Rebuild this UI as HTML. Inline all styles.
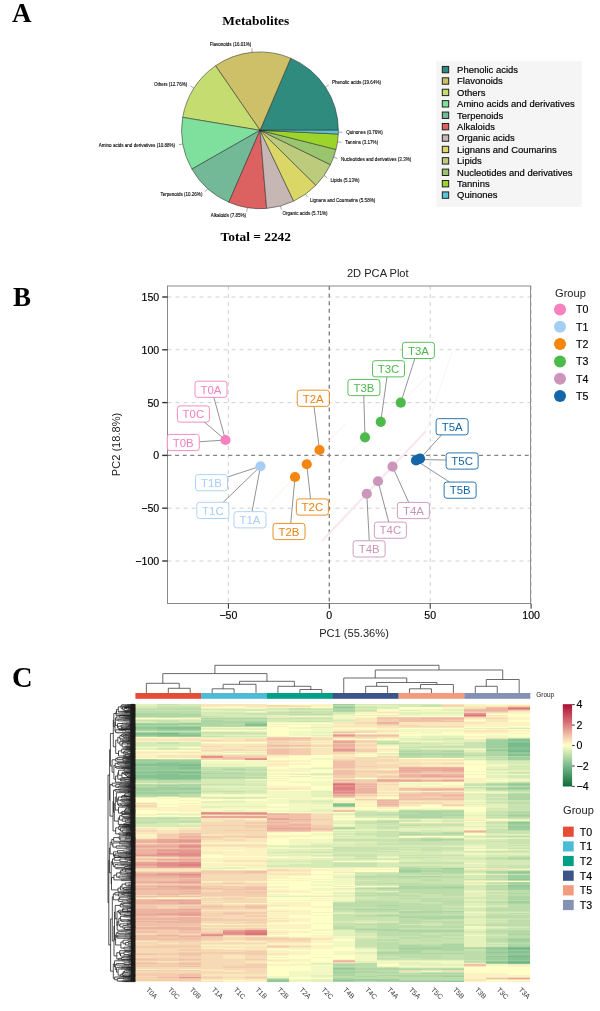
<!DOCTYPE html>
<html lang="en"><head><meta charset="utf-8"><title>Metabolites figure</title>
<style>
html,body{margin:0;padding:0;background:#fff}
svg{display:block}
text{font-family:"Liberation Sans",sans-serif}
.pl{font-family:"Liberation Serif",serif;font-weight:bold;font-size:27px;fill:#000}
.tt{font-family:"Liberation Serif",serif;font-weight:bold;font-size:13.4px;fill:#000}
.pie{font-size:4.55px;fill:#000;stroke:#000;stroke-width:0.1px}
.lg{font-size:9.45px;fill:#000;stroke:#000;stroke-width:0.18px}
.ax{font-size:10.6px;fill:#000;stroke:#000;stroke-width:0.15px}
.at{font-size:11.1px;fill:#222}
.lb{font-size:11.4px;text-anchor:middle}
.cl{font-size:6.3px;fill:#555}
</style></head><body>
<svg width="600" height="1011" viewBox="0 0 600 1011">
<rect width="600" height="1011" fill="#fff"/>
<text class="pl" x="12" y="21.8">A</text>
<text class="pl" x="13" y="305.8">B</text>
<text class="pl" x="12" y="686.7" style="font-size:28.5px">C</text>
<g id="pie">
<text class="tt" x="255.8" y="25" text-anchor="middle">Metabolites</text>
<path d="M260 130.3L338.40 130.30A78.4 78.4 0 0 0 290.73 58.17Z" fill="#2E8B7E" stroke="#222" stroke-width="0.5" stroke-linejoin="round"/>
<path d="M325.41 87.07L328.68 84.91" stroke="#222" stroke-width="0.4"/>
<text class="pie" x="331.95" y="84.25" text-anchor="start">Phenolic acids (19.64%)</text>
<path d="M260 130.3L290.73 58.17A78.4 78.4 0 0 0 215.53 65.74Z" fill="#CDC068" stroke="#222" stroke-width="0.5" stroke-linejoin="round"/>
<path d="M252.16 52.29L251.76 48.39" stroke="#222" stroke-width="0.4"/>
<text class="pie" x="251.37" y="45.99" text-anchor="end">Flavonoids (16.01%)</text>
<path d="M260 130.3L215.53 65.74A78.4 78.4 0 0 0 182.68 117.35Z" fill="#C5DC70" stroke="#222" stroke-width="0.5" stroke-linejoin="round"/>
<path d="M193.86 88.21L190.55 86.10" stroke="#222" stroke-width="0.4"/>
<text class="pie" x="187.24" y="85.50" text-anchor="end">Others (12.76%)</text>
<path d="M260 130.3L182.68 117.35A78.4 78.4 0 0 0 191.87 169.10Z" fill="#7FDF9C" stroke="#222" stroke-width="0.5" stroke-linejoin="round"/>
<path d="M182.81 144.02L178.95 144.71" stroke="#222" stroke-width="0.4"/>
<text class="pie" x="175.09" y="146.89" text-anchor="end">Amino acids and derivatives (10.88%)</text>
<path d="M260 130.3L191.87 169.10A78.4 78.4 0 0 0 228.86 202.25Z" fill="#73B897" stroke="#222" stroke-width="0.5" stroke-linejoin="round"/>
<path d="M207.67 188.68L205.06 191.60" stroke="#222" stroke-width="0.4"/>
<text class="pie" x="202.44" y="196.02" text-anchor="end">Terpenoids (10.26%)</text>
<path d="M260 130.3L228.86 202.25A78.4 78.4 0 0 0 266.64 208.42Z" fill="#DC6262" stroke="#222" stroke-width="0.5" stroke-linejoin="round"/>
<path d="M247.37 207.68L246.74 211.54" stroke="#222" stroke-width="0.4"/>
<text class="pie" x="246.11" y="216.91" text-anchor="end">Alkaloids (7.85%)</text>
<path d="M260 130.3L266.64 208.42A78.4 78.4 0 0 0 293.65 201.11Z" fill="#C6B6B4" stroke="#222" stroke-width="0.5" stroke-linejoin="round"/>
<path d="M280.47 205.98L281.50 209.76" stroke="#222" stroke-width="0.4"/>
<text class="pie" x="282.52" y="215.05" text-anchor="start">Organic acids (5.71%)</text>
<path d="M260 130.3L293.65 201.11A78.4 78.4 0 0 0 315.92 185.25Z" fill="#DBD766" stroke="#222" stroke-width="0.5" stroke-linejoin="round"/>
<path d="M305.48 194.16L307.76 197.35" stroke="#222" stroke-width="0.4"/>
<text class="pie" x="310.03" y="202.04" text-anchor="start">Lignans and Coumarins (5.58%)</text>
<path d="M260 130.3L315.92 185.25A78.4 78.4 0 0 0 330.45 164.70Z" fill="#BCCB7C" stroke="#222" stroke-width="0.5" stroke-linejoin="round"/>
<path d="M324.02 175.56L327.22 177.82" stroke="#222" stroke-width="0.4"/>
<text class="pie" x="330.42" y="181.59" text-anchor="start">Lipids (5.13%)</text>
<path d="M260 130.3L330.45 164.70A78.4 78.4 0 0 0 336.02 149.46Z" fill="#98C56E" stroke="#222" stroke-width="0.5" stroke-linejoin="round"/>
<path d="M333.63 157.23L337.31 158.57" stroke="#222" stroke-width="0.4"/>
<text class="pie" x="340.99" y="161.42" text-anchor="start">Nucleotides and derivatives (3.3%)</text>
<path d="M260 130.3L336.02 149.46A78.4 78.4 0 0 0 338.31 134.04Z" fill="#9DD42B" stroke="#222" stroke-width="0.5" stroke-linejoin="round"/>
<path d="M337.55 141.81L341.43 142.39" stroke="#222" stroke-width="0.4"/>
<text class="pie" x="345.31" y="144.46" text-anchor="start">Tannins (3.17%)</text>
<path d="M260 130.3L338.31 134.04A78.4 78.4 0 0 0 338.40 130.30Z" fill="#5BC4D8" stroke="#222" stroke-width="0.5" stroke-linejoin="round"/>
<path d="M338.38 132.17L342.30 132.27" stroke="#222" stroke-width="0.4"/>
<text class="pie" x="346.22" y="133.86" text-anchor="start">Quinones (0.76%)</text>
<text class="tt" x="255.8" y="241" text-anchor="middle">Total = 2242</text>
<rect x="436.2" y="61.2" width="145.8" height="145.8" fill="#f5f5f5"/>
<rect x="442.3" y="66.40" width="6.4" height="6.4" fill="#2E8B7E" stroke="#1a1a1a" stroke-width="0.95"/>
<text class="lg" x="457.1" y="72.90">Phenolic acids</text>
<rect x="442.3" y="77.81" width="6.4" height="6.4" fill="#CDC068" stroke="#1a1a1a" stroke-width="0.95"/>
<text class="lg" x="457.1" y="84.31">Flavonoids</text>
<rect x="442.3" y="89.22" width="6.4" height="6.4" fill="#C5DC70" stroke="#1a1a1a" stroke-width="0.95"/>
<text class="lg" x="457.1" y="95.72">Others</text>
<rect x="442.3" y="100.63" width="6.4" height="6.4" fill="#7FDF9C" stroke="#1a1a1a" stroke-width="0.95"/>
<text class="lg" x="457.1" y="107.13">Amino acids and derivatives</text>
<rect x="442.3" y="112.04" width="6.4" height="6.4" fill="#73B897" stroke="#1a1a1a" stroke-width="0.95"/>
<text class="lg" x="457.1" y="118.54">Terpenoids</text>
<rect x="442.3" y="123.45" width="6.4" height="6.4" fill="#DC6262" stroke="#1a1a1a" stroke-width="0.95"/>
<text class="lg" x="457.1" y="129.95">Alkaloids</text>
<rect x="442.3" y="134.86" width="6.4" height="6.4" fill="#C6B6B4" stroke="#1a1a1a" stroke-width="0.95"/>
<text class="lg" x="457.1" y="141.36">Organic acids</text>
<rect x="442.3" y="146.27" width="6.4" height="6.4" fill="#DBD766" stroke="#1a1a1a" stroke-width="0.95"/>
<text class="lg" x="457.1" y="152.77">Lignans and Coumarins</text>
<rect x="442.3" y="157.68" width="6.4" height="6.4" fill="#BCCB7C" stroke="#1a1a1a" stroke-width="0.95"/>
<text class="lg" x="457.1" y="164.18">Lipids</text>
<rect x="442.3" y="169.09" width="6.4" height="6.4" fill="#98C56E" stroke="#1a1a1a" stroke-width="0.95"/>
<text class="lg" x="457.1" y="175.59">Nucleotides and derivatives</text>
<rect x="442.3" y="180.50" width="6.4" height="6.4" fill="#9DD42B" stroke="#1a1a1a" stroke-width="0.95"/>
<text class="lg" x="457.1" y="187.00">Tannins</text>
<rect x="442.3" y="191.91" width="6.4" height="6.4" fill="#5BC4D8" stroke="#1a1a1a" stroke-width="0.95"/>
<text class="lg" x="457.1" y="198.41">Quinones</text>
</g>
<g id="pca">
<text class="at" x="377.8" y="277" text-anchor="middle" fill="#111">2D PCA Plot</text>
<rect x="167.5" y="286" width="363.1" height="317.5" fill="#fff"/>
<path d="M228.4 286V603.5" stroke="#cbcbcb" stroke-width="0.9" stroke-dasharray="4 4" fill="none"/>
<path d="M430.2 286V603.5" stroke="#cbcbcb" stroke-width="0.9" stroke-dasharray="4 4" fill="none"/>
<path d="M531.1 286V603.5" stroke="#cbcbcb" stroke-width="0.9" stroke-dasharray="4 4" fill="none"/>
<path d="M167.5 561.0H530.6" stroke="#cbcbcb" stroke-width="0.9" stroke-dasharray="4 4" fill="none"/>
<path d="M167.5 508.2H530.6" stroke="#cbcbcb" stroke-width="0.9" stroke-dasharray="4 4" fill="none"/>
<path d="M167.5 402.6H530.6" stroke="#cbcbcb" stroke-width="0.9" stroke-dasharray="4 4" fill="none"/>
<path d="M167.5 349.8H530.6" stroke="#cbcbcb" stroke-width="0.9" stroke-dasharray="4 4" fill="none"/>
<path d="M167.5 297.0H530.6" stroke="#cbcbcb" stroke-width="0.9" stroke-dasharray="4 4" fill="none"/>
<path d="M329.3 286V603.5M167.5 455.4H530.6" stroke="#858585" stroke-width="1.4" stroke-dasharray="4 3.6" fill="none"/>
<path d="M322 541L426 431" stroke="#fae6ee" stroke-width="2" fill="none"/>
<path d="M426 431L452 352" stroke="#fcf1f5" stroke-width="0.9" fill="none"/>
<path d="M340 463L428 376" stroke="#eef7ec" stroke-width="1" fill="none"/>
<path d="M270 503L345 424" stroke="#fdf1e2" stroke-width="1" fill="none"/>
<rect x="167.5" y="286" width="363.1" height="317.5" fill="none" stroke="#7d7d7d" stroke-width="0.9"/>
<path d="M228.4 603.5v5.2" stroke="#111" stroke-width="0.9"/>
<text class="ax" x="228.4" y="619.4" text-anchor="middle">−50</text>
<path d="M329.3 603.5v5.2" stroke="#111" stroke-width="0.9"/>
<text class="ax" x="329.3" y="619.4" text-anchor="middle">0</text>
<path d="M430.2 603.5v5.2" stroke="#111" stroke-width="0.9"/>
<text class="ax" x="430.2" y="619.4" text-anchor="middle">50</text>
<path d="M531.1 603.5v5.2" stroke="#111" stroke-width="0.9"/>
<text class="ax" x="531.1" y="619.4" text-anchor="middle">100</text>
<path d="M167.5 561.0h-5.3" stroke="#333" stroke-width="1.4"/>
<text class="ax" x="159.2" y="565.0" text-anchor="end">−100</text>
<path d="M167.5 508.2h-5.3" stroke="#333" stroke-width="1.4"/>
<text class="ax" x="159.2" y="512.2" text-anchor="end">−50</text>
<path d="M167.5 455.4h-5.3" stroke="#333" stroke-width="1.4"/>
<text class="ax" x="159.2" y="459.4" text-anchor="end">0</text>
<path d="M167.5 402.6h-5.3" stroke="#333" stroke-width="1.4"/>
<text class="ax" x="159.2" y="406.6" text-anchor="end">50</text>
<path d="M167.5 349.8h-5.3" stroke="#333" stroke-width="1.4"/>
<text class="ax" x="159.2" y="353.8" text-anchor="end">100</text>
<path d="M167.5 297.0h-5.3" stroke="#333" stroke-width="1.4"/>
<text class="ax" x="159.2" y="301.0" text-anchor="end">150</text>
<text class="at" x="354" y="637" text-anchor="middle">PC1 (55.36%)</text>
<text class="at" transform="translate(120.3 444.5) rotate(-90)" text-anchor="middle">PC2 (18.8%)</text>
<path d="M213.75 397L225.5 440" stroke="#777" stroke-width="0.8" fill="none"/>
<path d="M203.75 421.5L225.5 440" stroke="#777" stroke-width="0.8" fill="none"/>
<path d="M199.5 441.75L225.5 440" stroke="#777" stroke-width="0.8" fill="none"/>
<path d="M227.5 477L260.5 466.25" stroke="#777" stroke-width="0.8" fill="none"/>
<path d="M223 502.5L260.5 466.25" stroke="#777" stroke-width="0.8" fill="none"/>
<path d="M252 511.75L260.5 466.25" stroke="#777" stroke-width="0.8" fill="none"/>
<path d="M314 406.25L319.5 450" stroke="#777" stroke-width="0.8" fill="none"/>
<path d="M310.5 498.75L306.75 464.25" stroke="#777" stroke-width="0.8" fill="none"/>
<path d="M290.75 523.25L295 477" stroke="#777" stroke-width="0.8" fill="none"/>
<path d="M415 358L400.75 402.7" stroke="#777" stroke-width="0.8" fill="none"/>
<path d="M387 376.5L380.75 421.8" stroke="#777" stroke-width="0.8" fill="none"/>
<path d="M363.75 395.3L365 437.3" stroke="#777" stroke-width="0.8" fill="none"/>
<path d="M408.75 502.5L392.5 466.6" stroke="#777" stroke-width="0.8" fill="none"/>
<path d="M388.75 522L378 481.25" stroke="#777" stroke-width="0.8" fill="none"/>
<path d="M369.25 540.75L366.75 493.75" stroke="#777" stroke-width="0.8" fill="none"/>
<path d="M442 434.5L420 458.6" stroke="#777" stroke-width="0.8" fill="none"/>
<path d="M446.25 460L418 459.5" stroke="#777" stroke-width="0.8" fill="none"/>
<path d="M449.5 482L416 460.4" stroke="#777" stroke-width="0.8" fill="none"/>
<circle cx="225.5" cy="440" r="5.1" fill="#F781BF"/>
<circle cx="260.5" cy="466.25" r="5.1" fill="#A6CEF5"/>
<circle cx="319.5" cy="450" r="5.1" fill="#F5860F"/>
<circle cx="306.75" cy="464.25" r="5.1" fill="#F5860F"/>
<circle cx="295" cy="477" r="5.1" fill="#F5860F"/>
<circle cx="400.75" cy="402.7" r="5.1" fill="#4CBB4C"/>
<circle cx="380.75" cy="421.8" r="5.1" fill="#4CBB4C"/>
<circle cx="365" cy="437.3" r="5.1" fill="#4CBB4C"/>
<circle cx="392.5" cy="466.6" r="5.1" fill="#CC96BA"/>
<circle cx="378" cy="481.25" r="5.1" fill="#CC96BA"/>
<circle cx="366.75" cy="493.75" r="5.1" fill="#CC96BA"/>
<circle cx="420" cy="458.6" r="5.1" fill="#1566A8"/>
<circle cx="418" cy="459.5" r="5.1" fill="#1566A8"/>
<circle cx="416" cy="460.4" r="5.1" fill="#1566A8"/>
<rect x="195.00" y="381.17" width="32" height="16.2" rx="2.6" fill="#fff" stroke="#F27FBC" stroke-width="0.9"/>
<text class="lb" x="211.00" y="393.57" fill="#F27FBC">T0A</text>
<rect x="177.38" y="405.92" width="32" height="16.2" rx="2.6" fill="#fff" stroke="#F27FBC" stroke-width="0.9"/>
<text class="lb" x="193.38" y="418.32" fill="#F27FBC">T0C</text>
<rect x="167.25" y="434.42" width="32" height="16.2" rx="2.6" fill="#fff" stroke="#F27FBC" stroke-width="0.9"/>
<text class="lb" x="183.25" y="446.82" fill="#F27FBC">T0B</text>
<rect x="195.50" y="474.55" width="32" height="16.2" rx="2.6" fill="#fff" stroke="#A6CEF5" stroke-width="0.9"/>
<text class="lb" x="211.50" y="486.95" fill="#A6CEF5">T1B</text>
<rect x="196.88" y="502.30" width="32" height="16.2" rx="2.6" fill="#fff" stroke="#A6CEF5" stroke-width="0.9"/>
<text class="lb" x="212.88" y="514.70" fill="#A6CEF5">T1C</text>
<rect x="234.00" y="511.67" width="32" height="16.2" rx="2.6" fill="#fff" stroke="#A6CEF5" stroke-width="0.9"/>
<text class="lb" x="250.00" y="524.07" fill="#A6CEF5">T1A</text>
<rect x="297.25" y="390.17" width="32" height="16.2" rx="2.6" fill="#fff" stroke="#E8850F" stroke-width="0.9"/>
<text class="lb" x="313.25" y="402.57" fill="#E8850F">T2A</text>
<rect x="296.38" y="498.92" width="32" height="16.2" rx="2.6" fill="#fff" stroke="#E8850F" stroke-width="0.9"/>
<text class="lb" x="312.38" y="511.32" fill="#E8850F">T2C</text>
<rect x="273.00" y="523.42" width="32" height="16.2" rx="2.6" fill="#fff" stroke="#E8850F" stroke-width="0.9"/>
<text class="lb" x="289.00" y="535.82" fill="#E8850F">T2B</text>
<rect x="402.38" y="342.30" width="32" height="16.2" rx="2.6" fill="#fff" stroke="#4CB84C" stroke-width="0.9"/>
<text class="lb" x="418.38" y="354.70" fill="#4CB84C">T3A</text>
<rect x="372.50" y="360.67" width="32" height="16.2" rx="2.6" fill="#fff" stroke="#4CB84C" stroke-width="0.9"/>
<text class="lb" x="388.50" y="373.07" fill="#4CB84C">T3C</text>
<rect x="347.90" y="379.45" width="32" height="16.2" rx="2.6" fill="#fff" stroke="#4CB84C" stroke-width="0.9"/>
<text class="lb" x="363.90" y="391.85" fill="#4CB84C">T3B</text>
<rect x="397.38" y="502.42" width="32" height="16.2" rx="2.6" fill="#fff" stroke="#C993B7" stroke-width="0.9"/>
<text class="lb" x="413.38" y="514.82" fill="#C993B7">T4A</text>
<rect x="374.38" y="522.05" width="32" height="16.2" rx="2.6" fill="#fff" stroke="#C993B7" stroke-width="0.9"/>
<text class="lb" x="390.38" y="534.45" fill="#C993B7">T4C</text>
<rect x="353.12" y="540.80" width="32" height="16.2" rx="2.6" fill="#fff" stroke="#C993B7" stroke-width="0.9"/>
<text class="lb" x="369.12" y="553.20" fill="#C993B7">T4B</text>
<rect x="436.12" y="418.67" width="32" height="16.2" rx="2.6" fill="#fff" stroke="#1566A8" stroke-width="0.9"/>
<text class="lb" x="452.12" y="431.07" fill="#1566A8">T5A</text>
<rect x="446.12" y="452.92" width="32" height="16.2" rx="2.6" fill="#fff" stroke="#1566A8" stroke-width="0.9"/>
<text class="lb" x="462.12" y="465.32" fill="#1566A8">T5C</text>
<rect x="444.12" y="482.05" width="32" height="16.2" rx="2.6" fill="#fff" stroke="#1566A8" stroke-width="0.9"/>
<text class="lb" x="460.12" y="494.45" fill="#1566A8">T5B</text>
<text class="at" x="555" y="296.6" fill="#111">Group</text>
<circle cx="560" cy="309.4" r="6" fill="#F781BF"/>
<text class="ax" x="576" y="313.2" fill="#111">T0</text>
<circle cx="560" cy="326.7" r="6" fill="#A6CEF5"/>
<text class="ax" x="576" y="330.5" fill="#111">T1</text>
<circle cx="560" cy="344.1" r="6" fill="#F5860F"/>
<text class="ax" x="576" y="347.9" fill="#111">T2</text>
<circle cx="560" cy="361.4" r="6" fill="#4CBB4C"/>
<text class="ax" x="576" y="365.2" fill="#111">T3</text>
<circle cx="560" cy="378.7" r="6" fill="#CC96BA"/>
<text class="ax" x="576" y="382.5" fill="#111">T4</text>
<circle cx="560" cy="396.0" r="6" fill="#1566A8"/>
<text class="ax" x="576" y="399.8" fill="#111">T5</text>
</g>
<g id="heatmap">
<rect x="135.4" y="704" width="394.7" height="277.7" fill="#eef0c0"/>
<g shape-rendering="crispEdges">
<path fill="#6db284" d="M508.2 948h21.9v1h-21.9zM508.2 962h21.9v1h-21.9z"/>
<path fill="#78ba8c" d="M157.3 733h21.9v1h-21.9zM508.2 743h21.9v1h-21.9zM508.2 744h21.9v1h-21.9zM508.2 745h21.9v1h-21.9zM508.2 746h21.9v1h-21.9zM508.2 750h21.9v1h-21.9zM508.2 751h21.9v1h-21.9zM179.3 765h21.9v1h-21.9zM179.3 772h21.9v1h-21.9zM508.2 956h21.9v1h-21.9zM508.2 961h21.9v1h-21.9z"/>
<path fill="#86c192" d="M245.1 724h21.9v1h-21.9zM245.1 725h21.9v1h-21.9zM157.3 727h43.9v1h-43.9zM157.3 728h43.9v1h-43.9zM135.4 733h21.9v1h-21.9zM135.4 734h43.9v1h-43.9zM157.3 735h43.9v1h-43.9zM508.2 739h21.9v1h-21.9zM508.2 740h21.9v1h-21.9zM508.2 742h21.9v1h-21.9zM508.2 747h21.9v1h-21.9zM508.2 748h21.9v1h-21.9zM508.2 749h21.9v1h-21.9zM508.2 754h21.9v1h-21.9zM508.2 755h21.9v1h-21.9zM157.3 763h21.9v1h-21.9zM135.4 764h65.8v1h-65.8zM135.4 765h43.9v1h-43.9zM179.3 767h21.9v1h-21.9zM179.3 768h21.9v1h-21.9zM157.3 771h21.9v1h-21.9zM135.4 772h43.9v1h-43.9zM157.3 774h21.9v1h-21.9zM135.4 775h65.8v1h-65.8zM135.4 776h65.8v1h-65.8zM135.4 777h65.8v1h-65.8zM157.3 778h43.9v1h-43.9zM332.8 804h21.9v1h-21.9zM332.8 805h21.9v1h-21.9zM508.2 947h21.9v1h-21.9zM508.2 949h21.9v1h-21.9zM508.2 951h21.9v1h-21.9zM508.2 952h21.9v1h-21.9zM508.2 955h21.9v1h-21.9zM508.2 957h21.9v1h-21.9zM508.2 958h21.9v1h-21.9zM508.2 959h21.9v1h-21.9zM486.3 962h21.9v1h-21.9zM508.2 963h21.9v1h-21.9z"/>
<path fill="#93c898" d="M332.8 707h21.9v1h-21.9zM245.1 723h21.9v1h-21.9zM135.4 724h43.9v1h-43.9zM135.4 727h21.9v1h-21.9zM135.4 728h21.9v1h-21.9zM157.3 729h43.9v1h-43.9zM179.3 733h21.9v1h-21.9zM179.3 734h21.9v1h-21.9zM135.4 735h21.9v1h-21.9zM508.2 741h21.9v1h-21.9zM486.3 750h21.9v1h-21.9zM508.2 752h21.9v1h-21.9zM508.2 753h21.9v1h-21.9zM157.3 762h43.9v1h-43.9zM135.4 763h21.9v1h-21.9zM179.3 763h21.9v1h-21.9zM157.3 766h43.9v1h-43.9zM135.4 767h43.9v1h-43.9zM135.4 768h43.9v1h-43.9zM135.4 769h65.8v1h-65.8zM135.4 771h21.9v1h-21.9zM179.3 771h21.9v1h-21.9zM135.4 773h65.8v1h-65.8zM135.4 774h21.9v1h-21.9zM179.3 774h21.9v1h-21.9zM135.4 778h21.9v1h-21.9zM157.3 779h43.9v1h-43.9zM508.2 784h21.9v1h-21.9zM179.3 788h21.9v1h-21.9zM508.2 788h21.9v1h-21.9zM508.2 822h21.9v1h-21.9zM508.2 823h21.9v1h-21.9zM508.2 826h21.9v1h-21.9zM508.2 872h21.9v1h-21.9zM508.2 879h21.9v1h-21.9zM508.2 885h21.9v1h-21.9zM508.2 886h21.9v1h-21.9zM486.3 948h21.9v1h-21.9zM508.2 950h21.9v1h-21.9zM486.3 952h21.9v1h-21.9zM508.2 953h21.9v1h-21.9zM508.2 954h21.9v1h-21.9zM486.3 956h21.9v1h-21.9zM508.2 960h21.9v1h-21.9zM486.3 961h21.9v1h-21.9zM332.8 968h21.9v1h-21.9zM267.0 980h21.9v1h-21.9zM332.8 980h21.9v1h-21.9zM267.0 981h21.9v1h-21.9zM442.4 981h21.9v1h-21.9z"/>
<path fill="#a0cf9e" d="M332.8 704h21.9v1h-21.9zM245.1 722h21.9v1h-21.9zM179.3 723h21.9v1h-21.9zM179.3 724h21.9v1h-21.9zM135.4 726h65.8v1h-65.8zM135.4 729h21.9v1h-21.9zM157.3 730h43.9v1h-43.9zM135.4 732h43.9v1h-43.9zM157.3 736h43.9v1h-43.9zM486.3 740h21.9v1h-21.9zM486.3 741h21.9v1h-21.9zM486.3 742h21.9v1h-21.9zM486.3 743h21.9v1h-21.9zM486.3 744h21.9v1h-21.9zM486.3 745h21.9v1h-21.9zM486.3 746h21.9v1h-21.9zM486.3 747h21.9v1h-21.9zM486.3 749h21.9v1h-21.9zM508.2 757h21.9v1h-21.9zM508.2 758h21.9v1h-21.9zM508.2 759h21.9v1h-21.9zM135.4 760h65.8v1h-65.8zM135.4 761h65.8v1h-65.8zM135.4 762h21.9v1h-21.9zM135.4 766h21.9v1h-21.9zM135.4 770h65.8v1h-65.8zM135.4 779h21.9v1h-21.9zM508.2 783h21.9v1h-21.9zM157.3 785h21.9v1h-21.9zM508.2 785h21.9v1h-21.9zM157.3 787h21.9v1h-21.9zM508.2 787h21.9v1h-21.9zM135.4 788h43.9v1h-43.9zM135.4 789h65.8v1h-65.8zM135.4 790h21.9v1h-21.9zM135.4 792h65.8v1h-65.8zM135.4 793h43.9v1h-43.9zM332.8 803h21.9v1h-21.9zM332.8 806h21.9v1h-21.9zM508.2 815h21.9v1h-21.9zM508.2 824h21.9v1h-21.9zM508.2 827h21.9v1h-21.9zM508.2 828h21.9v1h-21.9zM508.2 829h21.9v1h-21.9zM442.4 868h21.9v1h-21.9zM398.6 870h21.9v1h-21.9zM398.6 871h21.9v1h-21.9zM508.2 871h21.9v1h-21.9zM508.2 873h21.9v1h-21.9zM508.2 875h21.9v1h-21.9zM508.2 876h21.9v1h-21.9zM508.2 877h21.9v1h-21.9zM508.2 878h21.9v1h-21.9zM508.2 883h21.9v1h-21.9zM442.4 887h21.9v1h-21.9zM508.2 887h21.9v1h-21.9zM508.2 888h21.9v1h-21.9zM508.2 889h21.9v1h-21.9zM508.2 901h21.9v1h-21.9zM508.2 902h21.9v1h-21.9zM508.2 939h21.9v1h-21.9zM508.2 940h21.9v1h-21.9zM508.2 946h21.9v1h-21.9zM486.3 947h21.9v1h-21.9zM398.6 948h43.9v1h-43.9zM486.3 949h21.9v1h-21.9zM486.3 950h21.9v1h-21.9zM486.3 951h21.9v1h-21.9zM486.3 953h21.9v1h-21.9zM486.3 954h21.9v1h-21.9zM486.3 957h21.9v1h-21.9zM486.3 958h21.9v1h-21.9zM486.3 959h21.9v1h-21.9zM486.3 963h21.9v1h-21.9zM332.8 969h21.9v1h-21.9zM332.8 972h21.9v1h-21.9zM442.4 976h21.9v1h-21.9zM267.0 979h21.9v1h-21.9zM332.8 979h65.8v1h-65.8zM354.7 980h43.9v1h-43.9zM398.6 981h43.9v1h-43.9z"/>
<path fill="#aed6a4" d="M332.8 706h21.9v1h-21.9zM332.8 708h21.9v1h-21.9zM332.8 709h21.9v1h-21.9zM332.8 710h21.9v1h-21.9zM332.8 711h21.9v1h-21.9zM135.4 713h43.9v1h-43.9zM135.4 714h65.8v1h-65.8zM135.4 715h65.8v1h-65.8zM135.4 716h65.8v1h-65.8zM201.2 718h65.8v1h-65.8zM201.2 720h21.9v1h-21.9zM201.2 721h65.8v1h-65.8zM201.2 722h43.9v1h-43.9zM135.4 723h43.9v1h-43.9zM201.2 723h43.9v1h-43.9zM201.2 724h21.9v1h-21.9zM135.4 725h43.9v1h-43.9zM201.2 725h43.9v1h-43.9zM135.4 730h21.9v1h-21.9zM179.3 732h21.9v1h-21.9zM135.4 736h21.9v1h-21.9zM486.3 739h21.9v1h-21.9zM486.3 748h21.9v1h-21.9zM398.6 751h21.9v1h-21.9zM442.4 751h21.9v1h-21.9zM486.3 751h21.9v1h-21.9zM486.3 752h21.9v1h-21.9zM398.6 753h65.8v1h-65.8zM486.3 753h21.9v1h-21.9zM398.6 754h65.8v1h-65.8zM486.3 754h21.9v1h-21.9zM398.6 755h21.9v1h-21.9zM442.4 755h21.9v1h-21.9zM486.3 755h21.9v1h-21.9zM508.2 756h21.9v1h-21.9zM135.4 759h21.9v1h-21.9zM223.1 769h21.9v1h-21.9zM201.2 773h43.9v1h-43.9zM201.2 777h43.9v1h-43.9zM179.3 784h21.9v1h-21.9zM486.3 784h21.9v1h-21.9zM135.4 785h21.9v1h-21.9zM179.3 785h21.9v1h-21.9zM157.3 786h43.9v1h-43.9zM135.4 787h21.9v1h-21.9zM179.3 787h21.9v1h-21.9zM486.3 788h21.9v1h-21.9zM486.3 789h43.9v1h-43.9zM157.3 790h43.9v1h-43.9zM135.4 791h65.8v1h-65.8zM179.3 793h21.9v1h-21.9zM135.4 794h43.9v1h-43.9zM508.2 794h21.9v1h-21.9zM135.4 795h43.9v1h-43.9zM508.2 795h21.9v1h-21.9zM508.2 796h21.9v1h-21.9zM508.2 797h21.9v1h-21.9zM508.2 798h21.9v1h-21.9zM508.2 799h21.9v1h-21.9zM398.6 811h65.8v1h-65.8zM398.6 812h65.8v1h-65.8zM508.2 812h21.9v1h-21.9zM420.5 813h21.9v1h-21.9zM398.6 814h65.8v1h-65.8zM508.2 814h21.9v1h-21.9zM398.6 815h65.8v1h-65.8zM398.6 816h43.9v1h-43.9zM508.2 816h21.9v1h-21.9zM398.6 817h43.9v1h-43.9zM508.2 825h21.9v1h-21.9zM332.8 828h21.9v1h-21.9zM442.4 833h21.9v1h-21.9zM398.6 834h21.9v1h-21.9zM420.5 839h43.9v1h-43.9zM420.5 840h21.9v1h-21.9zM508.2 858h21.9v1h-21.9zM398.6 868h43.9v1h-43.9zM398.6 869h21.9v1h-21.9zM442.4 869h21.9v1h-21.9zM420.5 870h43.9v1h-43.9zM420.5 871h43.9v1h-43.9zM486.3 871h21.9v1h-21.9zM398.6 872h21.9v1h-21.9zM442.4 872h21.9v1h-21.9zM486.3 872h21.9v1h-21.9zM398.6 876h43.9v1h-43.9zM508.2 882h21.9v1h-21.9zM508.2 884h21.9v1h-21.9zM398.6 886h65.8v1h-65.8zM398.6 887h43.9v1h-43.9zM376.6 888h87.7v1h-87.7zM508.2 893h21.9v1h-21.9zM508.2 896h21.9v1h-21.9zM508.2 897h21.9v1h-21.9zM508.2 898h21.9v1h-21.9zM508.2 899h21.9v1h-21.9zM508.2 903h21.9v1h-21.9zM376.6 905h21.9v1h-21.9zM354.7 909h43.9v1h-43.9zM398.6 911h65.8v1h-65.8zM398.6 912h43.9v1h-43.9zM376.6 915h21.9v1h-21.9zM398.6 916h65.8v1h-65.8zM398.6 917h65.8v1h-65.8zM420.5 918h43.9v1h-43.9zM354.7 929h43.9v1h-43.9zM376.6 930h87.7v1h-87.7zM398.6 931h65.8v1h-65.8zM508.2 931h21.9v1h-21.9zM508.2 933h21.9v1h-21.9zM508.2 934h21.9v1h-21.9zM508.2 938h21.9v1h-21.9zM508.2 941h21.9v1h-21.9zM508.2 942h21.9v1h-21.9zM442.4 944h21.9v1h-21.9zM508.2 944h21.9v1h-21.9zM398.6 945h21.9v1h-21.9zM442.4 945h21.9v1h-21.9zM508.2 945h21.9v1h-21.9zM398.6 946h65.8v1h-65.8zM398.6 947h65.8v1h-65.8zM442.4 948h43.9v1h-43.9zM398.6 949h65.8v1h-65.8zM398.6 950h21.9v1h-21.9zM442.4 950h21.9v1h-21.9zM398.6 951h21.9v1h-21.9zM376.6 952h43.9v1h-43.9zM376.6 953h87.7v1h-87.7zM486.3 955h21.9v1h-21.9zM486.3 960h21.9v1h-21.9zM332.8 964h21.9v1h-21.9zM332.8 965h21.9v1h-21.9zM332.8 967h21.9v1h-21.9zM354.7 968h43.9v1h-43.9zM354.7 969h65.8v1h-65.8zM442.4 969h21.9v1h-21.9zM332.8 970h21.9v1h-21.9zM332.8 971h43.9v1h-43.9zM354.7 972h43.9v1h-43.9zM332.8 973h21.9v1h-21.9zM420.5 973h43.9v1h-43.9zM332.8 974h21.9v1h-21.9zM332.8 975h21.9v1h-21.9zM376.6 975h87.7v1h-87.7zM354.7 976h21.9v1h-21.9zM398.6 976h43.9v1h-43.9zM332.8 978h21.9v1h-21.9zM398.6 980h65.8v1h-65.8zM332.8 981h21.9v1h-21.9zM376.6 981h21.9v1h-21.9z"/>
<path fill="#bcdcaa" d="M332.8 705h21.9v1h-21.9zM157.3 708h43.9v1h-43.9zM135.4 709h65.8v1h-65.8zM135.4 711h65.8v1h-65.8zM135.4 712h65.8v1h-65.8zM288.9 712h21.9v1h-21.9zM179.3 713h21.9v1h-21.9zM288.9 714h43.9v1h-43.9zM201.2 719h65.8v1h-65.8zM223.1 720h43.9v1h-43.9zM223.1 724h21.9v1h-21.9zM179.3 725h21.9v1h-21.9zM201.2 726h65.8v1h-65.8zM508.2 738h21.9v1h-21.9zM376.6 743h21.9v1h-21.9zM398.6 750h65.8v1h-65.8zM420.5 751h21.9v1h-21.9zM398.6 752h65.8v1h-65.8zM420.5 755h21.9v1h-21.9zM464.4 755h21.9v1h-21.9zM398.6 756h65.8v1h-65.8zM398.6 757h21.9v1h-21.9zM442.4 757h21.9v1h-21.9zM486.3 757h21.9v1h-21.9zM157.3 759h43.9v1h-43.9zM486.3 759h21.9v1h-21.9zM223.1 768h21.9v1h-21.9zM201.2 769h21.9v1h-21.9zM245.1 769h21.9v1h-21.9zM223.1 770h21.9v1h-21.9zM201.2 771h21.9v1h-21.9zM201.2 772h43.9v1h-43.9zM245.1 773h21.9v1h-21.9zM201.2 774h65.8v1h-65.8zM201.2 775h65.8v1h-65.8zM201.2 776h43.9v1h-43.9zM245.1 777h21.9v1h-21.9zM201.2 778h65.8v1h-65.8zM135.4 780h65.8v1h-65.8zM157.3 781h43.9v1h-43.9zM157.3 782h21.9v1h-21.9zM486.3 783h21.9v1h-21.9zM135.4 784h43.9v1h-43.9zM486.3 785h21.9v1h-21.9zM135.4 786h21.9v1h-21.9zM508.2 786h21.9v1h-21.9zM486.3 787h21.9v1h-21.9zM508.2 790h21.9v1h-21.9zM508.2 793h21.9v1h-21.9zM179.3 794h21.9v1h-21.9zM179.3 795h21.9v1h-21.9zM135.4 796h21.9v1h-21.9zM179.3 796h21.9v1h-21.9zM508.2 802h21.9v1h-21.9zM508.2 803h21.9v1h-21.9zM398.6 810h65.8v1h-65.8zM508.2 811h21.9v1h-21.9zM398.6 813h21.9v1h-21.9zM442.4 813h21.9v1h-21.9zM508.2 813h21.9v1h-21.9zM376.6 814h21.9v1h-21.9zM486.3 815h21.9v1h-21.9zM442.4 816h21.9v1h-21.9zM442.4 817h21.9v1h-21.9zM508.2 817h21.9v1h-21.9zM157.3 818h21.9v1h-21.9zM179.3 821h21.9v1h-21.9zM376.6 821h21.9v1h-21.9zM508.2 821h21.9v1h-21.9zM135.4 822h21.9v1h-21.9zM376.6 822h21.9v1h-21.9zM398.6 825h21.9v1h-21.9zM332.8 827h21.9v1h-21.9zM508.2 830h21.9v1h-21.9zM398.6 832h21.9v1h-21.9zM442.4 832h21.9v1h-21.9zM398.6 833h43.9v1h-43.9zM420.5 834h43.9v1h-43.9zM508.2 836h21.9v1h-21.9zM420.5 838h21.9v1h-21.9zM398.6 839h21.9v1h-21.9zM398.6 840h21.9v1h-21.9zM442.4 840h21.9v1h-21.9zM508.2 857h21.9v1h-21.9zM486.3 858h21.9v1h-21.9zM508.2 859h21.9v1h-21.9zM398.6 867h21.9v1h-21.9zM420.5 869h21.9v1h-21.9zM420.5 872h21.9v1h-21.9zM398.6 873h65.8v1h-65.8zM486.3 873h21.9v1h-21.9zM420.5 874h21.9v1h-21.9zM376.6 875h21.9v1h-21.9zM486.3 875h21.9v1h-21.9zM354.7 876h43.9v1h-43.9zM442.4 876h21.9v1h-21.9zM486.3 876h21.9v1h-21.9zM354.7 877h109.7v1h-109.7zM486.3 877h21.9v1h-21.9zM398.6 878h21.9v1h-21.9zM420.5 879h21.9v1h-21.9zM486.3 879h21.9v1h-21.9zM420.5 880h21.9v1h-21.9zM508.2 880h21.9v1h-21.9zM376.6 883h43.9v1h-43.9zM398.6 884h65.8v1h-65.8zM398.6 885h65.8v1h-65.8zM486.3 885h21.9v1h-21.9zM486.3 886h21.9v1h-21.9zM486.3 887h21.9v1h-21.9zM354.7 888h21.9v1h-21.9zM486.3 888h21.9v1h-21.9zM376.6 889h87.7v1h-87.7zM486.3 889h21.9v1h-21.9zM398.6 890h65.8v1h-65.8zM508.2 890h21.9v1h-21.9zM398.6 891h65.8v1h-65.8zM508.2 891h21.9v1h-21.9zM398.6 892h65.8v1h-65.8zM508.2 892h21.9v1h-21.9zM354.7 893h43.9v1h-43.9zM420.5 893h43.9v1h-43.9zM376.6 894h21.9v1h-21.9zM442.4 894h21.9v1h-21.9zM508.2 894h21.9v1h-21.9zM354.7 895h65.8v1h-65.8zM442.4 895h21.9v1h-21.9zM508.2 895h21.9v1h-21.9zM398.6 896h21.9v1h-21.9zM398.6 898h65.8v1h-65.8zM420.5 899h21.9v1h-21.9zM420.5 900h43.9v1h-43.9zM508.2 900h21.9v1h-21.9zM354.7 901h43.9v1h-43.9zM420.5 901h43.9v1h-43.9zM486.3 901h21.9v1h-21.9zM354.7 902h43.9v1h-43.9zM442.4 902h21.9v1h-21.9zM486.3 902h21.9v1h-21.9zM332.8 903h87.7v1h-87.7zM442.4 903h21.9v1h-21.9zM332.8 904h131.6v1h-131.6zM508.2 904h21.9v1h-21.9zM332.8 905h43.9v1h-43.9zM398.6 905h43.9v1h-43.9zM508.2 905h21.9v1h-21.9zM332.8 906h109.7v1h-109.7zM508.2 906h21.9v1h-21.9zM376.6 907h65.8v1h-65.8zM508.2 907h21.9v1h-21.9zM332.8 908h131.6v1h-131.6zM486.3 908h43.9v1h-43.9zM332.8 909h21.9v1h-21.9zM398.6 909h43.9v1h-43.9zM486.3 909h43.9v1h-43.9zM354.7 910h43.9v1h-43.9zM420.5 910h21.9v1h-21.9zM486.3 910h43.9v1h-43.9zM354.7 911h43.9v1h-43.9zM442.4 912h21.9v1h-21.9zM398.6 913h65.8v1h-65.8zM508.2 913h21.9v1h-21.9zM376.6 914h65.8v1h-65.8zM354.7 915h21.9v1h-21.9zM398.6 915h65.8v1h-65.8zM486.3 915h43.9v1h-43.9zM354.7 916h43.9v1h-43.9zM486.3 916h43.9v1h-43.9zM486.3 917h43.9v1h-43.9zM398.6 918h21.9v1h-21.9zM398.6 919h43.9v1h-43.9zM398.6 920h21.9v1h-21.9zM508.2 920h21.9v1h-21.9zM398.6 921h65.8v1h-65.8zM508.2 921h21.9v1h-21.9zM398.6 922h21.9v1h-21.9zM442.4 922h21.9v1h-21.9zM508.2 922h21.9v1h-21.9zM376.6 923h43.9v1h-43.9zM442.4 923h21.9v1h-21.9zM508.2 923h21.9v1h-21.9zM354.7 924h43.9v1h-43.9zM486.3 924h43.9v1h-43.9zM376.6 925h43.9v1h-43.9zM442.4 925h21.9v1h-21.9zM486.3 925h43.9v1h-43.9zM332.8 926h21.9v1h-21.9zM376.6 926h87.7v1h-87.7zM332.8 927h21.9v1h-21.9zM376.6 927h87.7v1h-87.7zM332.8 928h65.8v1h-65.8zM398.6 929h65.8v1h-65.8zM354.7 930h21.9v1h-21.9zM486.3 930h43.9v1h-43.9zM376.6 931h21.9v1h-21.9zM486.3 931h21.9v1h-21.9zM376.6 932h87.7v1h-87.7zM486.3 932h43.9v1h-43.9zM376.6 933h43.9v1h-43.9zM376.6 934h43.9v1h-43.9zM442.4 934h21.9v1h-21.9zM376.6 935h87.7v1h-87.7zM508.2 935h21.9v1h-21.9zM420.5 936h21.9v1h-21.9zM508.2 936h21.9v1h-21.9zM398.6 937h43.9v1h-43.9zM508.2 937h21.9v1h-21.9zM398.6 938h21.9v1h-21.9zM442.4 938h21.9v1h-21.9zM486.3 938h21.9v1h-21.9zM376.6 939h21.9v1h-21.9zM486.3 939h21.9v1h-21.9zM376.6 940h21.9v1h-21.9zM420.5 940h21.9v1h-21.9zM486.3 940h21.9v1h-21.9zM486.3 941h21.9v1h-21.9zM376.6 942h21.9v1h-21.9zM376.6 943h21.9v1h-21.9zM442.4 943h21.9v1h-21.9zM508.2 943h21.9v1h-21.9zM376.6 944h65.8v1h-65.8zM376.6 945h21.9v1h-21.9zM420.5 945h21.9v1h-21.9zM376.6 946h21.9v1h-21.9zM376.6 947h21.9v1h-21.9zM464.4 947h21.9v1h-21.9zM376.6 948h21.9v1h-21.9zM420.5 950h21.9v1h-21.9zM376.6 951h21.9v1h-21.9zM420.5 951h65.8v1h-65.8zM420.5 952h65.8v1h-65.8zM464.4 953h21.9v1h-21.9zM376.6 954h109.7v1h-109.7zM376.6 955h65.8v1h-65.8zM464.4 955h21.9v1h-21.9zM398.6 956h87.7v1h-87.7zM398.6 957h43.9v1h-43.9zM464.4 957h21.9v1h-21.9zM376.6 958h21.9v1h-21.9zM420.5 958h65.8v1h-65.8zM464.4 959h21.9v1h-21.9zM464.4 961h21.9v1h-21.9zM354.7 963h21.9v1h-21.9zM354.7 964h21.9v1h-21.9zM354.7 965h21.9v1h-21.9zM332.8 966h43.9v1h-43.9zM354.7 967h21.9v1h-21.9zM398.6 968h65.8v1h-65.8zM420.5 969h21.9v1h-21.9zM354.7 970h43.9v1h-43.9zM376.6 971h21.9v1h-21.9zM354.7 973h65.8v1h-65.8zM354.7 974h109.7v1h-109.7zM354.7 975h21.9v1h-21.9zM332.8 976h21.9v1h-21.9zM376.6 976h21.9v1h-21.9zM332.8 977h131.6v1h-131.6zM354.7 978h109.7v1h-109.7zM398.6 979h65.8v1h-65.8zM354.7 981h21.9v1h-21.9z"/>
<path fill="#c9e3b0" d="M157.3 704h21.9v1h-21.9zM420.5 705h21.9v1h-21.9zM157.3 706h43.9v1h-43.9zM420.5 706h21.9v1h-21.9zM157.3 707h43.9v1h-43.9zM354.7 707h21.9v1h-21.9zM135.4 708h21.9v1h-21.9zM288.9 708h21.9v1h-21.9zM288.9 709h43.9v1h-43.9zM135.4 710h65.8v1h-65.8zM354.7 710h21.9v1h-21.9zM288.9 711h43.9v1h-43.9zM267.0 712h21.9v1h-21.9zM310.8 712h21.9v1h-21.9zM223.1 713h109.7v1h-109.7zM245.1 714h43.9v1h-43.9zM201.2 716h21.9v1h-21.9zM157.3 717h21.9v1h-21.9zM201.2 717h65.8v1h-65.8zM267.0 718h65.8v1h-65.8zM135.4 720h43.9v1h-43.9zM157.3 721h21.9v1h-21.9zM288.9 721h43.9v1h-43.9zM157.3 722h43.9v1h-43.9zM157.3 731h43.9v1h-43.9zM201.2 732h43.9v1h-43.9zM201.2 733h65.8v1h-65.8zM201.2 736h21.9v1h-21.9zM376.6 741h21.9v1h-21.9zM157.3 742h21.9v1h-21.9zM376.6 742h21.9v1h-21.9zM464.4 742h21.9v1h-21.9zM157.3 743h21.9v1h-21.9zM398.6 743h21.9v1h-21.9zM464.4 743h21.9v1h-21.9zM464.4 744h21.9v1h-21.9zM464.4 745h21.9v1h-21.9zM420.5 746h65.8v1h-65.8zM398.6 747h87.7v1h-87.7zM398.6 749h21.9v1h-21.9zM464.4 753h21.9v1h-21.9zM464.4 754h21.9v1h-21.9zM486.3 756h21.9v1h-21.9zM420.5 757h21.9v1h-21.9zM486.3 758h21.9v1h-21.9zM508.2 760h21.9v1h-21.9zM201.2 767h65.8v1h-65.8zM201.2 768h21.9v1h-21.9zM245.1 768h21.9v1h-21.9zM201.2 770h21.9v1h-21.9zM245.1 770h21.9v1h-21.9zM223.1 771h43.9v1h-43.9zM245.1 772h21.9v1h-21.9zM508.2 772h21.9v1h-21.9zM245.1 776h21.9v1h-21.9zM135.4 781h21.9v1h-21.9zM135.4 782h21.9v1h-21.9zM179.3 782h21.9v1h-21.9zM508.2 782h21.9v1h-21.9zM201.2 784h43.9v1h-43.9zM464.4 784h21.9v1h-21.9zM464.4 785h21.9v1h-21.9zM464.4 787h21.9v1h-21.9zM486.3 790h21.9v1h-21.9zM201.2 791h43.9v1h-43.9zM508.2 791h21.9v1h-21.9zM486.3 794h21.9v1h-21.9zM486.3 795h21.9v1h-21.9zM157.3 796h21.9v1h-21.9zM486.3 796h21.9v1h-21.9zM486.3 798h21.9v1h-21.9zM486.3 799h21.9v1h-21.9zM508.2 800h21.9v1h-21.9zM508.2 801h21.9v1h-21.9zM486.3 802h21.9v1h-21.9zM508.2 804h21.9v1h-21.9zM508.2 805h21.9v1h-21.9zM508.2 806h21.9v1h-21.9zM508.2 807h21.9v1h-21.9zM508.2 808h21.9v1h-21.9zM508.2 809h21.9v1h-21.9zM508.2 810h21.9v1h-21.9zM486.3 811h21.9v1h-21.9zM354.7 812h43.9v1h-43.9zM486.3 812h21.9v1h-21.9zM354.7 813h43.9v1h-43.9zM486.3 813h21.9v1h-21.9zM354.7 814h21.9v1h-21.9zM486.3 814h21.9v1h-21.9zM354.7 815h43.9v1h-43.9zM486.3 816h21.9v1h-21.9zM135.4 817h65.8v1h-65.8zM486.3 817h21.9v1h-21.9zM135.4 818h21.9v1h-21.9zM179.3 818h21.9v1h-21.9zM398.6 818h65.8v1h-65.8zM508.2 818h21.9v1h-21.9zM135.4 819h43.9v1h-43.9zM135.4 820h65.8v1h-65.8zM376.6 820h43.9v1h-43.9zM135.4 821h43.9v1h-43.9zM354.7 821h21.9v1h-21.9zM157.3 822h43.9v1h-43.9zM354.7 822h21.9v1h-21.9zM486.3 822h21.9v1h-21.9zM135.4 823h21.9v1h-21.9zM354.7 823h43.9v1h-43.9zM486.3 823h21.9v1h-21.9zM376.6 824h87.7v1h-87.7zM420.5 825h43.9v1h-43.9zM376.6 826h21.9v1h-21.9zM486.3 826h21.9v1h-21.9zM376.6 827h21.9v1h-21.9zM376.6 828h21.9v1h-21.9zM486.3 829h21.9v1h-21.9zM486.3 830h21.9v1h-21.9zM376.6 831h21.9v1h-21.9zM486.3 831h43.9v1h-43.9zM376.6 832h21.9v1h-21.9zM420.5 832h21.9v1h-21.9zM486.3 832h43.9v1h-43.9zM354.7 833h43.9v1h-43.9zM508.2 833h21.9v1h-21.9zM354.7 834h43.9v1h-43.9zM376.6 835h87.7v1h-87.7zM376.6 836h21.9v1h-21.9zM486.3 836h21.9v1h-21.9zM398.6 838h21.9v1h-21.9zM442.4 838h21.9v1h-21.9zM332.8 839h65.8v1h-65.8zM508.2 839h21.9v1h-21.9zM332.8 840h65.8v1h-65.8zM508.2 840h21.9v1h-21.9zM376.6 841h87.7v1h-87.7zM486.3 841h43.9v1h-43.9zM398.6 842h65.8v1h-65.8zM508.2 842h21.9v1h-21.9zM376.6 843h87.7v1h-87.7zM508.2 843h21.9v1h-21.9zM376.6 844h87.7v1h-87.7zM508.2 845h21.9v1h-21.9zM332.8 847h131.6v1h-131.6zM332.8 848h65.8v1h-65.8zM420.5 848h43.9v1h-43.9zM508.2 848h21.9v1h-21.9zM332.8 849h131.6v1h-131.6zM332.8 850h43.9v1h-43.9zM420.5 850h21.9v1h-21.9zM332.8 851h65.8v1h-65.8zM486.3 851h43.9v1h-43.9zM310.8 852h21.9v1h-21.9zM332.8 854h43.9v1h-43.9zM332.8 855h43.9v1h-43.9zM398.6 855h65.8v1h-65.8zM354.7 856h21.9v1h-21.9zM508.2 856h21.9v1h-21.9zM398.6 857h43.9v1h-43.9zM486.3 857h21.9v1h-21.9zM354.7 858h21.9v1h-21.9zM486.3 859h21.9v1h-21.9zM398.6 862h65.8v1h-65.8zM332.8 863h43.9v1h-43.9zM398.6 863h65.8v1h-65.8zM332.8 864h43.9v1h-43.9zM332.8 865h43.9v1h-43.9zM486.3 865h43.9v1h-43.9zM332.8 866h43.9v1h-43.9zM398.6 866h43.9v1h-43.9zM508.2 866h21.9v1h-21.9zM420.5 867h43.9v1h-43.9zM486.3 867h43.9v1h-43.9zM508.2 870h21.9v1h-21.9zM464.4 871h21.9v1h-21.9zM354.7 873h43.9v1h-43.9zM376.6 874h43.9v1h-43.9zM442.4 874h21.9v1h-21.9zM508.2 874h21.9v1h-21.9zM354.7 875h21.9v1h-21.9zM398.6 875h65.8v1h-65.8zM354.7 878h43.9v1h-43.9zM420.5 878h43.9v1h-43.9zM486.3 878h21.9v1h-21.9zM354.7 879h65.8v1h-65.8zM442.4 879h43.9v1h-43.9zM376.6 880h43.9v1h-43.9zM442.4 880h21.9v1h-21.9zM354.7 881h109.7v1h-109.7zM354.7 882h109.7v1h-109.7zM486.3 882h21.9v1h-21.9zM354.7 883h21.9v1h-21.9zM420.5 883h43.9v1h-43.9zM486.3 883h21.9v1h-21.9zM354.7 884h43.9v1h-43.9zM376.6 887h21.9v1h-21.9zM354.7 889h21.9v1h-21.9zM376.6 890h21.9v1h-21.9zM486.3 890h21.9v1h-21.9zM354.7 892h43.9v1h-43.9zM486.3 892h21.9v1h-21.9zM398.6 893h21.9v1h-21.9zM486.3 893h21.9v1h-21.9zM354.7 894h21.9v1h-21.9zM398.6 894h43.9v1h-43.9zM420.5 895h21.9v1h-21.9zM486.3 895h21.9v1h-21.9zM354.7 896h43.9v1h-43.9zM420.5 896h43.9v1h-43.9zM486.3 896h21.9v1h-21.9zM376.6 897h87.7v1h-87.7zM486.3 897h21.9v1h-21.9zM376.6 898h21.9v1h-21.9zM486.3 898h21.9v1h-21.9zM354.7 899h65.8v1h-65.8zM442.4 899h21.9v1h-21.9zM486.3 899h21.9v1h-21.9zM354.7 900h65.8v1h-65.8zM398.6 901h21.9v1h-21.9zM332.8 902h21.9v1h-21.9zM398.6 902h43.9v1h-43.9zM420.5 903h21.9v1h-21.9zM486.3 903h21.9v1h-21.9zM486.3 904h21.9v1h-21.9zM442.4 905h21.9v1h-21.9zM442.4 906h21.9v1h-21.9zM332.8 907h43.9v1h-43.9zM442.4 907h21.9v1h-21.9zM486.3 907h21.9v1h-21.9zM442.4 909h21.9v1h-21.9zM332.8 910h21.9v1h-21.9zM398.6 910h21.9v1h-21.9zM442.4 910h21.9v1h-21.9zM332.8 911h21.9v1h-21.9zM486.3 911h43.9v1h-43.9zM354.7 912h43.9v1h-43.9zM486.3 913h21.9v1h-21.9zM332.8 914h43.9v1h-43.9zM442.4 914h21.9v1h-21.9zM486.3 914h43.9v1h-43.9zM332.8 915h21.9v1h-21.9zM332.8 916h21.9v1h-21.9zM332.8 917h65.8v1h-65.8zM332.8 918h65.8v1h-65.8zM486.3 918h43.9v1h-43.9zM332.8 919h65.8v1h-65.8zM442.4 919h21.9v1h-21.9zM508.2 919h21.9v1h-21.9zM332.8 920h21.9v1h-21.9zM376.6 920h21.9v1h-21.9zM420.5 920h43.9v1h-43.9zM486.3 920h21.9v1h-21.9zM420.5 922h21.9v1h-21.9zM486.3 922h21.9v1h-21.9zM332.8 923h43.9v1h-43.9zM420.5 923h21.9v1h-21.9zM486.3 923h21.9v1h-21.9zM332.8 924h21.9v1h-21.9zM442.4 924h21.9v1h-21.9zM332.8 925h43.9v1h-43.9zM420.5 925h21.9v1h-21.9zM354.7 926h21.9v1h-21.9zM508.2 926h21.9v1h-21.9zM354.7 927h21.9v1h-21.9zM398.6 928h65.8v1h-65.8zM508.2 928h21.9v1h-21.9zM332.8 929h21.9v1h-21.9zM486.3 929h43.9v1h-43.9zM354.7 931h21.9v1h-21.9zM354.7 932h21.9v1h-21.9zM420.5 933h43.9v1h-43.9zM486.3 933h21.9v1h-21.9zM420.5 934h21.9v1h-21.9zM486.3 934h21.9v1h-21.9zM376.6 936h43.9v1h-43.9zM442.4 936h21.9v1h-21.9zM486.3 936h21.9v1h-21.9zM376.6 937h21.9v1h-21.9zM442.4 937h21.9v1h-21.9zM486.3 937h21.9v1h-21.9zM376.6 938h21.9v1h-21.9zM420.5 938h21.9v1h-21.9zM354.7 939h21.9v1h-21.9zM398.6 939h65.8v1h-65.8zM354.7 940h21.9v1h-21.9zM398.6 940h21.9v1h-21.9zM442.4 940h21.9v1h-21.9zM354.7 941h109.7v1h-109.7zM354.7 942h21.9v1h-21.9zM398.6 942h65.8v1h-65.8zM486.3 942h21.9v1h-21.9zM354.7 943h21.9v1h-21.9zM398.6 943h43.9v1h-43.9zM354.7 944h21.9v1h-21.9zM486.3 944h21.9v1h-21.9zM354.7 945h21.9v1h-21.9zM354.7 946h21.9v1h-21.9zM486.3 946h21.9v1h-21.9zM376.6 949h21.9v1h-21.9zM464.4 949h21.9v1h-21.9zM376.6 950h21.9v1h-21.9zM464.4 950h21.9v1h-21.9zM442.4 955h21.9v1h-21.9zM376.6 956h21.9v1h-21.9zM376.6 957h21.9v1h-21.9zM442.4 957h21.9v1h-21.9zM398.6 958h21.9v1h-21.9zM376.6 959h87.7v1h-87.7zM464.4 960h21.9v1h-21.9zM464.4 962h21.9v1h-21.9zM332.8 963h21.9v1h-21.9zM376.6 967h21.9v1h-21.9zM420.5 972h43.9v1h-43.9zM267.0 978h21.9v1h-21.9z"/>
<path fill="#d6eab6" d="M179.3 704h21.9v1h-21.9zM354.7 704h87.7v1h-87.7zM157.3 705h43.9v1h-43.9zM398.6 705h21.9v1h-21.9zM135.4 706h21.9v1h-21.9zM354.7 706h21.9v1h-21.9zM398.6 706h21.9v1h-21.9zM135.4 707h21.9v1h-21.9zM376.6 707h21.9v1h-21.9zM267.0 708h21.9v1h-21.9zM310.8 708h21.9v1h-21.9zM354.7 708h21.9v1h-21.9zM201.2 709h87.7v1h-87.7zM354.7 709h21.9v1h-21.9zM223.1 710h43.9v1h-43.9zM288.9 710h43.9v1h-43.9zM267.0 711h21.9v1h-21.9zM354.7 711h21.9v1h-21.9zM201.2 712h43.9v1h-43.9zM332.8 712h21.9v1h-21.9zM201.2 713h21.9v1h-21.9zM332.8 713h21.9v1h-21.9zM201.2 714h43.9v1h-43.9zM201.2 715h65.8v1h-65.8zM288.9 715h43.9v1h-43.9zM223.1 716h43.9v1h-43.9zM135.4 717h21.9v1h-21.9zM179.3 717h21.9v1h-21.9zM288.9 717h43.9v1h-43.9zM267.0 719h65.8v1h-65.8zM179.3 720h21.9v1h-21.9zM267.0 720h87.7v1h-87.7zM135.4 721h21.9v1h-21.9zM179.3 721h21.9v1h-21.9zM267.0 721h21.9v1h-21.9zM135.4 722h21.9v1h-21.9zM508.2 728h21.9v1h-21.9zM135.4 731h21.9v1h-21.9zM245.1 732h21.9v1h-21.9zM201.2 734h65.8v1h-65.8zM201.2 735h21.9v1h-21.9zM223.1 736h43.9v1h-43.9zM442.4 738h21.9v1h-21.9zM486.3 738h21.9v1h-21.9zM420.5 739h43.9v1h-43.9zM135.4 742h21.9v1h-21.9zM179.3 742h21.9v1h-21.9zM398.6 742h21.9v1h-21.9zM135.4 743h21.9v1h-21.9zM179.3 743h21.9v1h-21.9zM420.5 743h43.9v1h-43.9zM135.4 744h65.8v1h-65.8zM376.6 744h65.8v1h-65.8zM135.4 745h65.8v1h-65.8zM398.6 745h65.8v1h-65.8zM398.6 746h21.9v1h-21.9zM157.3 748h21.9v1h-21.9zM398.6 748h21.9v1h-21.9zM157.3 749h21.9v1h-21.9zM420.5 749h43.9v1h-43.9zM464.4 752h21.9v1h-21.9zM464.4 756h21.9v1h-21.9zM464.4 757h21.9v1h-21.9zM464.4 759h21.9v1h-21.9zM486.3 760h21.9v1h-21.9zM508.2 761h21.9v1h-21.9zM508.2 762h21.9v1h-21.9zM508.2 763h21.9v1h-21.9zM508.2 765h21.9v1h-21.9zM508.2 766h21.9v1h-21.9zM508.2 767h21.9v1h-21.9zM508.2 768h21.9v1h-21.9zM486.3 769h43.9v1h-43.9zM508.2 773h21.9v1h-21.9zM310.8 774h21.9v1h-21.9zM508.2 775h21.9v1h-21.9zM508.2 776h21.9v1h-21.9zM508.2 777h21.9v1h-21.9zM201.2 779h43.9v1h-43.9zM201.2 780h43.9v1h-43.9zM201.2 781h65.8v1h-65.8zM201.2 782h43.9v1h-43.9zM157.3 783h109.7v1h-109.7zM464.4 783h21.9v1h-21.9zM245.1 784h21.9v1h-21.9zM201.2 785h65.8v1h-65.8zM486.3 786h21.9v1h-21.9zM201.2 788h65.8v1h-65.8zM464.4 788h21.9v1h-21.9zM201.2 789h21.9v1h-21.9zM201.2 790h65.8v1h-65.8zM245.1 791h21.9v1h-21.9zM201.2 792h65.8v1h-65.8zM508.2 792h21.9v1h-21.9zM223.1 793h21.9v1h-21.9zM201.2 797h65.8v1h-65.8zM486.3 797h21.9v1h-21.9zM223.1 798h21.9v1h-21.9zM486.3 800h21.9v1h-21.9zM310.8 801h21.9v1h-21.9zM486.3 801h21.9v1h-21.9zM486.3 803h21.9v1h-21.9zM486.3 808h21.9v1h-21.9zM486.3 809h21.9v1h-21.9zM486.3 810h21.9v1h-21.9zM354.7 811h21.9v1h-21.9zM354.7 816h43.9v1h-43.9zM354.7 817h43.9v1h-43.9zM486.3 818h21.9v1h-21.9zM179.3 819h21.9v1h-21.9zM442.4 820h21.9v1h-21.9zM398.6 821h21.9v1h-21.9zM442.4 821h21.9v1h-21.9zM486.3 821h21.9v1h-21.9zM157.3 823h21.9v1h-21.9zM398.6 823h65.8v1h-65.8zM135.4 824h43.9v1h-43.9zM354.7 824h21.9v1h-21.9zM486.3 824h21.9v1h-21.9zM135.4 825h65.8v1h-65.8zM354.7 825h43.9v1h-43.9zM486.3 825h21.9v1h-21.9zM135.4 826h65.8v1h-65.8zM354.7 826h21.9v1h-21.9zM398.6 826h65.8v1h-65.8zM354.7 827h21.9v1h-21.9zM398.6 827h43.9v1h-43.9zM486.3 827h21.9v1h-21.9zM354.7 828h21.9v1h-21.9zM486.3 828h21.9v1h-21.9zM332.8 829h21.9v1h-21.9zM376.6 829h21.9v1h-21.9zM420.5 830h21.9v1h-21.9zM332.8 831h43.9v1h-43.9zM398.6 831h65.8v1h-65.8zM354.7 832h21.9v1h-21.9zM332.8 833h21.9v1h-21.9zM486.3 833h21.9v1h-21.9zM332.8 834h21.9v1h-21.9zM354.7 835h21.9v1h-21.9zM486.3 835h43.9v1h-43.9zM332.8 836h43.9v1h-43.9zM464.4 836h21.9v1h-21.9zM376.6 837h21.9v1h-21.9zM486.3 837h43.9v1h-43.9zM332.8 838h65.8v1h-65.8zM486.3 839h21.9v1h-21.9zM464.4 840h43.9v1h-43.9zM332.8 841h43.9v1h-43.9zM464.4 841h21.9v1h-21.9zM376.6 842h21.9v1h-21.9zM464.4 842h43.9v1h-43.9zM354.7 843h21.9v1h-21.9zM464.4 843h43.9v1h-43.9zM332.8 844h43.9v1h-43.9zM486.3 844h43.9v1h-43.9zM310.8 845h21.9v1h-21.9zM354.7 845h109.7v1h-109.7zM486.3 845h21.9v1h-21.9zM288.9 846h153.5v1h-153.5zM486.3 846h43.9v1h-43.9zM486.3 847h43.9v1h-43.9zM398.6 848h21.9v1h-21.9zM486.3 848h21.9v1h-21.9zM310.8 849h21.9v1h-21.9zM376.6 850h43.9v1h-43.9zM442.4 850h21.9v1h-21.9zM508.2 850h21.9v1h-21.9zM288.9 851h43.9v1h-43.9zM398.6 851h87.7v1h-87.7zM267.0 852h43.9v1h-43.9zM332.8 852h109.7v1h-109.7zM486.3 852h43.9v1h-43.9zM332.8 853h109.7v1h-109.7zM376.6 854h87.7v1h-87.7zM310.8 855h21.9v1h-21.9zM376.6 855h21.9v1h-21.9zM486.3 855h43.9v1h-43.9zM332.8 856h21.9v1h-21.9zM398.6 856h65.8v1h-65.8zM486.3 856h21.9v1h-21.9zM354.7 857h21.9v1h-21.9zM442.4 857h43.9v1h-43.9zM332.8 858h21.9v1h-21.9zM376.6 858h109.7v1h-109.7zM332.8 859h153.5v1h-153.5zM310.8 860h21.9v1h-21.9zM420.5 860h21.9v1h-21.9zM486.3 860h43.9v1h-43.9zM267.0 861h65.8v1h-65.8zM398.6 861h65.8v1h-65.8zM486.3 861h43.9v1h-43.9zM310.8 862h65.8v1h-65.8zM486.3 862h43.9v1h-43.9zM310.8 863h21.9v1h-21.9zM376.6 863h21.9v1h-21.9zM486.3 863h43.9v1h-43.9zM288.9 864h43.9v1h-43.9zM376.6 864h87.7v1h-87.7zM486.3 864h43.9v1h-43.9zM267.0 865h65.8v1h-65.8zM376.6 865h87.7v1h-87.7zM267.0 866h65.8v1h-65.8zM376.6 866h21.9v1h-21.9zM442.4 866h21.9v1h-21.9zM486.3 866h21.9v1h-21.9zM310.8 867h21.9v1h-21.9zM464.4 867h21.9v1h-21.9zM508.2 868h21.9v1h-21.9zM464.4 870h43.9v1h-43.9zM354.7 872h43.9v1h-43.9zM464.4 872h21.9v1h-21.9zM354.7 874h21.9v1h-21.9zM464.4 875h21.9v1h-21.9zM464.4 876h21.9v1h-21.9zM464.4 877h21.9v1h-21.9zM464.4 878h21.9v1h-21.9zM354.7 880h21.9v1h-21.9zM486.3 880h21.9v1h-21.9zM486.3 884h21.9v1h-21.9zM354.7 885h43.9v1h-43.9zM464.4 885h21.9v1h-21.9zM464.4 886h21.9v1h-21.9zM354.7 887h21.9v1h-21.9zM464.4 887h21.9v1h-21.9zM464.4 888h21.9v1h-21.9zM464.4 889h21.9v1h-21.9zM354.7 890h21.9v1h-21.9zM354.7 891h21.9v1h-21.9zM486.3 891h21.9v1h-21.9zM486.3 894h21.9v1h-21.9zM354.7 897h21.9v1h-21.9zM464.4 897h21.9v1h-21.9zM354.7 898h21.9v1h-21.9zM464.4 898h21.9v1h-21.9zM486.3 900h21.9v1h-21.9zM464.4 901h21.9v1h-21.9zM464.4 902h21.9v1h-21.9zM486.3 905h21.9v1h-21.9zM486.3 906h21.9v1h-21.9zM464.4 908h21.9v1h-21.9zM464.4 909h21.9v1h-21.9zM464.4 910h21.9v1h-21.9zM332.8 912h21.9v1h-21.9zM486.3 912h43.9v1h-43.9zM354.7 913h43.9v1h-43.9zM464.4 916h21.9v1h-21.9zM464.4 917h21.9v1h-21.9zM486.3 919h21.9v1h-21.9zM354.7 920h21.9v1h-21.9zM332.8 921h65.8v1h-65.8zM486.3 921h21.9v1h-21.9zM332.8 922h21.9v1h-21.9zM376.6 922h21.9v1h-21.9zM398.6 924h43.9v1h-43.9zM464.4 924h21.9v1h-21.9zM464.4 925h21.9v1h-21.9zM486.3 926h21.9v1h-21.9zM508.2 927h21.9v1h-21.9zM486.3 928h21.9v1h-21.9zM464.4 931h21.9v1h-21.9zM464.4 932h21.9v1h-21.9zM354.7 933h21.9v1h-21.9zM354.7 934h21.9v1h-21.9zM354.7 935h21.9v1h-21.9zM486.3 935h21.9v1h-21.9zM354.7 937h21.9v1h-21.9zM354.7 938h21.9v1h-21.9zM486.3 943h21.9v1h-21.9zM486.3 945h21.9v1h-21.9zM354.7 947h21.9v1h-21.9zM398.6 970h65.8v1h-65.8zM398.6 972h21.9v1h-21.9z"/>
<path fill="#e4f1bc" d="M135.4 704h21.9v1h-21.9zM135.4 705h21.9v1h-21.9zM354.7 705h43.9v1h-43.9zM376.6 706h21.9v1h-21.9zM201.2 708h43.9v1h-43.9zM376.6 708h21.9v1h-21.9zM442.4 709h21.9v1h-21.9zM201.2 710h21.9v1h-21.9zM267.0 710h21.9v1h-21.9zM398.6 710h21.9v1h-21.9zM442.4 710h21.9v1h-21.9zM201.2 711h43.9v1h-43.9zM245.1 712h21.9v1h-21.9zM398.6 712h65.8v1h-65.8zM398.6 713h65.8v1h-65.8zM332.8 714h21.9v1h-21.9zM398.6 714h21.9v1h-21.9zM267.0 715h21.9v1h-21.9zM354.7 715h43.9v1h-43.9zM267.0 717h21.9v1h-21.9zM135.4 719h65.8v1h-65.8zM332.8 719h21.9v1h-21.9zM332.8 721h21.9v1h-21.9zM310.8 727h21.9v1h-21.9zM201.2 728h65.8v1h-65.8zM464.4 728h43.9v1h-43.9zM201.2 729h65.8v1h-65.8zM201.2 731h65.8v1h-65.8zM310.8 732h21.9v1h-21.9zM223.1 735h43.9v1h-43.9zM310.8 735h21.9v1h-21.9zM420.5 736h43.9v1h-43.9zM201.2 737h65.8v1h-65.8zM420.5 737h43.9v1h-43.9zM398.6 738h43.9v1h-43.9zM398.6 739h21.9v1h-21.9zM464.4 739h21.9v1h-21.9zM376.6 740h109.7v1h-109.7zM442.4 741h43.9v1h-43.9zM420.5 742h43.9v1h-43.9zM442.4 744h21.9v1h-21.9zM135.4 746h65.8v1h-65.8zM157.3 747h21.9v1h-21.9zM135.4 748h21.9v1h-21.9zM179.3 748h21.9v1h-21.9zM420.5 748h65.8v1h-65.8zM135.4 749h21.9v1h-21.9zM179.3 749h21.9v1h-21.9zM464.4 750h21.9v1h-21.9zM464.4 751h21.9v1h-21.9zM223.1 752h43.9v1h-43.9zM376.6 753h21.9v1h-21.9zM376.6 754h21.9v1h-21.9zM464.4 758h21.9v1h-21.9zM486.3 761h21.9v1h-21.9zM486.3 762h21.9v1h-21.9zM486.3 763h21.9v1h-21.9zM201.2 764h43.9v1h-43.9zM508.2 764h21.9v1h-21.9zM201.2 766h65.8v1h-65.8zM486.3 767h21.9v1h-21.9zM310.8 768h21.9v1h-21.9zM486.3 768h21.9v1h-21.9zM486.3 770h43.9v1h-43.9zM508.2 771h21.9v1h-21.9zM486.3 772h21.9v1h-21.9zM310.8 773h21.9v1h-21.9zM486.3 773h21.9v1h-21.9zM288.9 774h21.9v1h-21.9zM486.3 775h21.9v1h-21.9zM486.3 776h21.9v1h-21.9zM486.3 777h21.9v1h-21.9zM508.2 778h21.9v1h-21.9zM245.1 780h21.9v1h-21.9zM508.2 781h21.9v1h-21.9zM245.1 782h21.9v1h-21.9zM486.3 782h21.9v1h-21.9zM135.4 783h21.9v1h-21.9zM201.2 786h65.8v1h-65.8zM464.4 786h21.9v1h-21.9zM201.2 787h65.8v1h-65.8zM223.1 789h43.9v1h-43.9zM464.4 789h21.9v1h-21.9zM464.4 790h21.9v1h-21.9zM310.8 791h21.9v1h-21.9zM486.3 791h21.9v1h-21.9zM310.8 792h21.9v1h-21.9zM201.2 793h21.9v1h-21.9zM245.1 793h21.9v1h-21.9zM310.8 793h21.9v1h-21.9zM464.4 793h43.9v1h-43.9zM310.8 794h21.9v1h-21.9zM464.4 794h21.9v1h-21.9zM310.8 795h21.9v1h-21.9zM464.4 795h21.9v1h-21.9zM310.8 796h21.9v1h-21.9zM464.4 796h21.9v1h-21.9zM135.4 797h21.9v1h-21.9zM179.3 797h21.9v1h-21.9zM464.4 797h21.9v1h-21.9zM201.2 798h21.9v1h-21.9zM245.1 798h21.9v1h-21.9zM464.4 798h21.9v1h-21.9zM464.4 799h21.9v1h-21.9zM288.9 800h43.9v1h-43.9zM201.2 801h43.9v1h-43.9zM288.9 801h21.9v1h-21.9zM201.2 802h43.9v1h-43.9zM288.9 802h43.9v1h-43.9zM464.4 802h21.9v1h-21.9zM310.8 803h21.9v1h-21.9zM464.4 804h43.9v1h-43.9zM486.3 805h21.9v1h-21.9zM201.2 806h65.8v1h-65.8zM486.3 806h21.9v1h-21.9zM201.2 807h21.9v1h-21.9zM332.8 807h21.9v1h-21.9zM486.3 807h21.9v1h-21.9zM310.8 809h21.9v1h-21.9zM398.6 809h21.9v1h-21.9zM442.4 809h21.9v1h-21.9zM223.1 810h21.9v1h-21.9zM310.8 810h21.9v1h-21.9zM354.7 810h21.9v1h-21.9zM288.9 811h43.9v1h-43.9zM376.6 811h21.9v1h-21.9zM332.8 813h21.9v1h-21.9zM157.3 814h43.9v1h-43.9zM332.8 814h21.9v1h-21.9zM464.4 815h21.9v1h-21.9zM398.6 819h21.9v1h-21.9zM442.4 819h21.9v1h-21.9zM508.2 819h21.9v1h-21.9zM354.7 820h21.9v1h-21.9zM420.5 820h21.9v1h-21.9zM332.8 821h21.9v1h-21.9zM420.5 821h21.9v1h-21.9zM332.8 822h21.9v1h-21.9zM464.4 822h21.9v1h-21.9zM179.3 823h21.9v1h-21.9zM332.8 823h21.9v1h-21.9zM179.3 824h21.9v1h-21.9zM332.8 826h21.9v1h-21.9zM464.4 826h21.9v1h-21.9zM442.4 827h21.9v1h-21.9zM398.6 828h65.8v1h-65.8zM354.7 829h21.9v1h-21.9zM398.6 829h65.8v1h-65.8zM354.7 830h65.8v1h-65.8zM442.4 830h21.9v1h-21.9zM332.8 832h21.9v1h-21.9zM486.3 834h43.9v1h-43.9zM332.8 835h21.9v1h-21.9zM332.8 837h43.9v1h-43.9zM420.5 837h21.9v1h-21.9zM464.4 837h21.9v1h-21.9zM508.2 838h21.9v1h-21.9zM464.4 839h21.9v1h-21.9zM332.8 842h43.9v1h-43.9zM310.8 843h43.9v1h-43.9zM310.8 844h21.9v1h-21.9zM464.4 844h21.9v1h-21.9zM267.0 845h43.9v1h-43.9zM332.8 845h21.9v1h-21.9zM464.4 845h21.9v1h-21.9zM267.0 846h21.9v1h-21.9zM442.4 846h21.9v1h-21.9zM288.9 847h43.9v1h-43.9zM464.4 848h21.9v1h-21.9zM267.0 849h43.9v1h-43.9zM508.2 849h21.9v1h-21.9zM267.0 850h65.8v1h-65.8zM486.3 850h21.9v1h-21.9zM267.0 851h21.9v1h-21.9zM442.4 852h43.9v1h-43.9zM267.0 853h65.8v1h-65.8zM442.4 853h21.9v1h-21.9zM486.3 853h43.9v1h-43.9zM267.0 854h65.8v1h-65.8zM486.3 854h43.9v1h-43.9zM267.0 855h43.9v1h-43.9zM464.4 855h21.9v1h-21.9zM310.8 856h21.9v1h-21.9zM376.6 856h21.9v1h-21.9zM464.4 856h21.9v1h-21.9zM332.8 857h21.9v1h-21.9zM310.8 858h21.9v1h-21.9zM267.0 859h65.8v1h-65.8zM267.0 860h43.9v1h-43.9zM332.8 860h43.9v1h-43.9zM398.6 860h21.9v1h-21.9zM442.4 860h43.9v1h-43.9zM464.4 861h21.9v1h-21.9zM267.0 862h43.9v1h-43.9zM376.6 862h21.9v1h-21.9zM464.4 862h21.9v1h-21.9zM267.0 863h43.9v1h-43.9zM267.0 864h21.9v1h-21.9zM464.4 864h21.9v1h-21.9zM464.4 865h21.9v1h-21.9zM464.4 866h21.9v1h-21.9zM223.1 867h21.9v1h-21.9zM267.0 867h43.9v1h-43.9zM332.8 867h65.8v1h-65.8zM201.2 868h43.9v1h-43.9zM486.3 868h21.9v1h-21.9zM464.4 873h21.9v1h-21.9zM486.3 874h21.9v1h-21.9zM332.8 876h21.9v1h-21.9zM332.8 877h21.9v1h-21.9zM464.4 880h21.9v1h-21.9zM464.4 882h21.9v1h-21.9zM464.4 883h21.9v1h-21.9zM332.8 888h21.9v1h-21.9zM464.4 890h21.9v1h-21.9zM376.6 891h21.9v1h-21.9zM332.8 892h21.9v1h-21.9zM464.4 892h21.9v1h-21.9zM332.8 893h21.9v1h-21.9zM464.4 893h21.9v1h-21.9zM464.4 894h21.9v1h-21.9zM332.8 895h21.9v1h-21.9zM464.4 895h21.9v1h-21.9zM267.0 896h43.9v1h-43.9zM332.8 896h21.9v1h-21.9zM464.4 896h21.9v1h-21.9zM464.4 899h21.9v1h-21.9zM464.4 900h21.9v1h-21.9zM332.8 901h21.9v1h-21.9zM464.4 903h21.9v1h-21.9zM464.4 904h21.9v1h-21.9zM464.4 905h21.9v1h-21.9zM464.4 907h21.9v1h-21.9zM464.4 911h21.9v1h-21.9zM332.8 913h21.9v1h-21.9zM464.4 913h21.9v1h-21.9zM464.4 914h21.9v1h-21.9zM464.4 915h21.9v1h-21.9zM464.4 918h21.9v1h-21.9zM464.4 919h21.9v1h-21.9zM464.4 920h21.9v1h-21.9zM464.4 921h21.9v1h-21.9zM354.7 922h21.9v1h-21.9zM464.4 922h21.9v1h-21.9zM464.4 923h21.9v1h-21.9zM486.3 927h21.9v1h-21.9zM464.4 929h21.9v1h-21.9zM332.8 930h21.9v1h-21.9zM464.4 930h21.9v1h-21.9zM332.8 931h21.9v1h-21.9zM332.8 932h21.9v1h-21.9zM332.8 933h21.9v1h-21.9zM464.4 933h21.9v1h-21.9zM332.8 934h21.9v1h-21.9zM464.4 934h21.9v1h-21.9zM332.8 935h21.9v1h-21.9zM354.7 936h21.9v1h-21.9zM464.4 936h21.9v1h-21.9zM464.4 937h21.9v1h-21.9zM464.4 938h21.9v1h-21.9zM464.4 939h21.9v1h-21.9zM464.4 940h21.9v1h-21.9zM464.4 941h21.9v1h-21.9zM464.4 942h21.9v1h-21.9zM464.4 943h21.9v1h-21.9zM464.4 944h21.9v1h-21.9zM464.4 945h21.9v1h-21.9zM464.4 946h21.9v1h-21.9zM354.7 948h21.9v1h-21.9zM354.7 952h21.9v1h-21.9zM354.7 953h21.9v1h-21.9zM376.6 960h87.7v1h-87.7zM354.7 961h21.9v1h-21.9zM354.7 962h21.9v1h-21.9zM398.6 962h21.9v1h-21.9zM310.8 963h21.9v1h-21.9zM398.6 963h43.9v1h-43.9zM310.8 964h21.9v1h-21.9zM398.6 964h65.8v1h-65.8zM508.2 964h21.9v1h-21.9zM420.5 965h43.9v1h-43.9zM398.6 967h65.8v1h-65.8zM310.8 975h21.9v1h-21.9zM310.8 976h21.9v1h-21.9zM310.8 979h21.9v1h-21.9zM288.9 980h43.9v1h-43.9zM310.8 981h21.9v1h-21.9z"/>
<path fill="#f2f8c2" d="M310.8 704h21.9v1h-21.9zM464.4 704h21.9v1h-21.9zM245.1 708h21.9v1h-21.9zM442.4 708h21.9v1h-21.9zM376.6 709h65.8v1h-65.8zM420.5 710h21.9v1h-21.9zM245.1 711h21.9v1h-21.9zM398.6 711h65.8v1h-65.8zM508.2 713h21.9v1h-21.9zM420.5 714h43.9v1h-43.9zM398.6 715h65.8v1h-65.8zM332.8 716h21.9v1h-21.9zM332.8 717h21.9v1h-21.9zM332.8 718h21.9v1h-21.9zM267.0 722h65.8v1h-65.8zM267.0 724h65.8v1h-65.8zM310.8 725h21.9v1h-21.9zM310.8 726h21.9v1h-21.9zM201.2 727h65.8v1h-65.8zM288.9 727h21.9v1h-21.9zM508.2 727h21.9v1h-21.9zM288.9 728h43.9v1h-43.9zM310.8 729h21.9v1h-21.9zM398.6 729h65.8v1h-65.8zM310.8 730h21.9v1h-21.9zM398.6 730h65.8v1h-65.8zM288.9 731h43.9v1h-43.9zM398.6 731h65.8v1h-65.8zM288.9 732h21.9v1h-21.9zM420.5 732h21.9v1h-21.9zM288.9 733h43.9v1h-43.9zM376.6 733h65.8v1h-65.8zM288.9 734h43.9v1h-43.9zM288.9 735h21.9v1h-21.9zM420.5 735h43.9v1h-43.9zM486.3 735h21.9v1h-21.9zM310.8 736h21.9v1h-21.9zM398.6 736h21.9v1h-21.9zM398.6 737h21.9v1h-21.9zM508.2 737h21.9v1h-21.9zM135.4 741h65.8v1h-65.8zM398.6 741h43.9v1h-43.9zM376.6 745h21.9v1h-21.9zM135.4 747h21.9v1h-21.9zM464.4 749h21.9v1h-21.9zM201.2 752h21.9v1h-21.9zM354.7 755h21.9v1h-21.9zM310.8 758h21.9v1h-21.9zM310.8 759h21.9v1h-21.9zM464.4 760h21.9v1h-21.9zM201.2 761h65.8v1h-65.8zM201.2 762h65.8v1h-65.8zM201.2 763h65.8v1h-65.8zM245.1 764h21.9v1h-21.9zM486.3 764h21.9v1h-21.9zM201.2 765h65.8v1h-65.8zM486.3 765h21.9v1h-21.9zM486.3 766h21.9v1h-21.9zM310.8 767h21.9v1h-21.9zM288.9 768h21.9v1h-21.9zM267.0 769h65.8v1h-65.8zM486.3 771h21.9v1h-21.9zM267.0 773h43.9v1h-43.9zM267.0 774h21.9v1h-21.9zM486.3 774h43.9v1h-43.9zM310.8 775h21.9v1h-21.9zM310.8 777h21.9v1h-21.9zM267.0 778h21.9v1h-21.9zM310.8 778h21.9v1h-21.9zM486.3 778h21.9v1h-21.9zM245.1 779h21.9v1h-21.9zM486.3 779h43.9v1h-43.9zM508.2 780h21.9v1h-21.9zM288.9 781h43.9v1h-43.9zM486.3 781h21.9v1h-21.9zM288.9 782h43.9v1h-43.9zM464.4 782h21.9v1h-21.9zM310.8 783h21.9v1h-21.9zM398.6 783h43.9v1h-43.9zM310.8 784h21.9v1h-21.9zM398.6 784h43.9v1h-43.9zM310.8 785h21.9v1h-21.9zM310.8 790h21.9v1h-21.9zM267.0 791h43.9v1h-43.9zM464.4 791h21.9v1h-21.9zM267.0 792h43.9v1h-43.9zM486.3 792h21.9v1h-21.9zM267.0 793h43.9v1h-43.9zM201.2 794h109.7v1h-109.7zM267.0 795h43.9v1h-43.9zM201.2 796h109.7v1h-109.7zM267.0 797h65.8v1h-65.8zM267.0 799h65.8v1h-65.8zM223.1 800h21.9v1h-21.9zM267.0 800h21.9v1h-21.9zM464.4 800h21.9v1h-21.9zM245.1 801h43.9v1h-43.9zM464.4 801h21.9v1h-21.9zM245.1 802h43.9v1h-43.9zM332.8 802h21.9v1h-21.9zM201.2 803h109.7v1h-109.7zM464.4 803h21.9v1h-21.9zM157.3 804h21.9v1h-21.9zM201.2 804h65.8v1h-65.8zM288.9 804h43.9v1h-43.9zM201.2 805h65.8v1h-65.8zM288.9 805h43.9v1h-43.9zM464.4 805h21.9v1h-21.9zM267.0 806h65.8v1h-65.8zM464.4 806h21.9v1h-21.9zM223.1 807h109.7v1h-109.7zM201.2 808h65.8v1h-65.8zM288.9 808h43.9v1h-43.9zM288.9 809h21.9v1h-21.9zM420.5 809h21.9v1h-21.9zM201.2 810h21.9v1h-21.9zM245.1 810h65.8v1h-65.8zM376.6 810h21.9v1h-21.9zM267.0 811h21.9v1h-21.9zM310.8 812h21.9v1h-21.9zM464.4 812h21.9v1h-21.9zM157.3 813h43.9v1h-43.9zM464.4 813h21.9v1h-21.9zM135.4 814h21.9v1h-21.9zM464.4 814h21.9v1h-21.9zM332.8 815h21.9v1h-21.9zM157.3 816h21.9v1h-21.9zM464.4 816h21.9v1h-21.9zM332.8 817h21.9v1h-21.9zM464.4 817h21.9v1h-21.9zM376.6 818h21.9v1h-21.9zM464.4 818h21.9v1h-21.9zM376.6 819h21.9v1h-21.9zM420.5 819h21.9v1h-21.9zM332.8 820h21.9v1h-21.9zM508.2 820h21.9v1h-21.9zM464.4 823h21.9v1h-21.9zM332.8 824h21.9v1h-21.9zM464.4 824h21.9v1h-21.9zM332.8 825h21.9v1h-21.9zM464.4 825h21.9v1h-21.9zM464.4 827h21.9v1h-21.9zM464.4 828h21.9v1h-21.9zM332.8 830h21.9v1h-21.9zM310.8 833h21.9v1h-21.9zM310.8 834h21.9v1h-21.9zM310.8 835h21.9v1h-21.9zM464.4 835h21.9v1h-21.9zM398.6 837h21.9v1h-21.9zM442.4 837h21.9v1h-21.9zM464.4 838h43.9v1h-43.9zM288.9 839h43.9v1h-43.9zM288.9 840h43.9v1h-43.9zM288.9 841h43.9v1h-43.9zM288.9 842h43.9v1h-43.9zM288.9 843h21.9v1h-21.9zM288.9 844h21.9v1h-21.9zM464.4 846h21.9v1h-21.9zM267.0 847h21.9v1h-21.9zM464.4 847h21.9v1h-21.9zM267.0 848h65.8v1h-65.8zM486.3 849h21.9v1h-21.9zM464.4 850h21.9v1h-21.9zM464.4 853h21.9v1h-21.9zM464.4 854h21.9v1h-21.9zM267.0 856h43.9v1h-43.9zM376.6 857h21.9v1h-21.9zM267.0 858h43.9v1h-43.9zM376.6 860h21.9v1h-21.9zM464.4 863h21.9v1h-21.9zM201.2 867h21.9v1h-21.9zM245.1 867h21.9v1h-21.9zM245.1 868h21.9v1h-21.9zM332.8 868h21.9v1h-21.9zM464.4 868h21.9v1h-21.9zM201.2 869h21.9v1h-21.9zM332.8 869h21.9v1h-21.9zM332.8 870h21.9v1h-21.9zM332.8 874h21.9v1h-21.9zM464.4 874h21.9v1h-21.9zM332.8 875h21.9v1h-21.9zM332.8 878h21.9v1h-21.9zM310.8 879h43.9v1h-43.9zM332.8 880h21.9v1h-21.9zM310.8 881h43.9v1h-43.9zM310.8 882h43.9v1h-43.9zM332.8 883h21.9v1h-21.9zM310.8 884h43.9v1h-43.9zM464.4 884h21.9v1h-21.9zM310.8 885h21.9v1h-21.9zM376.6 886h21.9v1h-21.9zM310.8 888h21.9v1h-21.9zM310.8 889h43.9v1h-43.9zM310.8 890h43.9v1h-43.9zM464.4 891h21.9v1h-21.9zM310.8 893h21.9v1h-21.9zM332.8 894h21.9v1h-21.9zM267.0 895h43.9v1h-43.9zM332.8 897h21.9v1h-21.9zM310.8 898h43.9v1h-43.9zM332.8 899h21.9v1h-21.9zM267.0 900h43.9v1h-43.9zM332.8 900h21.9v1h-21.9zM464.4 906h21.9v1h-21.9zM310.8 912h21.9v1h-21.9zM464.4 912h21.9v1h-21.9zM310.8 915h21.9v1h-21.9zM310.8 923h21.9v1h-21.9zM464.4 926h21.9v1h-21.9zM464.4 927h21.9v1h-21.9zM464.4 928h21.9v1h-21.9zM310.8 929h21.9v1h-21.9zM310.8 930h21.9v1h-21.9zM310.8 933h21.9v1h-21.9zM464.4 935h21.9v1h-21.9zM332.8 936h21.9v1h-21.9zM332.8 937h21.9v1h-21.9zM332.8 938h21.9v1h-21.9zM332.8 941h21.9v1h-21.9zM332.8 942h21.9v1h-21.9zM332.8 943h21.9v1h-21.9zM332.8 944h21.9v1h-21.9zM332.8 945h21.9v1h-21.9zM332.8 946h21.9v1h-21.9zM267.0 948h43.9v1h-43.9zM288.9 949h21.9v1h-21.9zM354.7 949h21.9v1h-21.9zM354.7 950h21.9v1h-21.9zM332.8 951h43.9v1h-43.9zM332.8 952h21.9v1h-21.9zM332.8 953h21.9v1h-21.9zM332.8 954h43.9v1h-43.9zM354.7 955h21.9v1h-21.9zM354.7 956h21.9v1h-21.9zM267.0 957h21.9v1h-21.9zM354.7 957h21.9v1h-21.9zM354.7 958h21.9v1h-21.9zM354.7 959h21.9v1h-21.9zM354.7 960h21.9v1h-21.9zM376.6 961h87.7v1h-87.7zM310.8 962h21.9v1h-21.9zM376.6 962h21.9v1h-21.9zM420.5 962h43.9v1h-43.9zM288.9 963h21.9v1h-21.9zM376.6 963h21.9v1h-21.9zM442.4 963h21.9v1h-21.9zM267.0 964h43.9v1h-43.9zM486.3 964h21.9v1h-21.9zM398.6 965h21.9v1h-21.9zM310.8 966h21.9v1h-21.9zM376.6 966h87.7v1h-87.7zM310.8 967h21.9v1h-21.9zM310.8 968h21.9v1h-21.9zM310.8 969h21.9v1h-21.9zM310.8 970h21.9v1h-21.9zM288.9 971h43.9v1h-43.9zM288.9 972h43.9v1h-43.9zM288.9 973h43.9v1h-43.9zM288.9 974h43.9v1h-43.9zM288.9 975h21.9v1h-21.9zM267.0 976h43.9v1h-43.9zM267.0 977h21.9v1h-21.9zM310.8 977h21.9v1h-21.9zM288.9 979h21.9v1h-21.9zM288.9 981h21.9v1h-21.9z"/>
<path fill="#ffffc8" d="M267.0 704h43.9v1h-43.9zM486.3 704h43.9v1h-43.9zM201.2 707h43.9v1h-43.9zM310.8 707h21.9v1h-21.9zM398.6 707h43.9v1h-43.9zM398.6 708h43.9v1h-43.9zM376.6 710h21.9v1h-21.9zM354.7 714h43.9v1h-43.9zM486.3 714h43.9v1h-43.9zM508.2 715h21.9v1h-21.9zM354.7 716h21.9v1h-21.9zM398.6 716h65.8v1h-65.8zM508.2 716h21.9v1h-21.9zM135.4 718h43.9v1h-43.9zM464.4 720h21.9v1h-21.9zM508.2 720h21.9v1h-21.9zM508.2 721h21.9v1h-21.9zM267.0 723h65.8v1h-65.8zM267.0 725h43.9v1h-43.9zM288.9 726h21.9v1h-21.9zM508.2 726h21.9v1h-21.9zM267.0 727h21.9v1h-21.9zM464.4 727h43.9v1h-43.9zM267.0 728h21.9v1h-21.9zM332.8 728h43.9v1h-43.9zM398.6 728h65.8v1h-65.8zM267.0 729h43.9v1h-43.9zM464.4 729h21.9v1h-21.9zM508.2 729h21.9v1h-21.9zM201.2 730h109.7v1h-109.7zM267.0 731h21.9v1h-21.9zM267.0 732h21.9v1h-21.9zM398.6 732h21.9v1h-21.9zM442.4 732h21.9v1h-21.9zM508.2 732h21.9v1h-21.9zM267.0 733h21.9v1h-21.9zM354.7 733h21.9v1h-21.9zM442.4 733h21.9v1h-21.9zM267.0 734h21.9v1h-21.9zM398.6 734h131.6v1h-131.6zM267.0 735h21.9v1h-21.9zM398.6 735h21.9v1h-21.9zM464.4 735h21.9v1h-21.9zM508.2 735h21.9v1h-21.9zM288.9 736h21.9v1h-21.9zM508.2 736h21.9v1h-21.9zM135.4 737h21.9v1h-21.9zM464.4 738h21.9v1h-21.9zM354.7 739h43.9v1h-43.9zM201.2 742h65.8v1h-65.8zM179.3 747h21.9v1h-21.9zM376.6 747h21.9v1h-21.9zM135.4 750h65.8v1h-65.8zM376.6 752h21.9v1h-21.9zM157.3 753h21.9v1h-21.9zM223.1 753h21.9v1h-21.9zM354.7 754h21.9v1h-21.9zM310.8 755h21.9v1h-21.9zM288.9 756h43.9v1h-43.9zM354.7 756h21.9v1h-21.9zM288.9 757h43.9v1h-43.9zM135.4 758h65.8v1h-65.8zM267.0 758h43.9v1h-43.9zM398.6 758h65.8v1h-65.8zM267.0 759h43.9v1h-43.9zM201.2 760h43.9v1h-43.9zM310.8 760h21.9v1h-21.9zM310.8 761h21.9v1h-21.9zM464.4 761h21.9v1h-21.9zM288.9 762h43.9v1h-43.9zM464.4 762h21.9v1h-21.9zM310.8 763h21.9v1h-21.9zM464.4 763h21.9v1h-21.9zM310.8 764h21.9v1h-21.9zM288.9 765h43.9v1h-43.9zM464.4 765h21.9v1h-21.9zM288.9 766h43.9v1h-43.9zM464.4 766h21.9v1h-21.9zM267.0 767h43.9v1h-43.9zM464.4 767h21.9v1h-21.9zM267.0 768h21.9v1h-21.9zM464.4 768h21.9v1h-21.9zM464.4 769h21.9v1h-21.9zM310.8 770h21.9v1h-21.9zM464.4 770h21.9v1h-21.9zM310.8 771h21.9v1h-21.9zM267.0 772h65.8v1h-65.8zM464.4 772h21.9v1h-21.9zM464.4 773h21.9v1h-21.9zM267.0 775h43.9v1h-43.9zM464.4 775h21.9v1h-21.9zM310.8 776h21.9v1h-21.9zM464.4 776h21.9v1h-21.9zM267.0 777h43.9v1h-43.9zM464.4 777h21.9v1h-21.9zM288.9 778h21.9v1h-21.9zM354.7 778h21.9v1h-21.9zM267.0 779h65.8v1h-65.8zM288.9 780h43.9v1h-43.9zM486.3 780h21.9v1h-21.9zM267.0 781h21.9v1h-21.9zM267.0 782h21.9v1h-21.9zM398.6 782h65.8v1h-65.8zM267.0 783h43.9v1h-43.9zM442.4 783h21.9v1h-21.9zM267.0 784h43.9v1h-43.9zM442.4 784h21.9v1h-21.9zM267.0 785h43.9v1h-43.9zM420.5 785h21.9v1h-21.9zM310.8 786h21.9v1h-21.9zM310.8 787h21.9v1h-21.9zM310.8 788h21.9v1h-21.9zM310.8 789h21.9v1h-21.9zM267.0 790h43.9v1h-43.9zM464.4 792h21.9v1h-21.9zM201.2 795h65.8v1h-65.8zM157.3 797h21.9v1h-21.9zM376.6 797h21.9v1h-21.9zM135.4 798h21.9v1h-21.9zM179.3 798h21.9v1h-21.9zM267.0 798h21.9v1h-21.9zM310.8 798h43.9v1h-43.9zM376.6 798h21.9v1h-21.9zM135.4 799h131.6v1h-131.6zM332.8 799h21.9v1h-21.9zM135.4 800h43.9v1h-43.9zM201.2 800h21.9v1h-21.9zM245.1 800h21.9v1h-21.9zM135.4 801h65.8v1h-65.8zM157.3 802h43.9v1h-43.9zM157.3 803h21.9v1h-21.9zM179.3 804h21.9v1h-21.9zM267.0 804h21.9v1h-21.9zM354.7 804h21.9v1h-21.9zM157.3 805h21.9v1h-21.9zM267.0 805h21.9v1h-21.9zM420.5 805h21.9v1h-21.9zM157.3 806h21.9v1h-21.9zM420.5 806h21.9v1h-21.9zM354.7 807h21.9v1h-21.9zM398.6 807h87.7v1h-87.7zM267.0 808h21.9v1h-21.9zM354.7 808h21.9v1h-21.9zM398.6 808h21.9v1h-21.9zM442.4 808h43.9v1h-43.9zM201.2 809h87.7v1h-87.7zM354.7 809h43.9v1h-43.9zM464.4 809h21.9v1h-21.9zM135.4 810h21.9v1h-21.9zM464.4 810h21.9v1h-21.9zM135.4 811h43.9v1h-43.9zM464.4 811h21.9v1h-21.9zM135.4 812h65.8v1h-65.8zM267.0 812h43.9v1h-43.9zM332.8 812h21.9v1h-21.9zM135.4 813h21.9v1h-21.9zM157.3 815h21.9v1h-21.9zM135.4 816h21.9v1h-21.9zM179.3 816h21.9v1h-21.9zM332.8 816h21.9v1h-21.9zM332.8 818h43.9v1h-43.9zM332.8 819h43.9v1h-43.9zM486.3 819h21.9v1h-21.9zM464.4 821h21.9v1h-21.9zM464.4 829h21.9v1h-21.9zM288.9 832h43.9v1h-43.9zM267.0 833h43.9v1h-43.9zM464.4 833h21.9v1h-21.9zM267.0 834h43.9v1h-43.9zM464.4 834h21.9v1h-21.9zM310.8 836h21.9v1h-21.9zM398.6 836h65.8v1h-65.8zM288.9 837h43.9v1h-43.9zM267.0 838h65.8v1h-65.8zM267.0 839h21.9v1h-21.9zM267.0 840h21.9v1h-21.9zM267.0 841h21.9v1h-21.9zM267.0 842h21.9v1h-21.9zM267.0 843h21.9v1h-21.9zM267.0 844h21.9v1h-21.9zM464.4 849h21.9v1h-21.9zM223.1 850h21.9v1h-21.9zM201.2 855h21.9v1h-21.9zM201.2 856h65.8v1h-65.8zM201.2 857h21.9v1h-21.9zM267.0 857h21.9v1h-21.9zM310.8 857h21.9v1h-21.9zM332.8 861h65.8v1h-65.8zM201.2 862h21.9v1h-21.9zM223.1 866h21.9v1h-21.9zM310.8 868h21.9v1h-21.9zM354.7 868h43.9v1h-43.9zM223.1 869h43.9v1h-43.9zM354.7 870h43.9v1h-43.9zM310.8 871h21.9v1h-21.9zM354.7 871h43.9v1h-43.9zM310.8 872h21.9v1h-21.9zM310.8 873h43.9v1h-43.9zM310.8 875h21.9v1h-21.9zM288.9 876h43.9v1h-43.9zM288.9 877h43.9v1h-43.9zM310.8 878h21.9v1h-21.9zM267.0 879h43.9v1h-43.9zM310.8 880h21.9v1h-21.9zM267.0 881h43.9v1h-43.9zM486.3 881h43.9v1h-43.9zM267.0 882h43.9v1h-43.9zM288.9 883h43.9v1h-43.9zM267.0 884h43.9v1h-43.9zM267.0 885h43.9v1h-43.9zM332.8 885h21.9v1h-21.9zM288.9 886h43.9v1h-43.9zM354.7 886h21.9v1h-21.9zM288.9 887h65.8v1h-65.8zM267.0 888h43.9v1h-43.9zM288.9 889h21.9v1h-21.9zM310.8 891h43.9v1h-43.9zM310.8 892h21.9v1h-21.9zM267.0 893h43.9v1h-43.9zM288.9 894h43.9v1h-43.9zM267.0 897h65.8v1h-65.8zM157.3 898h21.9v1h-21.9zM267.0 898h43.9v1h-43.9zM267.0 899h65.8v1h-65.8zM267.0 901h65.8v1h-65.8zM310.8 902h21.9v1h-21.9zM310.8 903h21.9v1h-21.9zM310.8 904h21.9v1h-21.9zM310.8 905h21.9v1h-21.9zM267.0 907h43.9v1h-43.9zM267.0 908h65.8v1h-65.8zM288.9 909h43.9v1h-43.9zM310.8 910h21.9v1h-21.9zM310.8 911h21.9v1h-21.9zM310.8 913h21.9v1h-21.9zM310.8 914h21.9v1h-21.9zM288.9 915h21.9v1h-21.9zM288.9 916h43.9v1h-43.9zM288.9 917h43.9v1h-43.9zM310.8 918h21.9v1h-21.9zM310.8 919h21.9v1h-21.9zM310.8 920h21.9v1h-21.9zM310.8 921h21.9v1h-21.9zM288.9 922h43.9v1h-43.9zM267.0 923h43.9v1h-43.9zM310.8 924h21.9v1h-21.9zM310.8 925h21.9v1h-21.9zM310.8 926h21.9v1h-21.9zM310.8 927h21.9v1h-21.9zM310.8 928h21.9v1h-21.9zM267.0 929h43.9v1h-43.9zM288.9 930h21.9v1h-21.9zM310.8 931h21.9v1h-21.9zM310.8 932h21.9v1h-21.9zM288.9 933h21.9v1h-21.9zM288.9 934h43.9v1h-43.9zM267.0 935h43.9v1h-43.9zM288.9 936h21.9v1h-21.9zM332.8 939h21.9v1h-21.9zM332.8 940h21.9v1h-21.9zM310.8 943h21.9v1h-21.9zM310.8 944h21.9v1h-21.9zM332.8 947h21.9v1h-21.9zM332.8 948h21.9v1h-21.9zM267.0 949h21.9v1h-21.9zM310.8 949h43.9v1h-43.9zM288.9 950h65.8v1h-65.8zM310.8 951h21.9v1h-21.9zM310.8 952h21.9v1h-21.9zM310.8 953h21.9v1h-21.9zM310.8 954h21.9v1h-21.9zM288.9 955h65.8v1h-65.8zM267.0 956h87.7v1h-87.7zM288.9 957h21.9v1h-21.9zM332.8 957h21.9v1h-21.9zM267.0 958h87.7v1h-87.7zM310.8 959h21.9v1h-21.9zM310.8 960h21.9v1h-21.9zM310.8 961h21.9v1h-21.9zM267.0 962h43.9v1h-43.9zM267.0 963h21.9v1h-21.9zM376.6 964h21.9v1h-21.9zM310.8 965h21.9v1h-21.9zM376.6 965h21.9v1h-21.9zM267.0 966h43.9v1h-43.9zM486.3 966h21.9v1h-21.9zM267.0 967h43.9v1h-43.9zM464.4 967h65.8v1h-65.8zM267.0 968h43.9v1h-43.9zM464.4 968h65.8v1h-65.8zM267.0 969h43.9v1h-43.9zM464.4 969h65.8v1h-65.8zM267.0 970h43.9v1h-43.9zM464.4 970h65.8v1h-65.8zM267.0 971h21.9v1h-21.9zM464.4 971h65.8v1h-65.8zM267.0 972h21.9v1h-21.9zM464.4 972h65.8v1h-65.8zM267.0 973h21.9v1h-21.9zM508.2 973h21.9v1h-21.9zM267.0 974h21.9v1h-21.9zM508.2 974h21.9v1h-21.9zM267.0 975h21.9v1h-21.9zM288.9 977h21.9v1h-21.9zM288.9 978h43.9v1h-43.9zM223.1 980h21.9v1h-21.9zM486.3 980h43.9v1h-43.9zM486.3 981h21.9v1h-21.9z"/>
<path fill="#fcf2c2" d="M310.8 705h21.9v1h-21.9zM464.4 705h43.9v1h-43.9zM223.1 706h21.9v1h-21.9zM310.8 706h21.9v1h-21.9zM245.1 707h65.8v1h-65.8zM442.4 707h21.9v1h-21.9zM376.6 711h21.9v1h-21.9zM354.7 712h21.9v1h-21.9zM508.2 712h21.9v1h-21.9zM354.7 713h43.9v1h-43.9zM486.3 713h21.9v1h-21.9zM332.8 715h21.9v1h-21.9zM288.9 716h43.9v1h-43.9zM376.6 716h21.9v1h-21.9zM486.3 716h21.9v1h-21.9zM354.7 717h21.9v1h-21.9zM508.2 717h21.9v1h-21.9zM179.3 718h21.9v1h-21.9zM508.2 718h21.9v1h-21.9zM464.4 719h21.9v1h-21.9zM508.2 719h21.9v1h-21.9zM464.4 721h21.9v1h-21.9zM486.3 722h43.9v1h-43.9zM486.3 723h43.9v1h-43.9zM332.8 724h21.9v1h-21.9zM464.4 724h65.8v1h-65.8zM464.4 725h65.8v1h-65.8zM267.0 726h21.9v1h-21.9zM464.4 726h43.9v1h-43.9zM332.8 727h43.9v1h-43.9zM376.6 728h21.9v1h-21.9zM332.8 729h65.8v1h-65.8zM486.3 729h21.9v1h-21.9zM332.8 730h21.9v1h-21.9zM508.2 730h21.9v1h-21.9zM508.2 731h21.9v1h-21.9zM376.6 732h21.9v1h-21.9zM464.4 732h43.9v1h-43.9zM464.4 733h65.8v1h-65.8zM267.0 736h21.9v1h-21.9zM464.4 736h43.9v1h-43.9zM157.3 737h43.9v1h-43.9zM464.4 737h43.9v1h-43.9zM157.3 738h21.9v1h-21.9zM201.2 738h21.9v1h-21.9zM332.8 738h21.9v1h-21.9zM376.6 738h21.9v1h-21.9zM332.8 739h21.9v1h-21.9zM310.8 741h21.9v1h-21.9zM201.2 743h65.8v1h-65.8zM310.8 743h21.9v1h-21.9zM376.6 746h21.9v1h-21.9zM310.8 747h21.9v1h-21.9zM376.6 748h21.9v1h-21.9zM376.6 750h21.9v1h-21.9zM135.4 751h65.8v1h-65.8zM223.1 751h43.9v1h-43.9zM376.6 751h21.9v1h-21.9zM135.4 753h21.9v1h-21.9zM179.3 753h43.9v1h-43.9zM245.1 753h21.9v1h-21.9zM354.7 753h21.9v1h-21.9zM135.4 754h65.8v1h-65.8zM135.4 755h21.9v1h-21.9zM288.9 755h21.9v1h-21.9zM332.8 755h21.9v1h-21.9zM376.6 755h21.9v1h-21.9zM135.4 756h21.9v1h-21.9zM267.0 756h21.9v1h-21.9zM135.4 757h21.9v1h-21.9zM267.0 757h21.9v1h-21.9zM245.1 760h65.8v1h-65.8zM288.9 761h21.9v1h-21.9zM420.5 761h43.9v1h-43.9zM267.0 762h21.9v1h-21.9zM267.0 763h43.9v1h-43.9zM288.9 764h21.9v1h-21.9zM464.4 764h21.9v1h-21.9zM267.0 765h21.9v1h-21.9zM420.5 765h43.9v1h-43.9zM267.0 766h21.9v1h-21.9zM376.6 769h21.9v1h-21.9zM267.0 770h43.9v1h-43.9zM267.0 771h43.9v1h-43.9zM464.4 771h21.9v1h-21.9zM464.4 774h21.9v1h-21.9zM267.0 776h21.9v1h-21.9zM464.4 778h21.9v1h-21.9zM464.4 779h21.9v1h-21.9zM267.0 780h21.9v1h-21.9zM464.4 780h21.9v1h-21.9zM464.4 781h21.9v1h-21.9zM398.6 785h21.9v1h-21.9zM442.4 785h21.9v1h-21.9zM267.0 786h43.9v1h-43.9zM398.6 786h65.8v1h-65.8zM267.0 787h43.9v1h-43.9zM288.9 789h21.9v1h-21.9zM376.6 791h65.8v1h-65.8zM376.6 794h21.9v1h-21.9zM376.6 796h21.9v1h-21.9zM157.3 798h21.9v1h-21.9zM288.9 798h21.9v1h-21.9zM354.7 798h21.9v1h-21.9zM179.3 800h21.9v1h-21.9zM332.8 800h21.9v1h-21.9zM332.8 801h43.9v1h-43.9zM135.4 802h21.9v1h-21.9zM354.7 802h21.9v1h-21.9zM179.3 803h21.9v1h-21.9zM354.7 803h21.9v1h-21.9zM420.5 804h21.9v1h-21.9zM179.3 805h21.9v1h-21.9zM354.7 805h21.9v1h-21.9zM179.3 806h21.9v1h-21.9zM354.7 806h21.9v1h-21.9zM398.6 806h21.9v1h-21.9zM442.4 806h21.9v1h-21.9zM157.3 807h43.9v1h-43.9zM376.6 807h21.9v1h-21.9zM135.4 808h65.8v1h-65.8zM332.8 808h21.9v1h-21.9zM376.6 808h21.9v1h-21.9zM420.5 808h21.9v1h-21.9zM135.4 809h65.8v1h-65.8zM332.8 809h21.9v1h-21.9zM157.3 810h43.9v1h-43.9zM179.3 811h87.7v1h-87.7zM135.4 815h21.9v1h-21.9zM179.3 815h21.9v1h-21.9zM245.1 819h21.9v1h-21.9zM464.4 819h21.9v1h-21.9zM486.3 820h21.9v1h-21.9zM398.6 822h43.9v1h-43.9zM135.4 827h65.8v1h-65.8zM157.3 828h21.9v1h-21.9zM157.3 829h21.9v1h-21.9zM267.0 832h21.9v1h-21.9zM135.4 834h21.9v1h-21.9zM135.4 835h21.9v1h-21.9zM267.0 835h43.9v1h-43.9zM135.4 836h21.9v1h-21.9zM267.0 836h43.9v1h-43.9zM135.4 837h21.9v1h-21.9zM267.0 837h21.9v1h-21.9zM201.2 842h65.8v1h-65.8zM201.2 843h65.8v1h-65.8zM201.2 847h43.9v1h-43.9zM201.2 848h65.8v1h-65.8zM201.2 849h65.8v1h-65.8zM201.2 850h21.9v1h-21.9zM245.1 850h21.9v1h-21.9zM201.2 851h65.8v1h-65.8zM223.1 852h43.9v1h-43.9zM201.2 853h65.8v1h-65.8zM201.2 854h65.8v1h-65.8zM223.1 855h43.9v1h-43.9zM223.1 857h43.9v1h-43.9zM288.9 857h21.9v1h-21.9zM201.2 858h65.8v1h-65.8zM201.2 859h65.8v1h-65.8zM201.2 860h21.9v1h-21.9zM201.2 861h21.9v1h-21.9zM223.1 862h43.9v1h-43.9zM201.2 863h65.8v1h-65.8zM201.2 864h65.8v1h-65.8zM201.2 865h21.9v1h-21.9zM201.2 866h21.9v1h-21.9zM245.1 866h21.9v1h-21.9zM267.0 868h43.9v1h-43.9zM310.8 869h21.9v1h-21.9zM354.7 869h43.9v1h-43.9zM508.2 869h21.9v1h-21.9zM310.8 870h21.9v1h-21.9zM332.8 871h21.9v1h-21.9zM267.0 872h43.9v1h-43.9zM310.8 874h21.9v1h-21.9zM267.0 875h43.9v1h-43.9zM267.0 876h21.9v1h-21.9zM267.0 877h21.9v1h-21.9zM267.0 878h43.9v1h-43.9zM267.0 880h43.9v1h-43.9zM201.2 881h21.9v1h-21.9zM245.1 881h21.9v1h-21.9zM464.4 881h21.9v1h-21.9zM267.0 883h21.9v1h-21.9zM267.0 886h21.9v1h-21.9zM267.0 887h21.9v1h-21.9zM267.0 889h21.9v1h-21.9zM267.0 890h43.9v1h-43.9zM288.9 891h21.9v1h-21.9zM267.0 892h43.9v1h-43.9zM267.0 894h21.9v1h-21.9zM310.8 895h21.9v1h-21.9zM135.4 898h21.9v1h-21.9zM179.3 898h21.9v1h-21.9zM310.8 900h21.9v1h-21.9zM267.0 902h43.9v1h-43.9zM223.1 903h87.7v1h-87.7zM267.0 904h43.9v1h-43.9zM288.9 905h21.9v1h-21.9zM267.0 906h65.8v1h-65.8zM310.8 907h21.9v1h-21.9zM267.0 909h21.9v1h-21.9zM267.0 910h43.9v1h-43.9zM288.9 911h21.9v1h-21.9zM267.0 912h43.9v1h-43.9zM267.0 913h43.9v1h-43.9zM267.0 914h43.9v1h-43.9zM267.0 915h21.9v1h-21.9zM267.0 916h21.9v1h-21.9zM267.0 917h21.9v1h-21.9zM288.9 918h21.9v1h-21.9zM267.0 919h43.9v1h-43.9zM288.9 920h21.9v1h-21.9zM288.9 921h21.9v1h-21.9zM267.0 922h21.9v1h-21.9zM201.2 924h43.9v1h-43.9zM267.0 924h43.9v1h-43.9zM267.0 925h43.9v1h-43.9zM267.0 926h43.9v1h-43.9zM267.0 927h43.9v1h-43.9zM267.0 928h43.9v1h-43.9zM267.0 930h21.9v1h-21.9zM267.0 931h43.9v1h-43.9zM288.9 932h21.9v1h-21.9zM267.0 933h21.9v1h-21.9zM267.0 934h21.9v1h-21.9zM310.8 935h21.9v1h-21.9zM267.0 936h21.9v1h-21.9zM310.8 936h21.9v1h-21.9zM310.8 937h21.9v1h-21.9zM310.8 940h21.9v1h-21.9zM223.1 941h43.9v1h-43.9zM310.8 941h21.9v1h-21.9zM310.8 942h21.9v1h-21.9zM267.0 943h43.9v1h-43.9zM267.0 944h43.9v1h-43.9zM201.2 945h65.8v1h-65.8zM310.8 945h21.9v1h-21.9zM310.8 946h21.9v1h-21.9zM310.8 947h21.9v1h-21.9zM201.2 948h43.9v1h-43.9zM310.8 948h21.9v1h-21.9zM267.0 950h21.9v1h-21.9zM267.0 951h43.9v1h-43.9zM267.0 952h43.9v1h-43.9zM288.9 953h21.9v1h-21.9zM288.9 954h21.9v1h-21.9zM267.0 955h21.9v1h-21.9zM310.8 957h21.9v1h-21.9zM267.0 959h43.9v1h-43.9zM332.8 959h21.9v1h-21.9zM288.9 960h21.9v1h-21.9zM267.0 961h43.9v1h-43.9zM267.0 965h43.9v1h-43.9zM486.3 965h43.9v1h-43.9zM508.2 966h21.9v1h-21.9zM135.4 969h21.9v1h-21.9zM179.3 969h21.9v1h-21.9zM420.5 971h21.9v1h-21.9zM464.4 973h43.9v1h-43.9zM464.4 974h43.9v1h-43.9zM464.4 975h65.8v1h-65.8zM464.4 976h65.8v1h-65.8zM464.4 977h21.9v1h-21.9zM464.4 978h21.9v1h-21.9zM201.2 980h21.9v1h-21.9zM245.1 980h21.9v1h-21.9zM135.4 981h43.9v1h-43.9zM223.1 981h43.9v1h-43.9zM464.4 981h21.9v1h-21.9zM508.2 981h21.9v1h-21.9z"/>
<path fill="#f9e6bb" d="M201.2 704h65.8v1h-65.8zM442.4 704h21.9v1h-21.9zM201.2 705h65.8v1h-65.8zM288.9 705h21.9v1h-21.9zM508.2 705h21.9v1h-21.9zM201.2 706h21.9v1h-21.9zM245.1 706h21.9v1h-21.9zM464.4 706h43.9v1h-43.9zM464.4 707h21.9v1h-21.9zM508.2 711h21.9v1h-21.9zM376.6 712h21.9v1h-21.9zM486.3 715h21.9v1h-21.9zM267.0 716h21.9v1h-21.9zM486.3 717h21.9v1h-21.9zM354.7 718h21.9v1h-21.9zM464.4 718h21.9v1h-21.9zM354.7 719h21.9v1h-21.9zM486.3 719h21.9v1h-21.9zM354.7 720h21.9v1h-21.9zM486.3 720h21.9v1h-21.9zM354.7 721h21.9v1h-21.9zM486.3 721h21.9v1h-21.9zM332.8 722h21.9v1h-21.9zM398.6 722h87.7v1h-87.7zM332.8 723h21.9v1h-21.9zM398.6 723h87.7v1h-87.7zM354.7 724h21.9v1h-21.9zM398.6 724h65.8v1h-65.8zM332.8 725h43.9v1h-43.9zM420.5 725h43.9v1h-43.9zM332.8 726h65.8v1h-65.8zM376.6 727h87.7v1h-87.7zM354.7 730h43.9v1h-43.9zM464.4 730h43.9v1h-43.9zM376.6 731h21.9v1h-21.9zM464.4 731h43.9v1h-43.9zM332.8 733h21.9v1h-21.9zM310.8 737h21.9v1h-21.9zM376.6 737h21.9v1h-21.9zM135.4 738h21.9v1h-21.9zM179.3 738h21.9v1h-21.9zM223.1 738h43.9v1h-43.9zM354.7 738h21.9v1h-21.9zM135.4 739h109.7v1h-109.7zM135.4 740h65.8v1h-65.8zM223.1 740h21.9v1h-21.9zM310.8 740h21.9v1h-21.9zM201.2 741h65.8v1h-65.8zM288.9 741h21.9v1h-21.9zM310.8 742h21.9v1h-21.9zM354.7 743h21.9v1h-21.9zM201.2 744h65.8v1h-65.8zM310.8 744h21.9v1h-21.9zM201.2 745h65.8v1h-65.8zM223.1 746h21.9v1h-21.9zM201.2 747h65.8v1h-65.8zM288.9 747h21.9v1h-21.9zM354.7 747h21.9v1h-21.9zM201.2 748h65.8v1h-65.8zM310.8 748h21.9v1h-21.9zM201.2 749h21.9v1h-21.9zM245.1 749h21.9v1h-21.9zM310.8 749h21.9v1h-21.9zM376.6 749h21.9v1h-21.9zM310.8 750h21.9v1h-21.9zM201.2 751h21.9v1h-21.9zM310.8 751h21.9v1h-21.9zM135.4 752h65.8v1h-65.8zM310.8 752h21.9v1h-21.9zM354.7 752h21.9v1h-21.9zM310.8 753h21.9v1h-21.9zM201.2 754h65.8v1h-65.8zM310.8 754h43.9v1h-43.9zM157.3 755h43.9v1h-43.9zM267.0 755h21.9v1h-21.9zM157.3 756h43.9v1h-43.9zM332.8 756h21.9v1h-21.9zM157.3 757h43.9v1h-43.9zM332.8 757h21.9v1h-21.9zM332.8 758h21.9v1h-21.9zM376.6 758h21.9v1h-21.9zM398.6 759h65.8v1h-65.8zM398.6 760h65.8v1h-65.8zM267.0 761h21.9v1h-21.9zM398.6 761h21.9v1h-21.9zM376.6 762h87.7v1h-87.7zM376.6 763h21.9v1h-21.9zM420.5 763h21.9v1h-21.9zM267.0 764h21.9v1h-21.9zM398.6 764h65.8v1h-65.8zM398.6 765h21.9v1h-21.9zM420.5 766h43.9v1h-43.9zM376.6 768h21.9v1h-21.9zM354.7 769h21.9v1h-21.9zM376.6 774h21.9v1h-21.9zM288.9 776h21.9v1h-21.9zM354.7 777h21.9v1h-21.9zM332.8 778h21.9v1h-21.9zM376.6 778h21.9v1h-21.9zM376.6 783h21.9v1h-21.9zM376.6 785h21.9v1h-21.9zM376.6 786h21.9v1h-21.9zM376.6 787h87.7v1h-87.7zM267.0 788h43.9v1h-43.9zM376.6 788h21.9v1h-21.9zM267.0 789h21.9v1h-21.9zM376.6 789h21.9v1h-21.9zM376.6 790h21.9v1h-21.9zM442.4 791h21.9v1h-21.9zM376.6 792h21.9v1h-21.9zM376.6 793h21.9v1h-21.9zM376.6 795h21.9v1h-21.9zM354.7 796h21.9v1h-21.9zM354.7 797h21.9v1h-21.9zM354.7 800h21.9v1h-21.9zM398.6 801h65.8v1h-65.8zM442.4 802h21.9v1h-21.9zM442.4 803h21.9v1h-21.9zM135.4 804h21.9v1h-21.9zM398.6 804h21.9v1h-21.9zM398.6 805h21.9v1h-21.9zM135.4 807h21.9v1h-21.9zM310.8 813h21.9v1h-21.9zM201.2 815h21.9v1h-21.9zM201.2 818h65.8v1h-65.8zM201.2 819h43.9v1h-43.9zM201.2 820h21.9v1h-21.9zM245.1 820h21.9v1h-21.9zM464.4 820h21.9v1h-21.9zM201.2 821h21.9v1h-21.9zM442.4 822h21.9v1h-21.9zM135.4 828h21.9v1h-21.9zM179.3 828h21.9v1h-21.9zM135.4 829h21.9v1h-21.9zM179.3 829h21.9v1h-21.9zM157.3 830h21.9v1h-21.9zM157.3 831h21.9v1h-21.9zM310.8 831h21.9v1h-21.9zM135.4 832h43.9v1h-43.9zM135.4 833h21.9v1h-21.9zM201.2 834h43.9v1h-43.9zM201.2 835h21.9v1h-21.9zM135.4 838h21.9v1h-21.9zM223.1 838h43.9v1h-43.9zM245.1 839h21.9v1h-21.9zM201.2 840h21.9v1h-21.9zM245.1 840h21.9v1h-21.9zM201.2 841h65.8v1h-65.8zM201.2 844h65.8v1h-65.8zM201.2 846h65.8v1h-65.8zM245.1 847h21.9v1h-21.9zM201.2 852h21.9v1h-21.9zM223.1 860h43.9v1h-43.9zM223.1 861h43.9v1h-43.9zM223.1 865h43.9v1h-43.9zM135.4 869h65.8v1h-65.8zM288.9 869h21.9v1h-21.9zM464.4 869h21.9v1h-21.9zM135.4 870h65.8v1h-65.8zM288.9 870h21.9v1h-21.9zM267.0 871h43.9v1h-43.9zM332.8 872h21.9v1h-21.9zM267.0 873h43.9v1h-43.9zM267.0 874h43.9v1h-43.9zM223.1 881h21.9v1h-21.9zM201.2 882h21.9v1h-21.9zM245.1 882h21.9v1h-21.9zM223.1 885h21.9v1h-21.9zM332.8 886h21.9v1h-21.9zM267.0 891h21.9v1h-21.9zM310.8 896h21.9v1h-21.9zM157.3 897h65.8v1h-65.8zM245.1 897h21.9v1h-21.9zM201.2 901h21.9v1h-21.9zM201.2 903h21.9v1h-21.9zM223.1 904h21.9v1h-21.9zM267.0 905h21.9v1h-21.9zM201.2 910h65.8v1h-65.8zM267.0 911h21.9v1h-21.9zM267.0 918h21.9v1h-21.9zM267.0 920h21.9v1h-21.9zM267.0 921h21.9v1h-21.9zM201.2 923h21.9v1h-21.9zM245.1 924h21.9v1h-21.9zM201.2 927h65.8v1h-65.8zM267.0 932h21.9v1h-21.9zM223.1 936h43.9v1h-43.9zM288.9 937h21.9v1h-21.9zM310.8 938h21.9v1h-21.9zM310.8 939h21.9v1h-21.9zM223.1 940h21.9v1h-21.9zM135.4 941h21.9v1h-21.9zM201.2 941h21.9v1h-21.9zM201.2 942h21.9v1h-21.9zM245.1 942h65.8v1h-65.8zM157.3 943h21.9v1h-21.9zM201.2 944h65.8v1h-65.8zM288.9 945h21.9v1h-21.9zM201.2 946h65.8v1h-65.8zM201.2 947h65.8v1h-65.8zM288.9 947h21.9v1h-21.9zM245.1 948h21.9v1h-21.9zM223.1 949h43.9v1h-43.9zM267.0 953h21.9v1h-21.9zM267.0 954h21.9v1h-21.9zM223.1 955h21.9v1h-21.9zM223.1 956h21.9v1h-21.9zM223.1 957h21.9v1h-21.9zM223.1 958h21.9v1h-21.9zM267.0 960h21.9v1h-21.9zM157.3 961h21.9v1h-21.9zM245.1 961h21.9v1h-21.9zM245.1 962h21.9v1h-21.9zM464.4 963h21.9v1h-21.9zM464.4 966h21.9v1h-21.9zM157.3 969h21.9v1h-21.9zM201.2 969h21.9v1h-21.9zM201.2 970h43.9v1h-43.9zM223.1 971h21.9v1h-21.9zM201.2 974h65.8v1h-65.8zM201.2 975h65.8v1h-65.8zM223.1 976h21.9v1h-21.9zM486.3 977h21.9v1h-21.9zM223.1 978h21.9v1h-21.9zM201.2 979h65.8v1h-65.8zM464.4 979h43.9v1h-43.9zM464.4 980h21.9v1h-21.9zM179.3 981h43.9v1h-43.9z"/>
<path fill="#f6d9b5" d="M267.0 705h21.9v1h-21.9zM267.0 706h43.9v1h-43.9zM442.4 706h21.9v1h-21.9zM464.4 708h21.9v1h-21.9zM486.3 712h21.9v1h-21.9zM464.4 717h21.9v1h-21.9zM486.3 718h21.9v1h-21.9zM354.7 722h21.9v1h-21.9zM354.7 723h21.9v1h-21.9zM376.6 725h43.9v1h-43.9zM398.6 726h65.8v1h-65.8zM332.8 731h43.9v1h-43.9zM354.7 732h21.9v1h-21.9zM354.7 734h43.9v1h-43.9zM332.8 737h43.9v1h-43.9zM310.8 738h21.9v1h-21.9zM245.1 739h21.9v1h-21.9zM310.8 739h21.9v1h-21.9zM201.2 740h21.9v1h-21.9zM245.1 740h21.9v1h-21.9zM354.7 740h21.9v1h-21.9zM267.0 741h21.9v1h-21.9zM288.9 742h21.9v1h-21.9zM354.7 742h21.9v1h-21.9zM267.0 743h43.9v1h-43.9zM288.9 744h21.9v1h-21.9zM354.7 744h21.9v1h-21.9zM310.8 745h21.9v1h-21.9zM354.7 745h21.9v1h-21.9zM201.2 746h21.9v1h-21.9zM245.1 746h21.9v1h-21.9zM310.8 746h21.9v1h-21.9zM354.7 746h21.9v1h-21.9zM267.0 747h21.9v1h-21.9zM354.7 748h21.9v1h-21.9zM223.1 749h21.9v1h-21.9zM201.2 750h65.8v1h-65.8zM332.8 752h21.9v1h-21.9zM332.8 753h21.9v1h-21.9zM223.1 755h43.9v1h-43.9zM376.6 756h21.9v1h-21.9zM354.7 757h43.9v1h-43.9zM354.7 758h21.9v1h-21.9zM201.2 759h21.9v1h-21.9zM332.8 759h65.8v1h-65.8zM354.7 760h43.9v1h-43.9zM354.7 761h43.9v1h-43.9zM354.7 762h21.9v1h-21.9zM354.7 763h21.9v1h-21.9zM398.6 763h21.9v1h-21.9zM442.4 763h21.9v1h-21.9zM354.7 764h43.9v1h-43.9zM354.7 765h43.9v1h-43.9zM376.6 766h43.9v1h-43.9zM354.7 767h43.9v1h-43.9zM354.7 768h21.9v1h-21.9zM332.8 769h21.9v1h-21.9zM354.7 770h43.9v1h-43.9zM354.7 772h21.9v1h-21.9zM354.7 773h43.9v1h-43.9zM354.7 774h21.9v1h-21.9zM354.7 775h43.9v1h-43.9zM354.7 776h21.9v1h-21.9zM398.6 778h65.8v1h-65.8zM354.7 779h21.9v1h-21.9zM376.6 782h21.9v1h-21.9zM376.6 784h21.9v1h-21.9zM398.6 792h21.9v1h-21.9zM354.7 794h21.9v1h-21.9zM398.6 800h65.8v1h-65.8zM398.6 802h43.9v1h-43.9zM135.4 803h21.9v1h-21.9zM398.6 803h43.9v1h-43.9zM442.4 804h21.9v1h-21.9zM135.4 805h21.9v1h-21.9zM135.4 806h21.9v1h-21.9zM310.8 814h21.9v1h-21.9zM223.1 815h43.9v1h-43.9zM310.8 815h21.9v1h-21.9zM310.8 816h21.9v1h-21.9zM310.8 817h21.9v1h-21.9zM310.8 818h21.9v1h-21.9zM223.1 820h21.9v1h-21.9zM310.8 820h21.9v1h-21.9zM223.1 821h43.9v1h-43.9zM310.8 821h21.9v1h-21.9zM201.2 822h43.9v1h-43.9zM310.8 822h21.9v1h-21.9zM201.2 823h43.9v1h-43.9zM310.8 823h21.9v1h-21.9zM201.2 824h65.8v1h-65.8zM310.8 824h21.9v1h-21.9zM201.2 826h43.9v1h-43.9zM201.2 827h43.9v1h-43.9zM201.2 828h65.8v1h-65.8zM201.2 829h65.8v1h-65.8zM135.4 830h21.9v1h-21.9zM179.3 830h43.9v1h-43.9zM135.4 831h21.9v1h-21.9zM179.3 831h87.7v1h-87.7zM179.3 832h87.7v1h-87.7zM157.3 833h21.9v1h-21.9zM201.2 833h65.8v1h-65.8zM245.1 834h21.9v1h-21.9zM223.1 835h43.9v1h-43.9zM223.1 837h21.9v1h-21.9zM201.2 838h21.9v1h-21.9zM201.2 839h43.9v1h-43.9zM223.1 840h21.9v1h-21.9zM135.4 843h21.9v1h-21.9zM201.2 845h65.8v1h-65.8zM135.4 857h43.9v1h-43.9zM135.4 860h21.9v1h-21.9zM135.4 868h65.8v1h-65.8zM267.0 869h21.9v1h-21.9zM486.3 869h21.9v1h-21.9zM201.2 870h87.7v1h-87.7zM135.4 871h65.8v1h-65.8zM201.2 874h65.8v1h-65.8zM201.2 875h65.8v1h-65.8zM201.2 876h65.8v1h-65.8zM201.2 877h65.8v1h-65.8zM201.2 878h65.8v1h-65.8zM201.2 879h65.8v1h-65.8zM201.2 880h65.8v1h-65.8zM223.1 882h21.9v1h-21.9zM201.2 883h21.9v1h-21.9zM245.1 883h21.9v1h-21.9zM135.4 884h21.9v1h-21.9zM201.2 884h65.8v1h-65.8zM201.2 885h21.9v1h-21.9zM245.1 885h21.9v1h-21.9zM201.2 890h21.9v1h-21.9zM201.2 891h21.9v1h-21.9zM135.4 895h21.9v1h-21.9zM179.3 895h21.9v1h-21.9zM201.2 896h43.9v1h-43.9zM135.4 897h21.9v1h-21.9zM223.1 897h21.9v1h-21.9zM201.2 898h21.9v1h-21.9zM245.1 898h21.9v1h-21.9zM201.2 899h65.8v1h-65.8zM201.2 900h65.8v1h-65.8zM223.1 901h43.9v1h-43.9zM201.2 902h65.8v1h-65.8zM201.2 904h21.9v1h-21.9zM245.1 904h21.9v1h-21.9zM157.3 905h43.9v1h-43.9zM223.1 905h21.9v1h-21.9zM157.3 907h21.9v1h-21.9zM223.1 908h21.9v1h-21.9zM201.2 909h65.8v1h-65.8zM201.2 911h65.8v1h-65.8zM201.2 912h21.9v1h-21.9zM201.2 914h21.9v1h-21.9zM245.1 914h21.9v1h-21.9zM223.1 915h21.9v1h-21.9zM201.2 916h43.9v1h-43.9zM201.2 917h65.8v1h-65.8zM223.1 918h43.9v1h-43.9zM201.2 921h65.8v1h-65.8zM201.2 922h43.9v1h-43.9zM223.1 923h43.9v1h-43.9zM201.2 925h65.8v1h-65.8zM201.2 926h65.8v1h-65.8zM201.2 928h43.9v1h-43.9zM201.2 929h21.9v1h-21.9zM201.2 930h21.9v1h-21.9zM201.2 931h21.9v1h-21.9zM135.4 933h21.9v1h-21.9zM135.4 934h21.9v1h-21.9zM179.3 934h21.9v1h-21.9zM223.1 937h21.9v1h-21.9zM267.0 937h21.9v1h-21.9zM223.1 938h21.9v1h-21.9zM288.9 938h21.9v1h-21.9zM223.1 939h21.9v1h-21.9zM135.4 940h21.9v1h-21.9zM201.2 940h21.9v1h-21.9zM245.1 940h65.8v1h-65.8zM157.3 941h21.9v1h-21.9zM267.0 941h43.9v1h-43.9zM135.4 942h65.8v1h-65.8zM223.1 942h21.9v1h-21.9zM135.4 943h21.9v1h-21.9zM179.3 943h87.7v1h-87.7zM135.4 944h65.8v1h-65.8zM135.4 945h21.9v1h-21.9zM267.0 945h21.9v1h-21.9zM288.9 946h21.9v1h-21.9zM267.0 947h21.9v1h-21.9zM135.4 948h65.8v1h-65.8zM135.4 949h43.9v1h-43.9zM201.2 949h21.9v1h-21.9zM135.4 950h43.9v1h-43.9zM201.2 950h65.8v1h-65.8zM135.4 951h109.7v1h-109.7zM135.4 952h43.9v1h-43.9zM201.2 954h43.9v1h-43.9zM135.4 955h43.9v1h-43.9zM201.2 955h21.9v1h-21.9zM245.1 955h21.9v1h-21.9zM135.4 956h43.9v1h-43.9zM201.2 956h21.9v1h-21.9zM245.1 956h21.9v1h-21.9zM135.4 957h87.7v1h-87.7zM245.1 957h21.9v1h-21.9zM201.2 958h21.9v1h-21.9zM245.1 958h21.9v1h-21.9zM201.2 959h43.9v1h-43.9zM201.2 960h65.8v1h-65.8zM135.4 961h21.9v1h-21.9zM179.3 961h65.8v1h-65.8zM157.3 962h21.9v1h-21.9zM201.2 962h43.9v1h-43.9zM332.8 962h21.9v1h-21.9zM201.2 963h65.8v1h-65.8zM201.2 964h43.9v1h-43.9zM201.2 965h43.9v1h-43.9zM201.2 966h21.9v1h-21.9zM135.4 967h87.7v1h-87.7zM135.4 968h131.6v1h-131.6zM223.1 969h43.9v1h-43.9zM245.1 970h21.9v1h-21.9zM135.4 971h87.7v1h-87.7zM245.1 971h21.9v1h-21.9zM398.6 971h21.9v1h-21.9zM442.4 971h21.9v1h-21.9zM135.4 972h131.6v1h-131.6zM201.2 973h65.8v1h-65.8zM135.4 976h21.9v1h-21.9zM201.2 976h21.9v1h-21.9zM245.1 976h21.9v1h-21.9zM223.1 977h21.9v1h-21.9zM508.2 977h21.9v1h-21.9zM135.4 978h21.9v1h-21.9zM201.2 978h21.9v1h-21.9zM245.1 978h21.9v1h-21.9zM508.2 979h21.9v1h-21.9z"/>
<path fill="#f3cdae" d="M442.4 705h21.9v1h-21.9zM508.2 706h21.9v1h-21.9zM508.2 710h21.9v1h-21.9zM464.4 712h21.9v1h-21.9zM376.6 717h87.7v1h-87.7zM376.6 719h21.9v1h-21.9zM376.6 720h21.9v1h-21.9zM442.4 720h21.9v1h-21.9zM376.6 721h21.9v1h-21.9zM376.6 724h21.9v1h-21.9zM354.7 736h43.9v1h-43.9zM267.0 737h43.9v1h-43.9zM288.9 739h21.9v1h-21.9zM267.0 740h43.9v1h-43.9zM354.7 741h21.9v1h-21.9zM267.0 742h21.9v1h-21.9zM267.0 744h21.9v1h-21.9zM288.9 746h21.9v1h-21.9zM267.0 748h43.9v1h-43.9zM288.9 749h21.9v1h-21.9zM354.7 749h21.9v1h-21.9zM288.9 750h21.9v1h-21.9zM354.7 750h21.9v1h-21.9zM288.9 751h21.9v1h-21.9zM354.7 751h21.9v1h-21.9zM288.9 752h21.9v1h-21.9zM288.9 753h21.9v1h-21.9zM267.0 754h43.9v1h-43.9zM201.2 755h21.9v1h-21.9zM223.1 756h43.9v1h-43.9zM245.1 757h21.9v1h-21.9zM201.2 758h21.9v1h-21.9zM223.1 759h21.9v1h-21.9zM332.8 760h21.9v1h-21.9zM354.7 766h21.9v1h-21.9zM332.8 768h21.9v1h-21.9zM354.7 771h43.9v1h-43.9zM376.6 772h21.9v1h-21.9zM398.6 773h65.8v1h-65.8zM332.8 775h21.9v1h-21.9zM332.8 776h21.9v1h-21.9zM376.6 776h21.9v1h-21.9zM332.8 777h21.9v1h-21.9zM376.6 777h21.9v1h-21.9zM332.8 779h21.9v1h-21.9zM420.5 779h21.9v1h-21.9zM354.7 780h21.9v1h-21.9zM332.8 781h43.9v1h-43.9zM354.7 782h21.9v1h-21.9zM398.6 790h21.9v1h-21.9zM442.4 790h21.9v1h-21.9zM420.5 792h43.9v1h-43.9zM398.6 793h21.9v1h-21.9zM442.4 793h21.9v1h-21.9zM354.7 795h21.9v1h-21.9zM420.5 796h21.9v1h-21.9zM332.8 797h21.9v1h-21.9zM398.6 797h65.8v1h-65.8zM354.7 799h43.9v1h-43.9zM442.4 805h21.9v1h-21.9zM376.6 806h21.9v1h-21.9zM288.9 813h21.9v1h-21.9zM310.8 819h21.9v1h-21.9zM245.1 822h21.9v1h-21.9zM288.9 822h21.9v1h-21.9zM245.1 823h21.9v1h-21.9zM201.2 825h65.8v1h-65.8zM310.8 825h21.9v1h-21.9zM245.1 826h21.9v1h-21.9zM310.8 826h21.9v1h-21.9zM245.1 827h21.9v1h-21.9zM310.8 827h21.9v1h-21.9zM223.1 830h43.9v1h-43.9zM310.8 830h21.9v1h-21.9zM464.4 830h21.9v1h-21.9zM267.0 831h43.9v1h-43.9zM464.4 832h21.9v1h-21.9zM157.3 834h21.9v1h-21.9zM157.3 835h21.9v1h-21.9zM157.3 836h21.9v1h-21.9zM201.2 836h65.8v1h-65.8zM157.3 837h21.9v1h-21.9zM201.2 837h21.9v1h-21.9zM245.1 837h21.9v1h-21.9zM157.3 838h21.9v1h-21.9zM157.3 843h43.9v1h-43.9zM135.4 858h43.9v1h-43.9zM135.4 861h21.9v1h-21.9zM201.2 871h43.9v1h-43.9zM201.2 872h43.9v1h-43.9zM201.2 873h65.8v1h-65.8zM223.1 883h21.9v1h-21.9zM157.3 884h43.9v1h-43.9zM201.2 886h65.8v1h-65.8zM201.2 887h43.9v1h-43.9zM223.1 888h21.9v1h-21.9zM201.2 889h21.9v1h-21.9zM223.1 890h43.9v1h-43.9zM223.1 891h43.9v1h-43.9zM201.2 892h43.9v1h-43.9zM201.2 893h65.8v1h-65.8zM201.2 894h65.8v1h-65.8zM157.3 895h21.9v1h-21.9zM201.2 895h65.8v1h-65.8zM245.1 896h21.9v1h-21.9zM223.1 898h21.9v1h-21.9zM135.4 905h21.9v1h-21.9zM201.2 905h21.9v1h-21.9zM245.1 905h21.9v1h-21.9zM157.3 906h21.9v1h-21.9zM223.1 906h21.9v1h-21.9zM135.4 907h21.9v1h-21.9zM179.3 907h65.8v1h-65.8zM157.3 908h21.9v1h-21.9zM201.2 908h21.9v1h-21.9zM245.1 908h21.9v1h-21.9zM223.1 912h43.9v1h-43.9zM201.2 913h21.9v1h-21.9zM245.1 913h21.9v1h-21.9zM223.1 914h21.9v1h-21.9zM201.2 915h21.9v1h-21.9zM245.1 915h21.9v1h-21.9zM157.3 916h43.9v1h-43.9zM245.1 916h21.9v1h-21.9zM201.2 918h21.9v1h-21.9zM201.2 919h65.8v1h-65.8zM201.2 920h65.8v1h-65.8zM245.1 922h21.9v1h-21.9zM135.4 926h21.9v1h-21.9zM179.3 926h21.9v1h-21.9zM245.1 928h21.9v1h-21.9zM223.1 929h21.9v1h-21.9zM135.4 930h43.9v1h-43.9zM157.3 931h21.9v1h-21.9zM157.3 932h21.9v1h-21.9zM201.2 932h21.9v1h-21.9zM157.3 933h43.9v1h-43.9zM157.3 934h21.9v1h-21.9zM223.1 935h21.9v1h-21.9zM157.3 937h21.9v1h-21.9zM201.2 937h21.9v1h-21.9zM245.1 937h21.9v1h-21.9zM201.2 938h21.9v1h-21.9zM245.1 938h43.9v1h-43.9zM201.2 939h21.9v1h-21.9zM245.1 939h65.8v1h-65.8zM157.3 940h43.9v1h-43.9zM179.3 941h21.9v1h-21.9zM157.3 945h43.9v1h-43.9zM135.4 946h65.8v1h-65.8zM267.0 946h21.9v1h-21.9zM135.4 947h65.8v1h-65.8zM179.3 949h21.9v1h-21.9zM179.3 950h21.9v1h-21.9zM245.1 951h21.9v1h-21.9zM179.3 952h87.7v1h-87.7zM135.4 953h43.9v1h-43.9zM201.2 953h65.8v1h-65.8zM157.3 954h21.9v1h-21.9zM245.1 954h21.9v1h-21.9zM179.3 955h21.9v1h-21.9zM179.3 956h21.9v1h-21.9zM135.4 958h65.8v1h-65.8zM157.3 959h21.9v1h-21.9zM245.1 959h21.9v1h-21.9zM135.4 960h65.8v1h-65.8zM135.4 962h21.9v1h-21.9zM179.3 962h21.9v1h-21.9zM157.3 963h21.9v1h-21.9zM135.4 964h43.9v1h-43.9zM245.1 964h21.9v1h-21.9zM135.4 965h65.8v1h-65.8zM245.1 965h21.9v1h-21.9zM135.4 966h43.9v1h-43.9zM223.1 966h43.9v1h-43.9zM223.1 967h43.9v1h-43.9zM135.4 970h65.8v1h-65.8zM135.4 973h65.8v1h-65.8zM135.4 974h43.9v1h-43.9zM135.4 975h43.9v1h-43.9zM157.3 976h21.9v1h-21.9zM135.4 977h21.9v1h-21.9zM201.2 977h21.9v1h-21.9zM245.1 977h21.9v1h-21.9zM157.3 978h21.9v1h-21.9zM135.4 979h65.8v1h-65.8zM135.4 980h65.8v1h-65.8z"/>
<path fill="#f0c0a8" d="M486.3 707h21.9v1h-21.9zM464.4 709h21.9v1h-21.9zM464.4 711h43.9v1h-43.9zM376.6 718h43.9v1h-43.9zM398.6 719h65.8v1h-65.8zM398.6 720h43.9v1h-43.9zM398.6 721h65.8v1h-65.8zM332.8 732h21.9v1h-21.9zM354.7 735h43.9v1h-43.9zM267.0 738h43.9v1h-43.9zM267.0 739h21.9v1h-21.9zM332.8 740h21.9v1h-21.9zM332.8 743h21.9v1h-21.9zM267.0 745h43.9v1h-43.9zM267.0 746h21.9v1h-21.9zM332.8 747h21.9v1h-21.9zM267.0 749h21.9v1h-21.9zM267.0 750h21.9v1h-21.9zM267.0 751h21.9v1h-21.9zM267.0 752h21.9v1h-21.9zM267.0 753h21.9v1h-21.9zM223.1 757h21.9v1h-21.9zM223.1 758h21.9v1h-21.9zM332.8 761h21.9v1h-21.9zM332.8 762h21.9v1h-21.9zM332.8 763h21.9v1h-21.9zM332.8 764h21.9v1h-21.9zM332.8 765h21.9v1h-21.9zM332.8 766h21.9v1h-21.9zM332.8 767h21.9v1h-21.9zM332.8 770h21.9v1h-21.9zM332.8 771h21.9v1h-21.9zM420.5 771h21.9v1h-21.9zM332.8 772h21.9v1h-21.9zM420.5 772h43.9v1h-43.9zM332.8 773h21.9v1h-21.9zM332.8 774h21.9v1h-21.9zM398.6 777h65.8v1h-65.8zM398.6 779h21.9v1h-21.9zM442.4 779h21.9v1h-21.9zM332.8 780h21.9v1h-21.9zM420.5 781h43.9v1h-43.9zM332.8 782h21.9v1h-21.9zM354.7 783h21.9v1h-21.9zM354.7 785h21.9v1h-21.9zM354.7 787h21.9v1h-21.9zM398.6 788h65.8v1h-65.8zM398.6 789h21.9v1h-21.9zM420.5 790h21.9v1h-21.9zM354.7 793h21.9v1h-21.9zM420.5 793h21.9v1h-21.9zM398.6 794h65.8v1h-65.8zM398.6 795h43.9v1h-43.9zM332.8 796h21.9v1h-21.9zM398.6 796h21.9v1h-21.9zM442.4 796h21.9v1h-21.9zM398.6 798h65.8v1h-65.8zM398.6 799h65.8v1h-65.8zM376.6 801h21.9v1h-21.9zM376.6 803h21.9v1h-21.9zM376.6 805h21.9v1h-21.9zM332.8 810h21.9v1h-21.9zM332.8 811h21.9v1h-21.9zM267.0 813h21.9v1h-21.9zM288.9 814h21.9v1h-21.9zM267.0 815h43.9v1h-43.9zM267.0 816h43.9v1h-43.9zM267.0 817h43.9v1h-43.9zM288.9 818h21.9v1h-21.9zM267.0 820h43.9v1h-43.9zM267.0 821h43.9v1h-43.9zM267.0 823h43.9v1h-43.9zM267.0 824h21.9v1h-21.9zM288.9 826h21.9v1h-21.9zM310.8 828h21.9v1h-21.9zM310.8 829h21.9v1h-21.9zM179.3 833h21.9v1h-21.9zM179.3 834h21.9v1h-21.9zM179.3 835h21.9v1h-21.9zM179.3 838h21.9v1h-21.9zM135.4 839h21.9v1h-21.9zM135.4 844h21.9v1h-21.9zM135.4 848h43.9v1h-43.9zM135.4 856h21.9v1h-21.9zM179.3 857h21.9v1h-21.9zM179.3 858h21.9v1h-21.9zM135.4 859h21.9v1h-21.9zM157.3 860h21.9v1h-21.9zM157.3 861h21.9v1h-21.9zM245.1 871h21.9v1h-21.9zM135.4 872h43.9v1h-43.9zM245.1 872h21.9v1h-21.9zM135.4 878h65.8v1h-65.8zM135.4 879h43.9v1h-43.9zM135.4 880h43.9v1h-43.9zM135.4 883h43.9v1h-43.9zM135.4 885h65.8v1h-65.8zM135.4 887h21.9v1h-21.9zM245.1 887h21.9v1h-21.9zM201.2 888h21.9v1h-21.9zM245.1 888h21.9v1h-21.9zM223.1 889h43.9v1h-43.9zM135.4 890h65.8v1h-65.8zM135.4 891h43.9v1h-43.9zM135.4 892h65.8v1h-65.8zM245.1 892h21.9v1h-21.9zM135.4 893h43.9v1h-43.9zM135.4 894h21.9v1h-21.9zM179.3 894h21.9v1h-21.9zM135.4 896h65.8v1h-65.8zM135.4 899h65.8v1h-65.8zM135.4 904h65.8v1h-65.8zM135.4 906h21.9v1h-21.9zM179.3 906h43.9v1h-43.9zM245.1 906h21.9v1h-21.9zM245.1 907h21.9v1h-21.9zM135.4 908h21.9v1h-21.9zM179.3 908h21.9v1h-21.9zM223.1 913h21.9v1h-21.9zM135.4 916h21.9v1h-21.9zM135.4 917h43.9v1h-43.9zM135.4 920h43.9v1h-43.9zM135.4 922h21.9v1h-21.9zM135.4 923h65.8v1h-65.8zM135.4 924h65.8v1h-65.8zM135.4 925h65.8v1h-65.8zM157.3 926h21.9v1h-21.9zM135.4 929h43.9v1h-43.9zM245.1 929h21.9v1h-21.9zM179.3 930h21.9v1h-21.9zM135.4 931h21.9v1h-21.9zM179.3 931h21.9v1h-21.9zM135.4 932h21.9v1h-21.9zM179.3 932h21.9v1h-21.9zM201.2 933h21.9v1h-21.9zM135.4 935h21.9v1h-21.9zM179.3 935h21.9v1h-21.9zM245.1 935h21.9v1h-21.9zM135.4 936h43.9v1h-43.9zM201.2 936h21.9v1h-21.9zM135.4 937h21.9v1h-21.9zM179.3 937h21.9v1h-21.9zM135.4 938h65.8v1h-65.8zM135.4 939h65.8v1h-65.8zM179.3 953h21.9v1h-21.9zM135.4 954h21.9v1h-21.9zM179.3 954h21.9v1h-21.9zM135.4 959h21.9v1h-21.9zM179.3 959h21.9v1h-21.9zM332.8 960h21.9v1h-21.9zM135.4 963h21.9v1h-21.9zM179.3 963h21.9v1h-21.9zM179.3 964h21.9v1h-21.9zM464.4 964h21.9v1h-21.9zM464.4 965h21.9v1h-21.9zM179.3 966h21.9v1h-21.9zM179.3 974h21.9v1h-21.9zM179.3 975h21.9v1h-21.9zM179.3 976h21.9v1h-21.9zM157.3 977h21.9v1h-21.9zM179.3 978h21.9v1h-21.9zM486.3 978h21.9v1h-21.9z"/>
<path fill="#ecb3a0" d="M486.3 708h21.9v1h-21.9zM486.3 709h21.9v1h-21.9zM464.4 710h43.9v1h-43.9zM420.5 718h43.9v1h-43.9zM376.6 722h21.9v1h-21.9zM376.6 723h21.9v1h-21.9zM332.8 734h21.9v1h-21.9zM332.8 736h21.9v1h-21.9zM332.8 744h21.9v1h-21.9zM332.8 745h21.9v1h-21.9zM332.8 746h21.9v1h-21.9zM332.8 748h21.9v1h-21.9zM332.8 751h21.9v1h-21.9zM398.6 767h65.8v1h-65.8zM398.6 769h43.9v1h-43.9zM398.6 771h21.9v1h-21.9zM442.4 771h21.9v1h-21.9zM398.6 772h21.9v1h-21.9zM398.6 774h65.8v1h-65.8zM398.6 775h21.9v1h-21.9zM442.4 775h21.9v1h-21.9zM398.6 776h21.9v1h-21.9zM376.6 779h21.9v1h-21.9zM420.5 780h21.9v1h-21.9zM376.6 781h43.9v1h-43.9zM354.7 784h21.9v1h-21.9zM354.7 786h21.9v1h-21.9zM354.7 788h21.9v1h-21.9zM354.7 789h21.9v1h-21.9zM420.5 789h43.9v1h-43.9zM354.7 790h21.9v1h-21.9zM354.7 791h21.9v1h-21.9zM354.7 792h21.9v1h-21.9zM332.8 794h21.9v1h-21.9zM442.4 795h21.9v1h-21.9zM376.6 800h21.9v1h-21.9zM376.6 802h21.9v1h-21.9zM376.6 804h21.9v1h-21.9zM201.2 814h43.9v1h-43.9zM267.0 814h21.9v1h-21.9zM288.9 819h21.9v1h-21.9zM267.0 822h21.9v1h-21.9zM288.9 824h21.9v1h-21.9zM267.0 825h43.9v1h-43.9zM267.0 826h21.9v1h-21.9zM267.0 827h43.9v1h-43.9zM267.0 829h43.9v1h-43.9zM267.0 830h43.9v1h-43.9zM464.4 831h21.9v1h-21.9zM179.3 836h21.9v1h-21.9zM179.3 837h21.9v1h-21.9zM135.4 840h21.9v1h-21.9zM135.4 841h21.9v1h-21.9zM135.4 842h21.9v1h-21.9zM157.3 844h21.9v1h-21.9zM135.4 845h43.9v1h-43.9zM135.4 847h43.9v1h-43.9zM179.3 848h21.9v1h-21.9zM135.4 849h21.9v1h-21.9zM135.4 850h21.9v1h-21.9zM135.4 851h21.9v1h-21.9zM135.4 852h21.9v1h-21.9zM135.4 853h21.9v1h-21.9zM157.3 856h21.9v1h-21.9zM179.3 860h21.9v1h-21.9zM179.3 861h21.9v1h-21.9zM135.4 866h21.9v1h-21.9zM135.4 867h21.9v1h-21.9zM179.3 872h21.9v1h-21.9zM135.4 873h21.9v1h-21.9zM135.4 876h43.9v1h-43.9zM135.4 877h43.9v1h-43.9zM179.3 879h21.9v1h-21.9zM179.3 880h21.9v1h-21.9zM135.4 881h43.9v1h-43.9zM135.4 882h21.9v1h-21.9zM179.3 883h21.9v1h-21.9zM135.4 886h21.9v1h-21.9zM157.3 887h21.9v1h-21.9zM135.4 888h43.9v1h-43.9zM135.4 889h65.8v1h-65.8zM179.3 891h21.9v1h-21.9zM179.3 893h21.9v1h-21.9zM157.3 894h21.9v1h-21.9zM135.4 900h21.9v1h-21.9zM135.4 901h65.8v1h-65.8zM135.4 902h43.9v1h-43.9zM135.4 903h43.9v1h-43.9zM135.4 909h43.9v1h-43.9zM135.4 910h65.8v1h-65.8zM135.4 911h65.8v1h-65.8zM135.4 912h43.9v1h-43.9zM135.4 913h21.9v1h-21.9zM135.4 915h43.9v1h-43.9zM179.3 917h21.9v1h-21.9zM135.4 918h65.8v1h-65.8zM135.4 919h65.8v1h-65.8zM179.3 920h21.9v1h-21.9zM135.4 921h65.8v1h-65.8zM157.3 922h43.9v1h-43.9zM135.4 927h65.8v1h-65.8zM135.4 928h65.8v1h-65.8zM179.3 929h21.9v1h-21.9zM157.3 935h21.9v1h-21.9zM179.3 936h21.9v1h-21.9zM332.8 961h21.9v1h-21.9z"/>
<path fill="#e9a698" d="M464.4 716h21.9v1h-21.9zM332.8 741h21.9v1h-21.9zM332.8 742h21.9v1h-21.9zM398.6 768h65.8v1h-65.8zM442.4 769h21.9v1h-21.9zM398.6 770h65.8v1h-65.8zM420.5 775h21.9v1h-21.9zM420.5 776h43.9v1h-43.9zM376.6 780h43.9v1h-43.9zM442.4 780h21.9v1h-21.9zM332.8 795h21.9v1h-21.9zM223.1 812h43.9v1h-43.9zM245.1 814h21.9v1h-21.9zM201.2 816h65.8v1h-65.8zM201.2 817h65.8v1h-65.8zM267.0 818h21.9v1h-21.9zM267.0 819h21.9v1h-21.9zM267.0 828h43.9v1h-43.9zM157.3 839h43.9v1h-43.9zM157.3 840h21.9v1h-21.9zM157.3 841h21.9v1h-21.9zM157.3 842h43.9v1h-43.9zM179.3 844h21.9v1h-21.9zM135.4 846h43.9v1h-43.9zM157.3 849h43.9v1h-43.9zM157.3 851h21.9v1h-21.9zM157.3 852h21.9v1h-21.9zM135.4 854h21.9v1h-21.9zM179.3 856h21.9v1h-21.9zM157.3 859h43.9v1h-43.9zM135.4 862h21.9v1h-21.9zM135.4 863h21.9v1h-21.9zM135.4 865h21.9v1h-21.9zM157.3 867h43.9v1h-43.9zM157.3 873h43.9v1h-43.9zM135.4 874h21.9v1h-21.9zM135.4 875h43.9v1h-43.9zM179.3 876h21.9v1h-21.9zM179.3 877h21.9v1h-21.9zM179.3 881h21.9v1h-21.9zM157.3 882h43.9v1h-43.9zM157.3 886h43.9v1h-43.9zM179.3 887h21.9v1h-21.9zM179.3 888h21.9v1h-21.9zM157.3 900h43.9v1h-43.9zM179.3 902h21.9v1h-21.9zM179.3 903h21.9v1h-21.9zM179.3 909h21.9v1h-21.9zM179.3 912h21.9v1h-21.9zM157.3 913h43.9v1h-43.9zM135.4 914h43.9v1h-43.9zM179.3 915h21.9v1h-21.9zM223.1 930h21.9v1h-21.9zM508.2 978h21.9v1h-21.9z"/>
<path fill="#e59890" d="M508.2 707h21.9v1h-21.9zM508.2 709h21.9v1h-21.9zM464.4 713h21.9v1h-21.9zM332.8 735h21.9v1h-21.9zM332.8 749h21.9v1h-21.9zM332.8 750h21.9v1h-21.9zM201.2 757h21.9v1h-21.9zM245.1 758h21.9v1h-21.9zM332.8 791h21.9v1h-21.9zM332.8 793h21.9v1h-21.9zM201.2 812h21.9v1h-21.9zM179.3 840h21.9v1h-21.9zM179.3 841h21.9v1h-21.9zM179.3 845h21.9v1h-21.9zM179.3 847h21.9v1h-21.9zM157.3 850h43.9v1h-43.9zM179.3 851h21.9v1h-21.9zM179.3 852h21.9v1h-21.9zM135.4 855h43.9v1h-43.9zM157.3 862h21.9v1h-21.9zM135.4 864h21.9v1h-21.9zM157.3 866h43.9v1h-43.9zM157.3 874h21.9v1h-21.9zM179.3 875h21.9v1h-21.9zM179.3 914h21.9v1h-21.9zM223.1 931h21.9v1h-21.9zM201.2 934h43.9v1h-43.9zM179.3 977h21.9v1h-21.9z"/>
<path fill="#e28b88" d="M464.4 714h21.9v1h-21.9zM201.2 756h21.9v1h-21.9zM245.1 759h21.9v1h-21.9zM332.8 783h21.9v1h-21.9zM332.8 785h21.9v1h-21.9zM332.8 786h21.9v1h-21.9zM332.8 790h21.9v1h-21.9zM332.8 792h21.9v1h-21.9zM201.2 813h65.8v1h-65.8zM179.3 846h21.9v1h-21.9zM157.3 853h43.9v1h-43.9zM157.3 854h43.9v1h-43.9zM179.3 855h21.9v1h-21.9zM179.3 862h21.9v1h-21.9zM157.3 863h43.9v1h-43.9zM157.3 864h21.9v1h-21.9zM157.3 865h21.9v1h-21.9zM179.3 874h21.9v1h-21.9zM245.1 930h21.9v1h-21.9zM223.1 932h21.9v1h-21.9zM223.1 933h21.9v1h-21.9zM201.2 935h21.9v1h-21.9z"/>
<path fill="#de7e80" d="M332.8 787h21.9v1h-21.9zM332.8 788h21.9v1h-21.9zM332.8 789h21.9v1h-21.9zM179.3 864h21.9v1h-21.9zM179.3 865h21.9v1h-21.9zM245.1 931h21.9v1h-21.9zM245.1 932h21.9v1h-21.9z"/>
<path fill="#d97378" d="M508.2 708h21.9v1h-21.9zM464.4 715h21.9v1h-21.9zM332.8 784h21.9v1h-21.9zM245.1 933h21.9v1h-21.9zM245.1 934h21.9v1h-21.9z"/>
</g>
<rect x="135.40" y="693" width="65.99" height="5.8" fill="#E64B35"/>
<rect x="201.19" y="693" width="65.99" height="5.8" fill="#4DBBD5"/>
<rect x="266.98" y="693" width="65.99" height="5.8" fill="#00A087"/>
<rect x="332.77" y="693" width="65.99" height="5.8" fill="#3C5488"/>
<rect x="398.56" y="693" width="65.99" height="5.8" fill="#F39B7F"/>
<rect x="464.35" y="693" width="65.99" height="5.8" fill="#8491B4"/>
<text x="536.3" y="697" font-size="6.4" fill="#111">Group</text>
<path d="M168.30 693.00V688.30H190.23V693.00M146.37 693.00V683.30H179.26V688.30M212.16 693.00V688.80H234.09V693.00M223.12 688.80V684.30H256.01V693.00M299.88 693.00V689.50H321.81V693.00M277.94 693.00V686.30H310.84V689.50M239.57 684.30V681.30H294.39V686.30M162.81 683.30V673.60H266.98V681.30M365.66 693.00V686.30H387.60V693.00M409.52 693.00V688.80H431.46V693.00M420.49 688.80V684.50H453.38V693.00M376.63 686.30V682.50H436.94V684.50M343.74 693.00V678.00H406.78V682.50M475.32 693.00V686.30H497.25V693.00M486.28 686.30V679.50H519.17V693.00M375.26 678.00V670.00H502.73V679.50M214.90 673.60V665.30H438.99V670.00" fill="none" stroke="#444" stroke-width="0.8"/>
<rect x="130.8" y="704.2" width="4.4" height="277.5" fill="#2b2b2b"/>
<path d="M135.2 704.3H130.7V704.6H135.2M130.7 704.4H130.6V704.8H135.2M130.6 704.6H127.5V704.9H135.2M127.5 704.7H122.3V705.1H135.2M135.2 705.5H130.7V705.8H135.2M130.7 705.7H128.2V706.1H135.2M135.2 705.3H126.7V705.9H128.2M126.7 705.6H124.9V706.4H135.2M135.2 706.7H125.0V706.9H135.2M124.9 706.0H123.5V706.8H125.0M135.2 707.1H123.6V707.3H135.2M135.2 707.7H129.2V708.0H135.2M135.2 708.2H130.7V708.4H135.2M130.7 708.3H130.0V708.5H135.2M135.2 708.7H130.7V709.0H135.2M135.2 708.6H130.7V708.8H130.7M135.2 709.1H130.7V709.3H135.2M130.7 708.7H130.7V709.2H130.7M130.7 709.0H129.9V709.5H135.2M135.2 709.7H130.7V710.1H135.2M135.2 710.3H130.7V710.5H135.2M130.7 709.9H130.4V710.4H130.7M129.9 709.2H129.1V710.1H130.4M135.2 710.9H125.1V711.1H135.2M125.1 711.0H122.5V711.3H135.2M135.2 711.6H126.0V711.8H135.2M122.5 711.2H120.5V711.7H126.0M135.2 712.0H129.8V712.3H135.2M129.8 712.1H125.0V712.5H135.2M120.5 711.4H118.9V712.3H125.0M135.2 713.3H130.7V713.5H135.2M130.7 713.4H130.7V713.7H135.2M130.7 713.6H130.7V713.8H135.2M130.7 713.7H130.0V713.9H135.2M135.2 713.0H126.0V713.8H130.0M135.2 712.8H124.4V713.4H126.0M135.2 714.1H130.7V714.4H135.2M130.7 714.2H130.7V714.6H135.2M130.7 714.4H129.5V714.8H135.2M124.4 713.1H122.9V714.6H129.5M135.2 715.0H119.3V715.3H135.2M135.2 715.6H123.0V715.8H135.2M135.2 715.5H119.3V715.7H123.0M119.3 715.2H118.1V715.6H119.3M135.2 716.0H128.0V716.2H135.2M135.2 716.5H126.5V716.8H135.2M135.2 717.1H130.7V717.3H135.2M130.7 717.2H129.8V717.5H135.2M126.5 716.6H124.7V717.3H129.8M124.7 717.0H122.5V717.7H135.2M128.0 716.1H119.5V717.4H122.5M119.5 716.7H116.4V718.1H135.2M135.2 718.4H125.8V718.7H135.2M135.2 718.8H128.6V719.0H135.2M125.8 718.5H124.9V718.9H128.6M135.2 719.4H128.9V719.7H135.2M128.9 719.6H123.0V720.1H135.2M124.9 718.7H121.2V719.8H123.0M135.2 720.4H130.7V720.6H135.2M130.7 720.5H130.0V720.8H135.2M135.2 721.1H129.1V721.3H135.2M130.0 720.7H124.4V721.2H129.1M135.2 721.5H130.7V721.7H135.2M135.2 722.2H130.7V722.5H135.2M135.2 722.0H130.7V722.3H130.7M130.7 721.6H130.0V722.1H130.7M135.2 722.8H130.7V723.1H135.2M135.2 723.3H130.7V723.5H135.2M130.7 722.9H130.7V723.4H130.7M130.0 721.9H129.6V723.2H130.7M129.6 722.5H126.5V723.6H135.2M135.2 723.9H125.5V724.1H135.2M135.2 724.4H130.7V724.7H135.2M130.7 724.5H130.7V724.9H135.2M135.2 724.2H130.5V724.7H130.7M130.5 724.5H129.0V725.1H135.2M135.2 725.3H128.8V725.5H135.2M128.8 725.4H128.1V725.8H135.2M129.0 724.8H125.9V725.6H128.1M135.2 725.9H130.7V726.1H135.2M130.7 726.0H130.2V726.5H135.2M130.2 726.2H129.8V726.7H135.2M129.8 726.5H127.2V726.8H135.2M127.2 726.7H124.6V726.9H135.2M135.2 727.3H130.7V727.5H135.2M135.2 727.1H130.7V727.4H130.7M130.7 727.3H130.7V727.7H135.2M130.7 727.5H130.5V727.7H135.2M135.2 728.0H130.7V728.2H135.2M135.2 727.8H130.3V728.1H130.7M130.5 727.6H126.3V728.0H130.3M135.2 728.7H130.7V729.0H135.2M135.2 728.5H130.7V728.9H130.7M130.7 728.7H125.8V729.2H135.2M125.8 728.9H120.7V729.3H135.2M135.2 728.4H119.4V729.1H120.7M135.2 729.6H123.2V729.8H135.2M135.2 730.5H130.7V730.7H135.2M135.2 730.2H130.7V730.6H130.7M130.7 730.4H130.7V730.8H135.2M135.2 730.9H130.7V731.2H135.2M130.7 731.0H130.7V731.3H135.2M130.7 731.2H130.7V731.5H135.2M135.2 731.7H130.7V731.9H135.2M130.7 731.3H130.7V731.8H130.7M130.7 730.6H130.6V731.6H130.7M130.6 731.1H128.2V732.1H135.2M135.2 730.0H125.6V731.6H128.2M135.2 732.7H127.5V732.9H135.2M135.2 733.1H129.5V733.4H135.2M127.5 732.8H122.6V733.3H129.5M135.2 732.4H117.3V733.0H122.6M135.2 733.8H130.7V734.0H135.2M135.2 733.7H130.5V733.9H130.7M130.5 733.8H129.5V734.1H135.2M135.2 734.5H130.7V734.8H135.2M135.2 734.3H129.2V734.7H130.7M129.5 734.0H125.0V734.5H129.2M125.0 734.2H122.8V735.0H135.2M135.2 735.4H130.7V735.6H135.2M130.7 735.5H130.2V735.8H135.2M135.2 735.2H126.1V735.6H130.2M135.2 736.0H130.7V736.3H135.2M135.2 735.8H130.7V736.2H130.7M135.2 736.5H130.7V736.7H135.2M130.7 736.0H128.2V736.6H130.7M135.2 736.9H129.5V737.1H135.2M129.5 737.0H128.2V737.4H135.2M128.2 736.3H125.9V737.2H128.2M135.2 737.9H129.7V738.1H135.2M135.2 737.7H126.7V738.0H129.7M135.2 738.6H130.7V738.8H135.2M135.2 739.0H130.6V739.4H135.2M130.7 738.7H128.9V739.2H130.6M135.2 739.7H130.7V739.9H135.2M135.2 739.6H128.1V739.8H130.7M128.9 739.0H125.9V739.7H128.1M135.2 740.2H127.7V740.5H135.2M125.9 739.3H122.4V740.3H127.7M135.2 738.4H120.5V739.8H122.4M135.2 740.8H121.8V741.1H135.2M135.2 741.2H130.7V741.4H135.2M130.7 741.3H126.9V741.6H135.2M121.8 740.9H120.6V741.5H126.9M135.2 742.0H130.7V742.2H135.2M135.2 742.4H130.7V742.7H135.2M130.7 742.1H130.4V742.6H130.7M135.2 741.7H128.0V742.3H130.4M128.0 742.0H126.8V743.0H135.2M135.2 743.2H129.9V743.5H135.2M135.2 744.0H130.7V744.2H135.2M130.7 744.1H130.7V744.4H135.2M130.7 744.2H130.7V744.5H135.2M130.7 744.4H130.7V744.6H135.2M135.2 745.0H130.7V745.3H135.2M130.7 745.2H130.7V745.5H135.2M135.2 744.8H130.7V745.3H130.7M130.7 745.0H130.7V745.7H135.2M130.7 744.5H130.7V745.4H130.7M135.2 743.7H129.3V744.9H130.7M135.2 745.9H125.9V746.2H135.2M135.2 746.5H127.1V746.8H135.2M125.9 746.1H125.4V746.6H127.1M135.2 747.3H130.7V747.6H135.2M135.2 747.0H130.2V747.4H130.7M130.2 747.2H127.4V747.7H135.2M127.4 747.5H125.2V747.9H135.2M125.4 746.3H124.2V747.7H125.2M135.2 748.3H130.7V748.5H135.2M130.7 748.4H130.4V748.7H135.2M130.4 748.6H128.7V748.8H135.2M135.2 748.1H126.8V748.7H128.7M135.2 749.0H130.7V749.3H135.2M135.2 748.9H130.7V749.2H130.7M130.7 749.0H129.6V749.5H135.2M129.6 749.2H126.6V749.6H135.2M135.2 749.9H129.0V750.2H135.2M135.2 749.7H125.5V750.0H129.0M126.6 749.4H123.7V749.8H125.5M126.8 748.4H123.3V749.6H123.7M135.2 750.9H130.7V751.1H135.2M135.2 750.5H130.7V751.0H130.7M130.7 750.8H128.3V751.3H135.2M135.2 751.8H130.7V752.1H135.2M135.2 752.3H130.7V752.6H135.2M130.7 751.9H130.7V752.5H130.7M135.2 751.5H129.9V752.2H130.7M135.2 753.0H130.7V753.3H135.2M130.7 753.1H130.7V753.5H135.2M129.9 751.9H127.4V753.3H130.7M135.2 753.7H128.7V753.9H135.2M135.2 754.6H130.7V754.8H135.2M135.2 754.3H130.7V754.7H130.7M135.2 754.1H130.7V754.5H130.7M135.2 754.0H130.7V754.3H130.7M130.7 754.2H128.4V755.0H135.2M135.2 755.3H130.1V755.5H135.2M130.1 755.4H129.7V755.8H135.2M129.7 755.6H129.1V756.0H135.2M135.2 756.1H130.7V756.4H135.2M129.1 755.8H128.1V756.3H130.7M135.2 757.2H130.7V757.4H135.2M135.2 757.0H130.1V757.3H130.7M135.2 756.8H129.7V757.1H130.1M129.7 757.0H123.4V757.6H135.2M135.2 757.8H125.9V758.0H135.2M123.4 757.3H122.0V757.9H125.9M135.2 758.8H127.4V759.1H135.2M135.2 758.5H126.7V759.0H127.4M135.2 758.3H125.3V758.8H126.7M135.2 759.3H128.0V759.6H135.2M128.0 759.4H125.6V759.9H135.2M135.2 760.5H130.7V760.8H135.2M135.2 760.2H129.6V760.6H130.7M129.6 760.4H126.9V761.0H135.2M125.6 759.7H123.5V760.7H126.9M135.2 761.9H127.2V762.1H135.2M135.2 761.5H125.0V762.0H127.2M135.2 762.4H129.5V762.7H135.2M125.0 761.8H122.6V762.5H129.5M122.6 762.2H122.1V762.9H135.2M135.2 763.2H125.2V763.5H135.2M125.2 763.3H123.7V763.8H135.2M135.2 764.1H130.7V764.3H135.2M135.2 764.0H130.7V764.2H130.7M135.2 764.7H130.7V764.9H135.2M135.2 764.5H130.7V764.8H130.7M135.2 764.4H130.7V764.7H130.7M130.7 764.1H129.4V764.5H130.7M135.2 765.1H126.4V765.4H135.2M129.4 764.3H125.0V765.2H126.4M123.7 763.5H118.7V764.8H125.0M135.2 766.1H130.7V766.4H135.2M135.2 765.9H130.7V766.2H130.7M130.7 766.0H130.7V766.6H135.2M130.7 766.3H128.1V766.7H135.2M135.2 765.6H120.5V766.5H128.1M135.2 766.8H125.5V767.1H135.2M125.5 767.0H123.0V767.4H135.2M120.5 766.1H119.2V767.2H123.0M135.2 767.7H121.6V768.0H135.2M135.2 768.3H130.5V768.5H135.2M130.5 768.4H127.8V768.7H135.2M135.2 768.2H121.6V768.6H127.8M121.6 767.9H117.7V768.4H121.6M135.2 769.0H127.5V769.2H135.2M135.2 769.9H130.7V770.1H135.2M130.7 770.0H130.7V770.2H135.2M135.2 769.5H130.7V770.1H130.7M135.2 770.4H129.2V770.8H135.2M130.7 769.8H127.8V770.6H129.2M135.2 771.2H130.1V771.4H135.2M127.8 770.2H126.1V771.3H130.1M126.1 770.8H125.2V771.6H135.2M135.2 772.0H130.7V772.2H135.2M130.7 772.1H130.7V772.3H135.2M130.7 772.2H128.9V772.4H135.2M135.2 772.6H127.1V773.0H135.2M135.2 773.3H129.3V773.6H135.2M135.2 774.4H130.7V774.6H135.2M135.2 774.1H130.7V774.5H130.7M130.7 774.3H130.7V774.8H135.2M135.2 773.9H129.6V774.6H130.7M135.2 775.0H130.7V775.3H135.2M135.2 775.5H130.7V775.7H135.2M130.7 775.1H130.7V775.6H130.7M135.2 776.0H130.7V776.2H135.2M135.2 775.9H129.8V776.1H130.7M130.7 775.4H128.6V776.0H129.8M135.2 776.4H130.7V776.8H135.2M128.6 775.7H128.3V776.6H130.7M135.2 777.1H130.5V777.3H135.2M135.2 777.9H130.7V778.2H135.2M135.2 777.8H130.7V778.0H130.7M135.2 777.7H128.1V777.9H130.7M135.2 778.4H130.7V778.6H135.2M130.7 778.5H130.7V778.9H135.2M135.2 778.3H130.7V778.7H130.7M130.7 778.5H130.3V779.0H135.2M128.1 777.8H124.7V778.8H130.3M135.2 779.5H130.7V779.7H135.2M135.2 779.2H129.0V779.6H130.7M129.0 779.4H128.1V779.9H135.2M135.2 780.1H130.7V780.3H135.2M130.7 780.2H130.7V780.7H135.2M135.2 781.0H130.7V781.3H135.2M135.2 780.9H130.7V781.2H130.7M130.7 780.5H130.1V781.0H130.7M130.1 780.7H129.8V781.5H135.2M129.8 781.1H128.8V781.8H135.2M135.2 780.1H125.0V781.5H128.8M135.2 782.1H130.7V782.3H135.2M135.2 782.6H130.7V782.8H135.2M130.7 782.2H130.6V782.7H130.7M135.2 781.9H126.3V782.4H130.6M135.2 783.0H119.8V783.3H135.2M135.2 783.6H127.3V783.9H135.2M135.2 784.2H130.1V784.5H135.2M130.1 784.3H128.9V784.7H135.2M127.3 783.8H125.2V784.5H128.9M135.2 785.4H128.3V785.6H135.2M135.2 785.2H127.7V785.5H128.3M127.7 785.4H124.1V786.0H135.2M135.2 785.0H122.7V785.7H124.1M135.2 786.5H128.7V786.7H135.2M135.2 786.3H126.7V786.6H128.7M135.2 786.2H125.0V786.4H126.7M125.0 786.3H123.2V787.0H135.2M135.2 787.3H126.9V787.5H135.2M135.2 787.7H130.7V787.9H135.2M130.7 787.8H130.7V788.1H135.2M135.2 787.6H129.6V787.9H130.7M126.9 787.4H123.4V787.8H129.6M135.2 788.5H130.7V788.7H135.2M135.2 788.3H130.7V788.6H130.7M135.2 788.2H128.3V788.5H130.7M123.4 787.6H120.7V788.3H128.3M135.2 789.0H127.5V789.4H135.2M127.5 789.2H120.5V789.8H135.2M135.2 790.0H125.5V790.2H135.2M135.2 790.6H128.6V790.9H135.2M125.5 790.1H123.7V790.7H128.6M135.2 791.1H130.7V791.3H135.2M130.7 791.2H129.0V791.5H135.2M129.0 791.4H127.3V791.6H135.2M135.2 791.7H128.2V792.1H135.2M127.3 791.5H120.2V791.9H128.2M123.7 790.4H119.4V791.7H120.2M135.2 792.3H128.1V792.6H135.2M128.1 792.5H125.0V792.9H135.2M135.2 793.6H130.7V793.9H135.2M130.7 793.7H130.7V794.1H135.2M135.2 793.3H130.7V793.9H130.7M130.7 793.6H130.7V794.2H135.2M130.7 793.9H130.7V794.3H135.2M135.2 794.5H130.7V794.8H135.2M130.7 794.6H130.7V795.0H135.2M130.7 794.1H129.8V794.8H130.7M135.2 793.1H128.7V794.5H129.8M135.2 795.6H130.7V795.8H135.2M130.7 795.7H130.7V796.0H135.2M130.7 795.9H130.1V796.1H135.2M135.2 795.3H125.6V796.0H130.1M135.2 796.5H126.2V796.7H135.2M135.2 797.8H130.7V798.0H135.2M135.2 797.5H130.7V797.9H130.7M135.2 797.2H130.7V797.7H130.7M135.2 797.0H129.4V797.5H130.7M135.2 798.2H129.9V798.5H135.2M129.9 798.3H127.7V798.8H135.2M129.4 797.2H126.5V798.6H127.7M135.2 799.0H129.2V799.3H135.2M135.2 799.5H129.1V799.8H135.2M129.2 799.1H123.4V799.7H129.1M135.2 800.0H127.8V800.2H135.2M135.2 800.5H130.6V800.7H135.2M130.6 800.6H129.1V800.9H135.2M127.8 800.1H126.1V800.8H129.1M135.2 799.9H124.2V800.4H126.1M135.2 801.6H130.7V801.8H135.2M135.2 801.4H130.7V801.7H130.7M135.2 801.3H130.7V801.5H130.7M135.2 801.1H130.0V801.4H130.7M135.2 802.0H129.3V802.2H135.2M135.2 802.5H129.4V802.8H135.2M129.3 802.1H127.6V802.6H129.4M130.0 801.3H124.0V802.4H127.6M135.2 803.4H129.7V803.8H135.2M135.2 804.0H127.8V804.3H135.2M129.7 803.6H125.4V804.1H127.8M135.2 804.8H129.2V805.1H135.2M135.2 804.5H127.0V805.0H129.2M127.0 804.8H124.0V805.3H135.2M125.4 803.9H121.4V805.1H124.0M135.2 803.1H120.5V804.5H121.4M135.2 805.8H125.9V806.1H135.2M135.2 805.5H124.8V805.9H125.9M135.2 806.2H130.2V806.4H135.2M135.2 806.8H130.7V807.0H135.2M130.7 806.9H130.7V807.2H135.2M130.7 807.0H128.6V807.3H135.2M135.2 806.7H127.8V807.2H128.6M130.2 806.3H126.1V806.9H127.8M126.1 806.6H122.1V807.6H135.2M135.2 808.0H127.9V808.3H135.2M135.2 808.5H130.7V808.8H135.2M130.7 808.6H130.7V809.0H135.2M130.7 808.8H129.6V809.2H135.2M127.9 808.1H126.4V809.0H129.6M135.2 809.7H130.4V809.9H135.2M135.2 809.4H128.4V809.8H130.4M135.2 810.3H130.7V810.5H135.2M135.2 810.1H130.7V810.4H130.7M130.7 810.3H130.5V810.7H135.2M130.5 810.5H129.8V810.7H135.2M128.4 809.6H127.8V810.6H129.8M135.2 811.0H130.7V811.2H135.2M135.2 810.8H130.7V811.1H130.7M130.7 810.9H130.5V811.3H135.2M135.2 811.8H130.7V812.0H135.2M130.7 811.9H130.7V812.2H135.2M135.2 811.5H130.7V812.0H130.7M130.5 811.1H128.2V811.8H130.7M135.2 812.6H130.7V812.8H135.2M135.2 812.5H130.7V812.7H130.7M135.2 812.3H128.9V812.6H130.7M135.2 813.1H126.5V813.4H135.2M135.2 813.7H125.1V814.0H135.2M135.2 814.4H129.4V814.7H135.2M135.2 814.9H130.6V815.2H135.2M129.4 814.6H129.1V815.1H130.6M135.2 814.2H126.4V814.8H129.1M135.2 815.8H130.7V816.0H135.2M135.2 815.5H130.7V815.9H130.7M130.7 815.7H129.2V816.2H135.2M135.2 816.5H130.2V816.8H135.2M129.2 815.9H127.8V816.7H130.2M135.2 817.1H128.4V817.4H135.2M135.2 817.6H129.1V818.0H135.2M128.4 817.2H125.2V817.8H129.1M135.2 818.4H129.0V818.6H135.2M135.2 818.2H125.6V818.5H129.0M135.2 819.0H126.9V819.3H135.2M125.6 818.4H124.3V819.2H126.9M135.2 819.9H130.7V820.2H135.2M135.2 819.7H130.7V820.1H130.7M135.2 820.4H130.3V820.7H135.2M130.3 820.6H129.6V820.9H135.2M130.7 819.9H128.2V820.7H129.6M135.2 821.4H130.7V821.6H135.2M135.2 821.1H130.7V821.5H130.7M130.7 821.3H130.7V821.9H135.2M130.7 821.6H129.9V822.1H135.2M129.9 821.8H127.3V822.2H135.2M135.2 822.7H130.7V823.1H135.2M135.2 822.4H129.3V822.9H130.7M135.2 823.6H130.7V823.8H135.2M135.2 823.4H130.7V823.7H130.7M130.7 823.6H129.1V824.1H135.2M129.3 822.7H125.9V823.9H129.1M125.9 823.3H124.6V824.3H135.2M124.6 823.8H123.7V824.5H135.2M123.7 824.1H123.2V824.7H135.2M135.2 825.3H127.6V825.5H135.2M135.2 825.0H126.9V825.4H127.6M135.2 825.8H126.1V826.1H135.2M126.9 825.2H124.2V825.9H126.1M135.2 824.8H122.9V825.6H124.2M135.2 826.3H124.4V826.5H135.2M124.4 826.4H121.9V826.8H135.2M135.2 827.2H130.6V827.5H135.2M135.2 827.1H129.1V827.3H130.6M135.2 827.0H122.0V827.2H129.1M121.9 826.6H120.4V827.1H122.0M135.2 828.1H129.5V828.5H135.2M135.2 827.8H128.6V828.3H129.5M135.2 828.8H129.5V829.0H135.2M128.6 828.1H126.6V828.9H129.5M135.2 827.7H124.6V828.5H126.6M135.2 829.6H130.7V829.8H135.2M130.7 829.7H129.7V829.9H135.2M135.2 829.3H126.9V829.8H129.7M135.2 830.4H130.7V830.7H135.2M130.7 830.6H130.7V831.0H135.2M130.7 830.8H130.5V831.3H135.2M135.2 830.2H128.3V831.1H130.5M135.2 830.1H126.7V830.6H128.3M126.9 829.6H123.7V830.4H126.7M135.2 831.7H126.4V832.0H135.2M135.2 832.2H127.8V832.5H135.2M126.4 831.8H125.8V832.3H127.8M135.2 832.7H127.0V833.0H135.2M135.2 833.2H125.5V833.5H135.2M127.0 832.8H123.1V833.4H125.5M135.2 833.9H130.1V834.1H135.2M135.2 833.7H126.8V834.0H130.1M126.8 833.8H126.2V834.3H135.2M126.2 834.1H124.4V834.5H135.2M135.2 834.7H126.1V834.9H135.2M135.2 835.2H130.7V835.4H135.2M135.2 835.6H129.2V835.9H135.2M130.7 835.3H126.4V835.7H129.2M126.1 834.8H122.9V835.5H126.4M124.4 834.3H119.6V835.1H122.9M135.2 836.1H129.4V836.3H135.2M135.2 836.0H125.0V836.2H129.4M135.2 836.6H131.7V836.8H135.2M131.7 836.7H131.7V837.0H135.2M135.2 837.4H131.7V837.6H135.2M135.2 837.7H131.7V837.9H135.2M135.2 837.6H131.7V837.8H131.7M131.7 837.7H131.7V838.1H135.2M131.7 837.9H131.7V838.2H135.2M131.7 837.5H131.7V838.1H131.7M131.7 836.9H129.1V837.8H131.7M135.2 838.9H131.7V839.1H135.2M135.2 838.8H131.7V839.0H131.7M135.2 838.7H131.7V838.9H131.7M135.2 838.6H131.7V838.8H131.7M131.7 838.7H131.7V839.3H135.2M135.2 838.5H131.7V839.0H131.7M135.2 838.3H130.0V838.8H131.7M135.2 839.6H131.7V839.8H135.2M135.2 840.1H131.7V840.4H135.2M131.7 840.2H131.7V840.6H135.2M131.7 839.7H131.7V840.4H131.7M131.7 840.1H131.7V840.7H135.2M131.7 840.4H130.0V840.9H135.2M135.2 839.5H124.9V840.7H130.0M135.2 841.6H130.0V841.8H135.2M130.0 841.7H126.8V841.9H135.2M135.2 842.0H131.7V842.2H135.2M131.7 842.1H131.2V842.3H135.2M131.2 842.2H130.2V842.5H135.2M126.8 841.8H123.9V842.4H130.2M135.2 843.2H131.7V843.4H135.2M131.7 843.3H131.7V843.5H135.2M131.7 843.4H130.4V843.6H135.2M135.2 843.8H131.7V844.0H135.2M135.2 843.7H131.7V843.9H131.7M130.4 843.5H129.2V843.8H131.7M135.2 842.9H127.9V843.6H129.2M127.9 843.2H126.8V844.2H135.2M135.2 844.5H131.7V844.8H135.2M131.7 844.6H129.1V845.1H135.2M135.2 845.4H129.4V845.6H135.2M129.1 844.9H122.0V845.5H129.4M135.2 846.0H131.7V846.2H135.2M131.7 846.1H131.7V846.4H135.2M135.2 845.8H131.7V846.2H131.7M131.7 846.0H131.3V846.5H135.2M131.3 846.3H129.6V846.7H135.2M129.6 846.5H124.6V846.8H135.2M122.0 845.2H119.0V846.6H124.6M135.2 847.3H131.7V847.6H135.2M135.2 847.0H131.7V847.5H131.7M135.2 847.8H131.7V848.1H135.2M131.7 847.2H129.6V847.9H131.7M135.2 848.8H131.7V849.0H135.2M135.2 848.5H131.7V848.9H131.7M135.2 848.3H131.7V848.7H131.7M135.2 849.2H131.7V849.5H135.2M131.7 848.5H128.2V849.3H131.7M135.2 849.9H131.7V850.1H135.2M131.7 850.0H131.7V850.4H135.2M135.2 849.8H131.7V850.2H131.7M131.7 850.0H130.7V850.7H135.2M135.2 849.7H129.1V850.4H130.7M135.2 851.1H131.3V851.4H135.2M135.2 850.9H128.7V851.3H131.3M135.2 851.6H130.2V852.0H135.2M128.7 851.1H126.5V851.8H130.2M129.1 850.0H123.2V851.4H126.5M135.2 852.6H130.7V852.9H135.2M135.2 852.3H124.0V852.7H130.7M135.2 853.2H129.0V853.4H135.2M135.2 853.0H125.7V853.3H129.0M124.0 852.5H120.1V853.2H125.7M135.2 854.0H131.7V854.2H135.2M135.2 853.8H131.7V854.1H131.7M131.7 853.9H130.9V854.3H135.2M135.2 853.7H126.1V854.1H130.9M135.2 854.4H131.7V854.6H135.2M131.7 854.5H128.5V854.9H135.2M135.2 855.2H131.7V855.4H135.2M131.7 855.3H131.7V855.7H135.2M128.5 854.7H126.0V855.5H131.7M135.2 856.2H131.7V856.5H135.2M131.7 856.3H130.8V856.6H135.2M130.8 856.5H129.6V857.0H135.2M129.6 856.7H126.2V857.2H135.2M135.2 856.0H120.4V856.9H126.2M135.2 857.9H131.6V858.1H135.2M135.2 858.6H131.7V858.9H135.2M135.2 858.3H131.6V858.8H131.7M131.6 858.0H129.7V858.6H131.6M135.2 859.4H131.2V859.7H135.2M135.2 859.2H129.4V859.5H131.2M135.2 860.0H129.8V860.3H135.2M129.4 859.4H126.5V860.1H129.8M135.2 860.5H131.7V860.7H135.2M135.2 861.0H131.7V861.3H135.2M131.7 860.6H131.7V861.1H131.7M135.2 860.4H129.6V860.9H131.7M135.2 861.5H131.7V861.7H135.2M131.7 861.6H131.7V861.9H135.2M131.7 861.8H131.7V862.1H135.2M131.7 861.9H131.3V862.3H135.2M129.6 860.6H127.3V862.1H131.3M135.2 863.4H131.7V863.6H135.2M131.7 863.5H131.7V863.7H135.2M135.2 863.1H131.7V863.6H131.7M135.2 862.8H130.0V863.3H131.7M135.2 862.6H124.6V863.0H130.0M135.2 863.9H120.2V864.3H135.2M135.2 864.9H131.7V865.1H135.2M135.2 864.8H131.1V865.0H131.7M135.2 864.6H129.6V864.9H131.1M135.2 865.5H127.0V865.7H135.2M129.6 864.7H121.9V865.6H127.0M120.2 864.1H117.4V865.2H121.9M135.2 865.8H131.2V866.1H135.2M135.2 866.4H131.7V866.7H135.2M135.2 866.3H131.7V866.5H131.7M131.2 866.0H129.1V866.4H131.7M135.2 867.0H130.0V867.2H135.2M129.1 866.2H127.9V867.1H130.0M135.2 867.6H131.5V867.9H135.2M131.5 867.7H130.2V868.1H135.2M135.2 868.2H128.7V868.5H135.2M130.2 867.9H126.0V868.4H128.7M135.2 869.2H130.0V869.4H135.2M135.2 869.0H125.1V869.3H130.0M135.2 869.8H131.7V870.0H135.2M135.2 870.3H131.7V870.7H135.2M131.7 869.9H129.2V870.5H131.7M135.2 871.0H131.7V871.3H135.2M135.2 871.4H131.7V871.7H135.2M131.7 871.5H131.7V871.9H135.2M131.7 871.1H131.7V871.7H131.7M131.7 871.4H131.7V872.0H135.2M131.7 871.7H130.8V872.1H135.2M135.2 872.3H131.7V872.5H135.2M131.7 872.4H131.7V872.8H135.2M131.7 872.6H131.7V872.9H135.2M131.7 872.8H129.5V873.0H135.2M129.5 872.9H127.1V873.2H135.2M135.2 873.6H131.7V873.9H135.2M135.2 874.0H131.7V874.2H135.2M131.7 874.1H131.7V874.4H135.2M131.7 873.8H131.2V874.3H131.7M135.2 873.4H126.8V874.0H131.2M126.8 873.7H124.8V874.6H135.2M135.2 874.9H131.7V875.2H135.2M135.2 874.8H131.7V875.0H131.7M135.2 875.3H131.7V875.6H135.2M131.7 874.9H131.2V875.5H131.7M131.2 875.2H129.1V875.9H135.2M129.1 875.5H126.8V876.1H135.2M135.2 876.4H131.7V876.6H135.2M131.7 876.5H131.7V876.8H135.2M135.2 876.3H130.0V876.7H131.7M126.8 875.8H122.6V876.5H130.0M135.2 877.0H131.7V877.2H135.2M131.7 877.1H130.0V877.5H135.2M130.0 877.3H127.9V877.7H135.2M135.2 878.1H131.7V878.5H135.2M131.7 878.3H129.2V878.7H135.2M127.9 877.5H126.1V878.5H129.2M135.2 879.1H131.7V879.3H135.2M135.2 878.8H130.3V879.2H131.7M130.3 879.0H123.4V879.6H135.2M135.2 879.9H131.7V880.3H135.2M131.7 880.1H130.0V880.5H135.2M135.2 880.8H131.7V881.1H135.2M135.2 881.3H131.7V881.5H135.2M131.7 881.0H131.7V881.4H131.7M135.2 880.6H131.2V881.2H131.7M130.0 880.3H128.3V880.9H131.2M135.2 881.7H131.7V882.0H135.2M135.2 882.3H131.7V882.5H135.2M131.7 881.9H131.7V882.4H131.7M135.2 882.7H131.7V882.9H135.2M131.7 882.8H131.7V883.1H135.2M131.7 882.1H131.3V882.9H131.7M131.3 882.5H129.1V883.3H135.2M135.2 883.5H131.7V883.8H135.2M135.2 884.2H131.7V884.4H135.2M135.2 884.0H131.7V884.3H131.7M131.7 883.7H131.7V884.2H131.7M135.2 884.6H131.7V884.8H135.2M131.7 884.7H131.7V885.0H135.2M131.7 883.9H131.7V884.9H131.7M131.7 884.4H131.7V885.2H135.2M135.2 885.7H131.7V886.0H135.2M135.2 885.4H130.7V885.8H131.7M135.2 886.3H131.7V886.6H135.2M131.7 886.5H130.8V886.7H135.2M135.2 887.0H131.7V887.3H135.2M130.8 886.6H127.6V887.2H131.7M135.2 887.6H131.4V887.8H135.2M135.2 887.4H130.3V887.7H131.4M135.2 888.3H131.7V888.6H135.2M135.2 888.2H131.7V888.5H131.7M131.7 888.3H131.7V888.8H135.2M135.2 888.1H130.5V888.5H131.7M130.3 887.6H128.6V888.3H130.5M135.2 889.2H129.6V889.4H135.2M135.2 889.0H125.6V889.3H129.6M135.2 890.1H131.7V890.4H135.2M131.7 890.2H131.7V890.6H135.2M131.7 890.4H130.8V891.0H135.2M135.2 889.9H126.1V890.7H130.8M135.2 889.7H123.3V890.3H126.1M135.2 891.4H131.4V891.7H135.2M135.2 891.2H128.1V891.6H131.4M135.2 892.0H127.3V892.3H135.2M128.1 891.4H123.4V892.2H127.3M135.2 893.1H131.7V893.3H135.2M131.7 893.2H129.6V893.6H135.2M129.6 893.4H127.2V893.8H135.2M135.2 892.9H123.9V893.6H127.2M135.2 894.3H131.7V894.6H135.2M135.2 895.0H131.7V895.3H135.2M135.2 894.8H131.7V895.1H131.7M135.2 894.7H131.7V895.0H131.7M131.7 894.5H131.7V894.8H131.7M131.7 894.7H128.5V895.5H135.2M135.2 894.0H124.0V895.1H128.5M135.2 895.6H130.7V895.9H135.2M130.7 895.7H126.6V896.2H135.2M135.2 896.7H131.7V897.0H135.2M135.2 896.5H129.2V896.9H131.7M135.2 897.5H131.7V897.7H135.2M135.2 898.0H131.7V898.2H135.2M131.7 897.6H131.7V898.1H131.7M131.7 897.9H131.7V898.4H135.2M131.7 898.1H131.4V898.5H135.2M135.2 897.3H129.3V898.3H131.4M129.2 896.7H127.6V897.8H129.3M135.2 898.6H129.5V898.8H135.2M129.5 898.7H128.3V899.1H135.2M135.2 899.2H131.7V899.4H135.2M135.2 899.7H131.7V899.9H135.2M131.7 899.8H131.7V900.1H135.2M131.7 899.3H131.7V899.9H131.7M128.3 898.9H126.8V899.6H131.7M135.2 900.4H131.7V900.6H135.2M135.2 900.3H131.3V900.5H131.7M135.2 901.0H131.7V901.2H135.2M131.3 900.4H126.8V901.1H131.7M135.2 901.4H131.7V901.6H135.2M131.7 901.5H131.5V901.9H135.2M135.2 902.2H129.0V902.4H135.2M131.5 901.7H127.6V902.3H129.0M126.8 900.7H122.1V902.0H127.6M135.2 902.6H131.2V902.9H135.2M131.2 902.7H130.2V903.2H135.2M135.2 904.3H131.7V904.7H135.2M135.2 904.1H131.7V904.5H131.7M135.2 904.0H131.7V904.3H131.7M131.7 904.1H131.7V904.9H135.2M135.2 903.7H129.7V904.5H131.7M135.2 903.5H128.4V904.1H129.7M135.2 905.1H131.7V905.3H135.2M131.7 905.2H131.1V905.5H135.2M135.2 905.8H131.7V906.1H135.2M135.2 906.5H131.7V906.7H135.2M135.2 906.3H131.7V906.6H131.7M131.7 906.0H130.9V906.4H131.7M131.1 905.4H127.6V906.2H130.9M135.2 907.1H131.7V907.4H135.2M135.2 906.9H130.3V907.2H131.7M135.2 906.8H125.6V907.1H130.3M135.2 907.7H130.8V907.9H135.2M135.2 908.4H131.7V908.6H135.2M135.2 908.2H129.0V908.5H131.7M130.8 907.8H127.2V908.3H129.0M135.2 909.3H131.7V909.5H135.2M135.2 909.6H131.7V909.9H135.2M135.2 909.6H131.7V909.8H131.7M135.2 910.5H131.7V910.7H135.2M135.2 910.2H131.7V910.6H131.7M131.7 909.7H131.7V910.4H131.7M131.7 909.4H131.7V910.0H131.7M131.7 909.7H131.6V910.9H135.2M131.6 910.3H129.8V911.2H135.2M135.2 911.6H125.4V911.9H135.2M135.2 912.0H131.7V912.2H135.2M135.2 912.5H131.7V912.8H135.2M131.7 912.6H131.3V912.9H135.2M131.7 912.1H130.6V912.8H131.3M135.2 913.2H131.7V913.4H135.2M131.7 913.3H131.7V913.7H135.2M135.2 913.0H130.5V913.5H131.7M130.6 912.4H127.4V913.2H130.5M135.2 914.2H131.7V914.4H135.2M135.2 914.6H131.7V914.9H135.2M131.7 914.3H131.7V914.8H131.7M135.2 914.0H129.8V914.5H131.7M129.8 914.2H124.9V915.3H135.2M135.2 915.8H131.7V916.1H135.2M135.2 915.5H126.5V915.9H131.7M135.2 916.4H131.7V916.6H135.2M135.2 916.3H131.7V916.5H131.7M135.2 916.2H129.4V916.4H131.7M135.2 916.9H131.0V917.1H135.2M135.2 917.3H131.7V917.6H135.2M131.7 917.4H131.7V917.8H135.2M131.0 917.0H130.1V917.6H131.7M129.4 916.3H126.2V917.3H130.1M135.2 918.5H131.7V918.8H135.2M135.2 919.1H131.7V919.3H135.2M131.7 919.2H131.7V919.4H135.2M131.7 919.3H131.7V919.6H135.2M131.7 918.7H131.7V919.5H131.7M135.2 918.2H131.0V919.1H131.7M131.0 918.6H130.4V920.0H135.2M135.2 920.3H131.1V920.5H135.2M135.2 920.9H131.7V921.1H135.2M135.2 920.7H131.2V921.0H131.7M135.2 920.7H129.2V920.9H131.2M135.2 921.6H131.7V921.8H135.2M135.2 921.3H131.7V921.7H131.7M131.7 921.5H129.7V921.9H135.2M129.7 921.7H126.7V922.0H135.2M129.2 920.8H122.6V921.8H126.7M135.2 922.1H131.7V922.3H135.2M135.2 922.0H131.7V922.2H131.7M131.7 922.1H131.7V922.5H135.2M135.2 922.7H131.7V923.0H135.2M131.7 922.9H131.7V923.3H135.2M131.7 922.3H130.9V923.1H131.7M130.9 922.7H130.4V923.5H135.2M130.4 923.1H129.8V923.8H135.2M135.2 924.1H131.7V924.3H135.2M135.2 924.0H131.7V924.2H131.7M135.2 924.5H131.5V924.8H135.2M131.7 924.1H130.2V924.7H131.5M135.2 925.3H131.7V925.6H135.2M135.2 925.1H131.7V925.5H131.7M135.2 925.0H131.7V925.3H131.7M135.2 926.0H131.7V926.3H135.2M131.7 926.2H131.7V926.5H135.2M131.7 926.3H131.7V926.6H135.2M135.2 925.8H131.3V926.5H131.7M131.7 925.1H128.1V926.1H131.3M135.2 927.2H131.7V927.4H135.2M135.2 927.0H131.7V927.3H131.7M135.2 926.9H131.7V927.1H131.7M135.2 926.9H131.7V927.0H131.7M135.2 927.5H131.6V927.7H135.2M131.7 927.0H130.4V927.6H131.6M135.2 928.1H131.7V928.4H135.2M135.2 927.9H131.7V928.2H131.7M130.4 927.3H129.0V928.1H131.7M135.2 926.8H127.1V927.7H129.0M135.2 928.7H131.7V929.0H135.2M131.7 928.8H131.4V929.2H135.2M135.2 929.4H131.1V929.7H135.2M131.4 929.0H126.8V929.5H131.1M135.2 929.8H125.9V930.0H135.2M125.9 929.9H121.6V930.4H135.2M135.2 930.7H131.7V931.0H135.2M135.2 931.3H131.7V931.5H135.2M135.2 931.1H131.7V931.4H131.7M131.7 931.3H131.7V931.8H135.2M131.7 930.9H130.8V931.5H131.7M135.2 932.1H130.3V932.4H135.2M130.8 931.2H125.8V932.3H130.3M135.2 932.8H131.7V933.0H135.2M131.7 932.9H131.0V933.3H135.2M135.2 933.5H129.2V933.8H135.2M131.0 933.1H127.8V933.6H129.2M127.8 933.3H119.6V934.0H135.2M135.2 934.2H131.7V934.4H135.2M131.7 934.3H131.5V934.8H135.2M135.2 935.1H131.7V935.3H135.2M131.7 935.2H131.7V935.5H135.2M135.2 935.9H131.7V936.1H135.2M135.2 935.7H131.7V936.0H131.7M131.7 935.4H129.3V935.8H131.7M131.5 934.5H125.0V935.6H129.3M135.2 936.4H131.7V936.7H135.2M131.7 936.6H131.5V936.8H135.2M135.2 936.2H130.5V936.7H131.5M135.2 937.3H131.7V937.6H135.2M135.2 937.1H131.7V937.4H131.7M135.2 936.9H129.9V937.3H131.7M130.5 936.4H125.6V937.1H129.9M135.2 937.8H129.8V938.1H135.2M135.2 938.3H130.1V938.7H135.2M129.8 938.0H123.8V938.5H130.1M135.2 939.1H131.7V939.3H135.2M135.2 939.6H131.7V939.9H135.2M131.7 939.8H131.7V940.1H135.2M131.7 939.9H131.7V940.2H135.2M135.2 940.3H131.7V940.6H135.2M131.7 940.1H131.7V940.5H131.7M131.7 939.2H131.7V940.3H131.7M135.2 938.9H128.8V939.7H131.7M135.2 940.9H129.3V941.1H135.2M128.8 939.3H127.9V941.0H129.3M135.2 941.7H131.7V942.0H135.2M131.7 941.8H131.7V942.1H135.2M135.2 941.4H131.2V942.0H131.7M135.2 942.6H131.7V942.9H135.2M131.7 942.8H131.7V943.2H135.2M131.7 943.0H131.7V943.5H135.2M131.7 943.2H131.7V943.6H135.2M135.2 942.3H131.7V943.4H131.7M131.7 942.9H129.9V943.8H135.2M135.2 944.3H131.7V944.6H135.2M131.7 944.4H131.7V944.8H135.2M135.2 944.0H131.7V944.6H131.7M135.2 945.1H131.7V945.3H135.2M131.7 945.2H131.7V945.5H135.2M131.7 945.3H131.7V945.7H135.2M135.2 945.8H131.7V946.0H135.2M131.7 945.5H131.4V945.9H131.7M131.7 944.3H128.3V945.7H131.4M135.2 946.2H130.1V946.4H135.2M135.2 947.1H131.7V947.3H135.2M135.2 946.8H131.7V947.2H131.7M130.1 946.3H128.9V947.0H131.7M135.2 947.4H131.7V947.6H135.2M131.7 947.5H129.5V948.0H135.2M128.9 946.7H127.7V947.8H129.5M135.2 948.3H131.7V948.5H135.2M135.2 948.7H131.7V948.9H135.2M131.7 948.4H131.7V948.8H131.7M135.2 949.1H131.7V949.4H135.2M135.2 950.0H131.7V950.2H135.2M135.2 949.8H131.7V950.1H131.7M135.2 949.6H131.7V949.9H131.7M131.7 949.3H131.7V949.8H131.7M131.7 948.6H129.6V949.5H131.7M135.2 950.7H131.7V950.9H135.2M131.7 950.8H125.5V951.2H135.2M135.2 950.5H123.6V951.0H125.5M135.2 951.6H131.7V951.8H135.2M135.2 952.0H131.7V952.3H135.2M135.2 951.9H131.7V952.1H131.7M131.7 951.7H131.7V952.0H131.7M135.2 952.6H131.7V952.8H135.2M131.7 952.7H131.7V953.0H135.2M131.7 952.8H131.7V953.2H135.2M131.7 951.9H128.3V953.0H131.7M135.2 951.3H125.7V952.4H128.3M135.2 953.7H131.7V954.0H135.2M131.7 953.9H131.7V954.3H135.2M135.2 954.5H131.7V954.8H135.2M131.7 954.1H131.7V954.6H131.7M135.2 953.4H130.2V954.4H131.7M135.2 955.0H131.7V955.2H135.2M130.2 953.9H129.2V955.1H131.7M135.2 955.5H128.8V955.8H135.2M128.8 955.7H127.6V956.0H135.2M135.2 956.1H131.3V956.4H135.2M131.3 956.2H128.3V956.6H135.2M127.6 955.8H123.6V956.4H128.3M135.2 957.1H131.7V957.4H135.2M135.2 956.7H130.0V957.2H131.7M135.2 958.0H131.7V958.2H135.2M131.7 958.1H129.8V958.3H135.2M135.2 957.6H126.9V958.2H129.8M130.0 957.0H123.4V957.9H126.9M135.2 958.9H131.7V959.1H135.2M135.2 958.6H130.3V959.0H131.7M130.3 958.8H129.2V959.3H135.2M129.2 959.0H127.5V959.5H135.2M135.2 960.0H131.4V960.3H135.2M131.4 960.2H127.4V960.7H135.2M135.2 960.9H131.0V961.2H135.2M131.0 961.1H128.5V961.5H135.2M127.4 960.4H122.7V961.3H128.5M135.2 961.8H131.7V962.0H135.2M135.2 962.2H131.7V962.4H135.2M131.7 961.9H131.7V962.3H131.7M135.2 962.6H131.7V962.9H135.2M131.7 962.8H131.7V963.1H135.2M131.7 962.9H131.7V963.4H135.2M135.2 963.8H131.7V964.1H135.2M135.2 963.5H131.7V963.9H131.7M131.7 963.2H131.7V963.7H131.7M135.2 965.4H131.7V965.6H135.2M135.2 965.8H131.7V966.1H135.2M131.7 966.0H131.7V966.3H135.2M131.7 965.5H131.7V966.2H131.7M135.2 965.1H131.7V965.8H131.7M131.7 965.5H131.6V966.5H135.2M135.2 965.0H128.3V966.0H131.6M135.2 964.7H124.6V965.5H128.3M135.2 966.7H121.4V967.0H135.2M135.2 967.3H128.5V967.5H135.2M128.5 967.4H126.7V967.6H135.2M135.2 967.8H126.2V968.0H135.2M126.7 967.5H121.5V967.9H126.2M121.4 966.9H119.0V967.7H121.5M135.2 968.6H131.7V968.8H135.2M131.7 968.7H131.7V969.0H135.2M131.7 968.8H130.1V969.1H135.2M135.2 968.3H126.5V969.0H130.1M135.2 969.3H129.3V969.6H135.2M129.3 969.5H128.2V969.8H135.2M135.2 969.2H124.5V969.6H128.2M126.5 968.6H121.1V969.4H124.5M135.2 970.0H131.7V970.3H135.2M131.7 970.1H131.7V970.5H135.2M135.2 970.7H131.7V970.9H135.2M131.7 970.3H128.1V970.8H131.7M135.2 971.1H131.7V971.3H135.2M131.7 971.2H131.7V971.6H135.2M135.2 971.0H131.2V971.4H131.7M128.1 970.5H126.5V971.2H131.2M135.2 972.5H131.7V972.8H135.2M135.2 972.1H131.7V972.6H131.7M135.2 971.8H129.6V972.4H131.7M129.6 972.1H127.5V972.9H135.2M135.2 973.3H131.7V973.5H135.2M135.2 973.7H131.7V974.0H135.2M131.7 973.4H131.7V973.8H131.7M135.2 973.1H130.9V973.6H131.7M135.2 974.3H131.7V974.5H135.2M131.7 974.4H131.7V974.7H135.2M131.7 974.5H130.5V974.9H135.2M130.9 973.3H129.4V974.7H130.5M135.2 975.2H130.9V975.5H135.2M135.2 975.0H129.0V975.3H130.9M135.2 975.8H131.7V976.0H135.2M131.7 975.9H131.7V976.1H135.2M135.2 975.6H130.6V976.0H131.7M130.6 975.8H128.5V976.1H135.2M129.0 975.2H124.0V976.0H128.5M135.2 976.7H127.7V977.0H135.2M135.2 976.5H122.9V976.9H127.7M122.9 976.7H118.9V977.3H135.2M135.2 977.7H126.5V978.0H135.2M135.2 978.6H131.7V978.9H135.2M131.7 978.7H131.7V979.1H135.2M135.2 978.3H128.2V978.9H131.7M135.2 979.2H129.4V979.4H135.2M135.2 979.8H131.6V980.0H135.2M129.4 979.3H127.5V979.9H131.6M128.2 978.6H125.1V979.6H127.5M135.2 980.5H131.7V980.8H135.2M135.2 980.3H131.7V980.6H131.7M135.2 980.2H129.8V980.5H131.7M129.8 980.3H126.5V980.9H135.2M126.5 980.6H122.4V981.1H135.2M135.2 981.4H124.9V981.7H135.2M135.2 981.3H122.3V981.6H124.9M122.4 980.9H119.4V981.4H122.3" fill="none" stroke="#1e1e1e" stroke-width="0.55"/>
<path d="M122.3 704.9H121.6V706.4H123.5M130.0 708.4H128.4V709.7H129.1M129.2 707.9H126.4V709.1H128.4M135.2 707.5H125.1V708.5H126.4M125.1 708.0H124.2V710.7H135.2M123.6 707.2H122.5V709.3H124.2M121.6 705.6H121.0V708.3H122.5M121.0 706.9H118.3V711.9H118.9M118.3 709.4H116.6V713.9H122.9M116.6 711.6H116.0V715.4H118.1M121.2 719.3H117.9V720.9H124.4M116.4 717.4H115.8V720.1H117.9M126.5 723.1H122.4V724.0H125.5M124.6 726.8H121.6V727.8H126.3M125.9 725.2H121.1V727.3H121.6M121.1 726.2H118.1V728.7H119.4M122.4 723.5H117.5V727.5H118.1M115.8 718.8H115.3V725.5H117.5M123.2 729.7H122.0V730.8H125.6M135.2 729.4H119.0V730.3H122.0M119.0 729.8H115.7V732.7H117.3M115.3 722.1H115.0V731.3H115.7M116.0 713.5H113.8V726.7H115.0M125.9 736.7H124.4V737.8H126.7M126.1 735.4H123.2V737.3H124.4M122.8 734.6H121.5V736.4H123.2M121.5 735.5H119.9V739.1H120.5M129.9 743.4H127.0V744.3H129.3M126.8 742.5H122.4V743.9H127.0M122.4 743.2H122.1V747.0H124.2M120.6 741.2H119.9V745.1H122.1M119.9 737.3H117.8V743.1H119.9M128.3 751.0H124.7V752.6H127.4M124.7 751.8H123.5V753.8H128.7M123.3 749.0H121.7V752.8H123.5M128.4 754.6H125.1V756.0H128.1M125.1 755.3H123.7V756.7H135.2M121.7 750.9H118.5V756.0H123.7M117.8 740.2H115.7V753.4H118.5M113.8 720.1H113.3V746.8H115.7M125.3 758.5H122.8V760.2H123.5M122.0 757.6H117.1V759.4H122.8M117.1 758.5H115.7V761.2H135.2M122.1 762.5H117.4V764.2H118.7M119.2 766.6H116.1V768.1H117.7M117.4 763.3H115.2V767.4H116.1M127.5 769.1H124.1V771.2H125.2M128.3 776.1H127.7V777.2H130.5M129.6 774.2H126.8V776.7H127.7M129.3 773.4H125.4V775.4H126.8M127.1 772.8H124.1V774.4H125.4M128.9 772.3H122.4V773.6H124.1M122.4 772.9H121.9V777.6H135.2M124.1 770.2H118.6V775.2H121.9M128.1 779.6H120.7V780.8H125.0M124.7 778.3H120.2V780.2H120.7M118.6 772.7H117.8V779.2H120.2M117.8 776.0H115.6V782.2H126.3M115.2 765.4H113.9V779.1H115.6M115.7 759.8H112.1V772.2H113.9M113.3 733.5H110.4V766.0H112.1M125.2 784.2H119.5V785.3H122.7M123.2 786.6H117.9V787.9H120.7M119.5 784.7H115.8V787.3H117.9M119.8 783.1H112.2V786.0H115.8M120.5 789.5H115.0V791.1H119.4M128.7 793.8H124.9V795.6H125.6M124.9 794.7H124.5V796.3H135.2M124.5 795.5H122.5V796.6H126.2M122.5 796.1H121.5V797.9H126.5M124.2 800.2H122.3V801.8H124.0M123.4 799.4H120.8V801.0H122.3M121.5 797.0H118.3V800.2H120.8M120.5 803.8H118.6V805.7H124.8M118.3 798.6H117.7V804.7H118.6M125.0 792.7H116.4V801.7H117.7M126.4 808.6H125.7V810.1H127.8M125.7 809.3H125.1V811.4H128.2M125.1 810.4H124.5V812.5H128.9M124.5 811.4H122.1V813.2H126.5M122.1 812.3H121.0V813.8H125.1M122.1 807.1H118.5V813.1H121.0M116.4 797.2H115.3V810.1H118.5M127.8 816.3H123.6V817.5H125.2M126.4 814.5H122.1V816.9H123.6M128.2 820.3H125.4V822.0H127.3M124.3 818.8H122.2V821.2H125.4M122.1 815.7H119.6V820.0H122.2M119.6 817.8H118.3V824.4H123.2M115.3 803.6H114.3V821.1H118.3M115.0 790.3H113.5V812.4H114.3M122.9 825.2H119.7V826.8H120.4M123.7 830.0H122.2V832.1H125.8M124.6 828.1H120.4V831.0H122.2M119.7 826.0H118.8V829.6H120.4M123.1 833.1H118.9V834.7H119.6M118.8 827.8H115.7V833.9H118.9M113.5 801.3H113.0V830.9H115.7M112.2 784.6H110.0V816.1H113.0M110.4 749.7H109.6V800.3H110.0M129.1 837.3H125.4V838.5H130.0M125.4 837.9H120.0V840.1H124.9M125.0 836.1H119.2V839.0H120.0M119.2 837.6H113.6V841.3H135.2M123.9 842.1H119.7V843.7H126.8M129.6 847.6H126.3V848.9H128.2M119.0 845.9H116.2V848.2H126.3M119.7 842.9H112.9V847.1H116.2M113.6 839.4H111.8V845.0H112.9M123.2 850.7H117.5V852.8H120.1M126.0 855.1H118.2V856.5H120.4M126.1 853.9H115.1V855.8H118.2M115.1 854.8H114.3V857.3H135.2M117.5 851.8H113.5V856.1H114.3M111.8 842.2H110.2V853.9H113.5M129.7 858.3H125.0V859.7H126.5M125.0 859.0H119.9V861.4H127.3M135.2 857.6H114.2V860.2H119.9M127.9 866.6H124.7V868.1H126.0M124.7 867.4H116.7V868.8H135.2M117.4 864.6H115.0V868.1H116.7M124.6 862.8H113.3V866.4H115.0M114.2 858.9H112.5V864.6H113.3M129.2 870.2H125.6V871.9H130.8M125.1 869.2H122.5V871.1H125.6M122.5 870.1H120.9V873.0H127.1M120.9 871.6H120.1V874.2H124.8M122.6 876.1H118.9V878.0H126.1M120.1 872.9H116.7V877.1H118.9M123.4 879.3H121.4V880.6H128.3M116.7 875.0H113.9V879.9H121.4M131.7 884.8H128.5V885.6H130.7M129.1 882.9H125.3V885.2H128.5M127.6 886.9H126.3V887.9H128.6M126.3 887.4H123.8V889.1H125.6M125.3 884.1H122.0V888.3H123.8M122.0 886.2H120.4V890.0H123.3M120.4 888.1H118.0V891.8H123.4M113.9 877.5H111.5V889.9H118.0M112.5 861.7H111.2V883.7H111.5M110.2 848.1H109.4V872.7H111.2M123.9 893.2H121.8V894.5H124.0M121.8 893.9H118.3V896.0H126.6M135.2 892.7H114.9V894.9H118.3M127.6 897.2H119.6V899.3H126.8M119.6 898.2H118.7V901.4H122.1M114.9 893.8H113.3V899.8H118.7M128.4 903.8H122.9V905.8H127.6M130.2 903.0H121.6V904.8H122.9M121.6 903.9H120.3V906.9H125.6M135.2 908.9H127.4V910.7H129.8M127.2 908.1H123.1V909.8H127.4M123.1 909.0H122.5V911.4H135.2M127.4 912.8H120.4V914.8H124.9M125.4 911.7H119.8V913.8H120.4M122.5 910.2H118.7V912.8H119.8M126.5 915.7H123.8V916.8H126.2M130.4 919.3H127.9V920.4H131.1M127.9 919.8H121.2V921.3H122.6M123.8 916.3H120.4V920.6H121.2M129.8 923.4H127.0V924.4H130.2M127.1 927.2H124.6V929.3H126.8M128.1 925.6H122.9V928.2H124.6M127.0 923.9H120.0V926.9H122.9M120.4 918.4H118.8V925.4H120.0M118.8 921.9H117.2V930.2H121.6M118.7 911.5H117.0V926.0H117.2M120.3 905.4H115.2V918.8H117.0M125.8 931.7H117.8V933.7H119.6M125.0 935.1H117.9V936.8H125.6M117.9 935.9H117.0V938.2H123.8M117.8 932.7H116.3V937.1H117.0M131.2 941.7H128.2V943.3H129.9M128.2 942.5H125.4V945.0H128.3M127.9 940.2H123.1V943.8H125.4M127.7 947.2H124.0V949.0H129.6M123.1 942.0H120.9V948.1H124.0M116.3 934.9H115.6V945.0H120.9M115.2 912.1H114.5V940.0H115.6M125.7 951.9H124.0V954.5H129.2M124.0 953.2H120.5V956.1H123.6M123.6 950.7H119.7V954.7H120.5M123.4 957.5H121.5V959.3H127.5M121.5 958.4H118.5V959.8H135.2M119.7 952.7H116.8V959.1H118.5M114.5 926.0H114.0V955.9H116.8M113.3 896.8H112.3V941.0H114.0M131.7 962.1H129.2V963.4H131.7M129.2 962.8H124.0V964.4H135.2M124.0 963.6H116.5V965.1H124.6M126.5 970.9H124.4V972.5H127.5M124.4 971.7H123.3V974.0H129.4M123.3 972.9H122.6V975.6H124.0M122.6 974.2H120.8V976.3H135.2M121.1 969.0H118.1V975.2H120.8M119.0 967.3H116.5V972.1H118.1M116.5 964.4H115.3V969.7H116.5M122.7 960.8H114.5V967.0H115.3M126.5 977.9H123.4V979.1H125.1M123.4 978.5H117.3V981.1H119.4M118.9 977.0H114.7V979.8H117.3M114.5 963.9H113.3V978.4H114.7M112.3 918.9H110.6V971.2H113.3M109.4 860.4H108.8V945.0H110.6M109.6 775.0H108.0V902.7H108.8" fill="none" stroke="#1a1a1a" stroke-width="0.75"/>
<text transform="translate(145.5 990.2) rotate(45)" font-size="7" fill="#333">T0A</text>
<text transform="translate(167.4 990.2) rotate(45)" font-size="7" fill="#333">T0C</text>
<text transform="translate(189.3 990.2) rotate(45)" font-size="7" fill="#333">T0B</text>
<text transform="translate(211.3 990.2) rotate(45)" font-size="7" fill="#333">T1A</text>
<text transform="translate(233.2 990.2) rotate(45)" font-size="7" fill="#333">T1C</text>
<text transform="translate(255.1 990.2) rotate(45)" font-size="7" fill="#333">T1B</text>
<text transform="translate(277.0 990.2) rotate(45)" font-size="7" fill="#333">T2B</text>
<text transform="translate(299.0 990.2) rotate(45)" font-size="7" fill="#333">T2A</text>
<text transform="translate(320.9 990.2) rotate(45)" font-size="7" fill="#333">T2C</text>
<text transform="translate(342.8 990.2) rotate(45)" font-size="7" fill="#333">T4B</text>
<text transform="translate(364.8 990.2) rotate(45)" font-size="7" fill="#333">T4C</text>
<text transform="translate(386.7 990.2) rotate(45)" font-size="7" fill="#333">T4A</text>
<text transform="translate(408.6 990.2) rotate(45)" font-size="7" fill="#333">T5A</text>
<text transform="translate(430.6 990.2) rotate(45)" font-size="7" fill="#333">T5C</text>
<text transform="translate(452.5 990.2) rotate(45)" font-size="7" fill="#333">T5B</text>
<text transform="translate(474.4 990.2) rotate(45)" font-size="7" fill="#333">T3B</text>
<text transform="translate(496.3 990.2) rotate(45)" font-size="7" fill="#333">T3C</text>
<text transform="translate(518.3 990.2) rotate(45)" font-size="7" fill="#333">T3A</text>
<defs><linearGradient id="cb" x1="0" y1="0" x2="0" y2="1"><stop offset="0.000" stop-color="rgb(170,15,50)"/><stop offset="0.250" stop-color="rgb(222,126,128)"/><stop offset="0.375" stop-color="rgb(240,192,168)"/><stop offset="0.500" stop-color="rgb(255,255,200)"/><stop offset="0.750" stop-color="rgb(120,186,140)"/><stop offset="1.000" stop-color="rgb(15,105,55)"/></linearGradient></defs>
<rect x="562.8" y="704.2" width="9.3" height="82.3" fill="url(#cb)"/>
<path d="M572.1 704.6h2.6" stroke="#444" stroke-width="1.1"/>
<text class="ax" x="576.6" y="708.4" fill="#111">4</text>
<path d="M572.1 725.1h2.6" stroke="#444" stroke-width="1.1"/>
<text class="ax" x="576.6" y="728.9" fill="#111">2</text>
<path d="M572.1 745.5h2.6" stroke="#444" stroke-width="1.1"/>
<text class="ax" x="576.6" y="749.3" fill="#111">0</text>
<path d="M572.1 766.0h2.6" stroke="#444" stroke-width="1.1"/>
<text class="ax" x="576.6" y="769.8" fill="#111">−2</text>
<path d="M572.1 786.4h2.6" stroke="#444" stroke-width="1.1"/>
<text class="ax" x="576.6" y="790.2" fill="#111">−4</text>
<text class="at" x="563" y="814.2" fill="#111">Group</text>
<rect x="563" y="826.6" width="10.7" height="10.2" fill="#E64B35"/>
<text class="ax" x="579.7" y="835.5" fill="#111">T0</text>
<rect x="563" y="841.3" width="10.7" height="10.2" fill="#4DBBD5"/>
<text class="ax" x="579.7" y="850.2" fill="#111">T1</text>
<rect x="563" y="855.9" width="10.7" height="10.2" fill="#00A087"/>
<text class="ax" x="579.7" y="864.8" fill="#111">T2</text>
<rect x="563" y="870.6" width="10.7" height="10.2" fill="#3C5488"/>
<text class="ax" x="579.7" y="879.5" fill="#111">T4</text>
<rect x="563" y="885.2" width="10.7" height="10.2" fill="#F39B7F"/>
<text class="ax" x="579.7" y="894.1" fill="#111">T5</text>
<rect x="563" y="899.9" width="10.7" height="10.2" fill="#8491B4"/>
<text class="ax" x="579.7" y="908.8" fill="#111">T3</text>
</g>
</svg>
</body></html>
